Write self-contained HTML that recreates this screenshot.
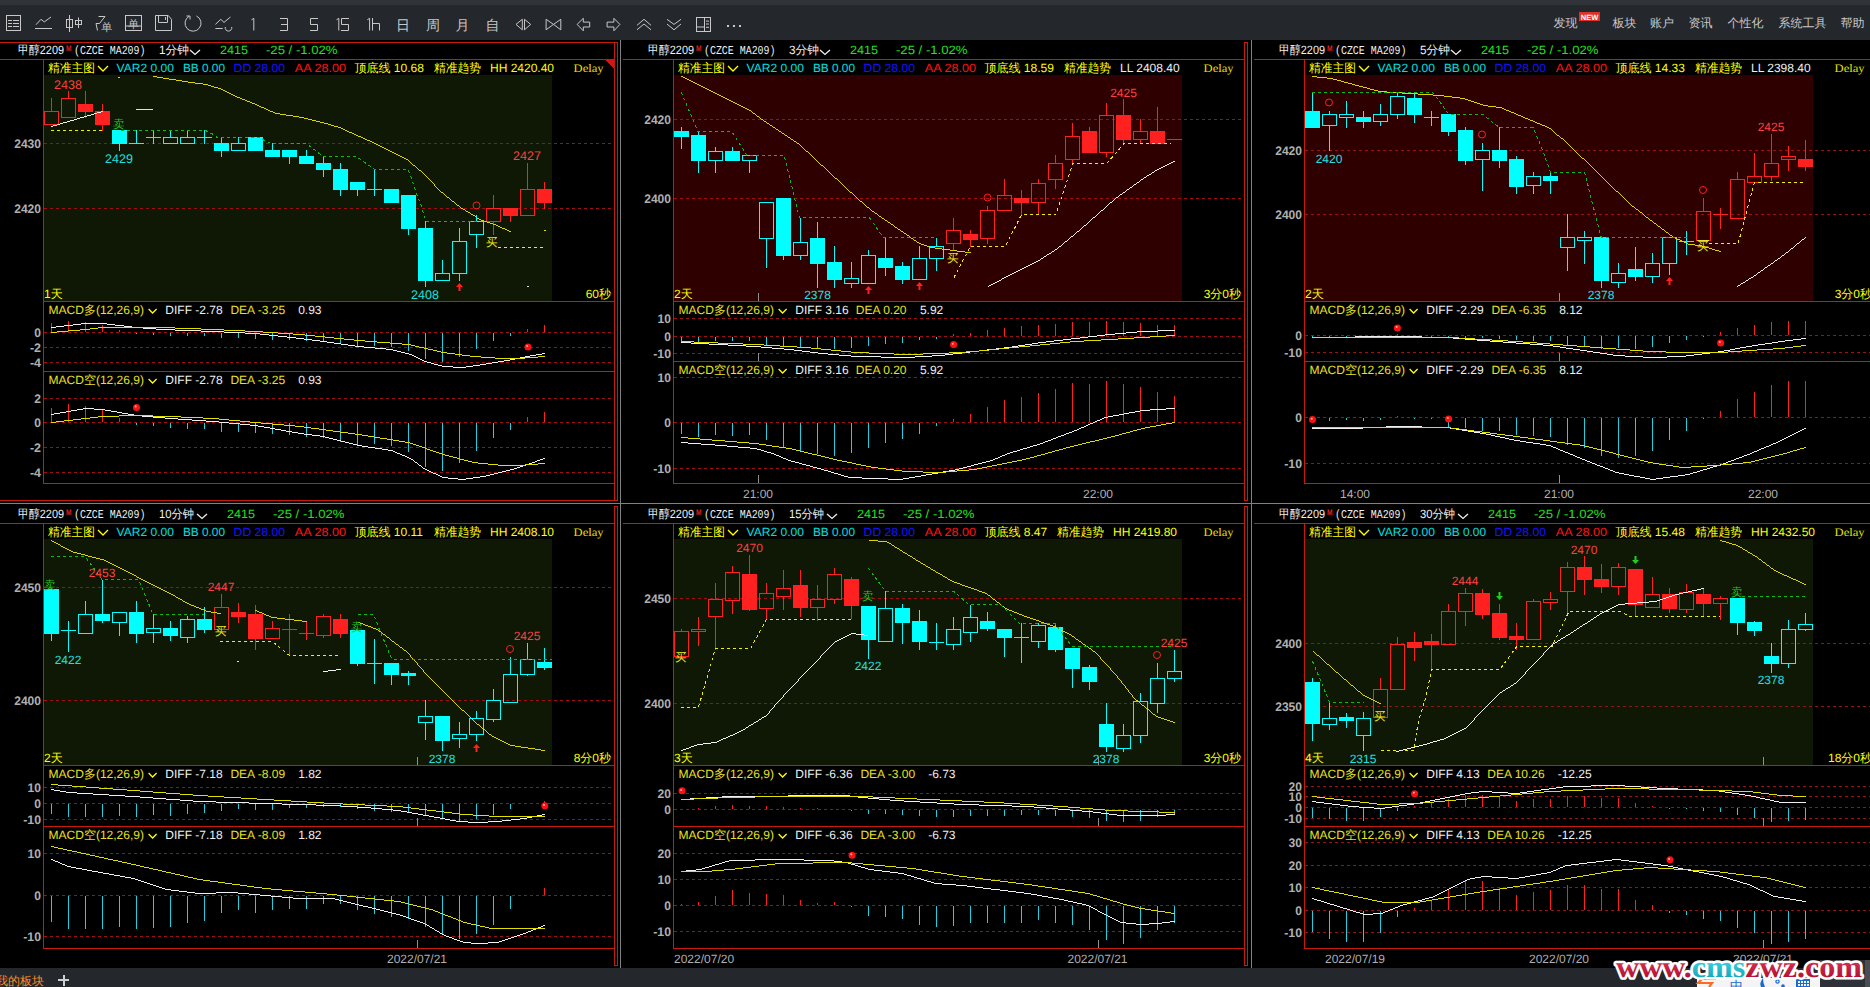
<!DOCTYPE html><html><head><meta charset="utf-8"><style>html,body{margin:0;padding:0;background:#000;overflow:hidden;}svg{display:block;} text{shape-rendering:auto;}</style></head><body><svg width="1870" height="987" viewBox="0 0 1870 987" shape-rendering="crispEdges" text-rendering="geometricPrecision">
<rect x="0" y="0" width="1870" height="987" fill="#000"/>
<rect x="0" y="0" width="1870" height="40" fill="#24272c"/>
<rect x="0" y="0" width="1870" height="5" fill="#303338"/>
<rect x="0" y="40" width="1870" height="2" fill="#000"/>
<g><rect x="6.5" y="15.5" width="14" height="15" fill="none" stroke="#c8c8c8" stroke-width="1" shape-rendering="auto"/><line x1="8" y1="20.5" x2="12" y2="20.5" fill="none" stroke="#c8c8c8" stroke-width="1" shape-rendering="auto"/><line x1="13" y1="20.5" x2="19" y2="20.5" fill="none" stroke="#c8c8c8" stroke-width="1" shape-rendering="auto"/><line x1="8" y1="23.5" x2="12" y2="23.5" fill="none" stroke="#c8c8c8" stroke-width="1" shape-rendering="auto"/><line x1="13" y1="23.5" x2="19" y2="23.5" fill="none" stroke="#c8c8c8" stroke-width="1" shape-rendering="auto"/><line x1="8" y1="26.5" x2="12" y2="26.5" fill="none" stroke="#c8c8c8" stroke-width="1" shape-rendering="auto"/><line x1="13" y1="26.5" x2="19" y2="26.5" fill="none" stroke="#c8c8c8" stroke-width="1" shape-rendering="auto"/><polyline points="36,24.7 41,19.3 44.3,21.9 51,17" fill="none" stroke="#c8c8c8" stroke-width="1" shape-rendering="auto"/><line x1="35" y1="28.5" x2="52" y2="28.5" fill="none" stroke="#c8c8c8" stroke-width="1" shape-rendering="auto"/><rect x="66.5" y="19.5" width="6" height="8" fill="none" stroke="#c8c8c8" stroke-width="1" shape-rendering="auto"/><line x1="69.5" y1="15" x2="69.5" y2="32" fill="none" stroke="#c8c8c8" stroke-width="1" shape-rendering="auto"/><rect x="75.5" y="20.5" width="6" height="4" fill="none" stroke="#c8c8c8" stroke-width="1" shape-rendering="auto"/><line x1="78.5" y1="17.5" x2="78.5" y2="28" fill="none" stroke="#c8c8c8" stroke-width="1" shape-rendering="auto"/><polyline points="98.5,16.5 105,16.5 99.5,23.5 96,23.5 97.5,30.5" fill="none" stroke="#c8c8c8" stroke-width="1" shape-rendering="auto"/><text x="106.8" y="31" fill="#c8c8c8" font-size="11" text-anchor="middle" font-family="Liberation Sans" font-weight="300">单</text><rect x="125.5" y="15.5" width="16" height="15" fill="none" stroke="#c8c8c8" stroke-width="1" shape-rendering="auto"/><line x1="125" y1="26" x2="142" y2="26" fill="none" stroke="#c8c8c8" stroke-width="1" shape-rendering="auto"/><text x="133.5" y="28" fill="#c8c8c8" font-size="11" text-anchor="middle" font-family="Liberation Sans" font-weight="300">单</text><path d="M155.5,15.5 H168.2 L171.5,19.3 V30.5 H155.5 Z" fill="none" stroke="#c8c8c8" stroke-width="1" shape-rendering="auto"/><path d="M158.5,15.5 V22.5 H167.5 V15.5" fill="none" stroke="#c8c8c8" stroke-width="1" shape-rendering="auto"/><line x1="165.5" y1="17" x2="165.5" y2="20" fill="none" stroke="#c8c8c8" stroke-width="1" shape-rendering="auto"/><path d="M189,16.3 A8,8 0 1 0 196.5,16" fill="none" stroke="#c8c8c8" stroke-width="1" shape-rendering="auto"/><path d="M186.5,16 L190,16 L190,19.5" fill="none" stroke="#c8c8c8" stroke-width="1" shape-rendering="auto"/><polyline points="215.4,24.4 220.8,19.3 224,22.4 230.4,17" fill="none" stroke="#c8c8c8" stroke-width="1" shape-rendering="auto"/><line x1="215.4" y1="28.5" x2="222.7" y2="28.5" fill="none" stroke="#c8c8c8" stroke-width="1" shape-rendering="auto"/><path d="M225.3,27 A3.3,3.3 0 1 0 231.7,27" fill="none" stroke="#c8c8c8" stroke-width="1" shape-rendering="auto"/><path d="M251.5,19.8 L253.8,18.3 V30.5" fill="none" stroke="#c8c8c8" stroke-width="1" shape-rendering="auto"/><path d="M280,18.5 H287.5 V30.5 H280 M281,24.5 H287.5" fill="none" stroke="#c8c8c8" stroke-width="1" shape-rendering="auto"/><path d="M318,18.5 H310.5 V24.5 H317.5 V30.5 H310" fill="none" stroke="#c8c8c8" stroke-width="1" shape-rendering="auto"/><path d="M336.5,19.8 L338.8,18.3 V30.5" fill="none" stroke="#c8c8c8" stroke-width="1" shape-rendering="auto"/><path d="M349,18.5 H341.5 V24.5 H348.5 V30.5 H341" fill="none" stroke="#c8c8c8" stroke-width="1" shape-rendering="auto"/><path d="M367.3,19.8 L369.6,18.3 V30.5" fill="none" stroke="#c8c8c8" stroke-width="1" shape-rendering="auto"/><path d="M372.5,18 V30.5 M372.5,23.5 H379.5 V30.5" fill="none" stroke="#c8c8c8" stroke-width="1" shape-rendering="auto"/></g>
<text x="403" y="30" fill="#c8c8c8" font-size="14" font-family='"Liberation Sans", sans-serif' font-weight="300" text-anchor="middle" >日</text>
<text x="433" y="30" fill="#c8c8c8" font-size="14" font-family='"Liberation Sans", sans-serif' font-weight="300" text-anchor="middle" >周</text>
<text x="462.5" y="30" fill="#c8c8c8" font-size="14" font-family='"Liberation Sans", sans-serif' font-weight="300" text-anchor="middle" >月</text>
<text x="492.5" y="30" fill="#c8c8c8" font-size="14" font-family='"Liberation Sans", sans-serif' font-weight="300" text-anchor="middle" >自</text>
<g><polygon points="516,24.4 522.3,19.3 522.3,29.8" fill="none" stroke="#c8c8c8" stroke-width="1" shape-rendering="auto"/><polygon points="524.5,19.3 530.7,24.4 524.5,29.8" fill="none" stroke="#c8c8c8" stroke-width="1" shape-rendering="auto"/><polygon points="546.1,19.3 553.5,24.4 546.1,29.8" fill="none" stroke="#c8c8c8" stroke-width="1" shape-rendering="auto"/><polygon points="560.8,19.3 553.5,24.4 560.8,29.8" fill="none" stroke="#c8c8c8" stroke-width="1" shape-rendering="auto"/><polygon points="577.1,24.4 583.3,18.3 583.3,22.1 589.7,22.1 589.7,27 583.3,27 583.3,30.8" fill="none" stroke="#c8c8c8" stroke-width="1" shape-rendering="auto"/><polygon points="619.9,24.4 613.9,18.3 613.9,22.1 607.1,22.1 607.1,27 613.9,27 613.9,30.8" fill="none" stroke="#c8c8c8" stroke-width="1" shape-rendering="auto"/><polyline points="637,25.3 644,19.3 651,25.3" fill="none" stroke="#c8c8c8" stroke-width="1" shape-rendering="auto"/><polyline points="637,29.8 644,24 651,29.8" fill="none" stroke="#c8c8c8" stroke-width="1" shape-rendering="auto"/><polyline points="667,19.3 674,24.4 681,19.3" fill="none" stroke="#c8c8c8" stroke-width="1" shape-rendering="auto"/><polyline points="667,24 674,29.8 681,24" fill="none" stroke="#c8c8c8" stroke-width="1" shape-rendering="auto"/><rect x="696.5" y="17.5" width="14" height="14" fill="none" stroke="#c8c8c8" stroke-width="1" shape-rendering="auto"/><line x1="704.5" y1="17.5" x2="704.5" y2="31.5" fill="none" stroke="#c8c8c8" stroke-width="1" shape-rendering="auto"/><line x1="696.5" y1="27" x2="704.5" y2="27" fill="none" stroke="#c8c8c8" stroke-width="1" shape-rendering="auto"/><line x1="706" y1="21.1" x2="709" y2="21.1" fill="none" stroke="#c8c8c8" stroke-width="1" shape-rendering="auto"/><line x1="706" y1="24" x2="709" y2="24" fill="none" stroke="#c8c8c8" stroke-width="1" shape-rendering="auto"/><line x1="706" y1="27.3" x2="709" y2="27.3" fill="none" stroke="#c8c8c8" stroke-width="1" shape-rendering="auto"/><rect x="726.7" y="25" width="2" height="2" fill="#c8c8c8"/><rect x="733.1" y="25" width="2" height="2" fill="#c8c8c8"/><rect x="738.9" y="25" width="2" height="2" fill="#c8c8c8"/></g>
<text x="1553.5" y="27" fill="#c8c8c8" font-size="12" font-family='"Liberation Sans", sans-serif' font-weight="normal" text-anchor="start" >发现</text>
<text x="1612.5" y="27" fill="#c8c8c8" font-size="12" font-family='"Liberation Sans", sans-serif' font-weight="normal" text-anchor="start" >板块</text>
<text x="1650" y="27" fill="#c8c8c8" font-size="12" font-family='"Liberation Sans", sans-serif' font-weight="normal" text-anchor="start" >账户</text>
<text x="1688.5" y="27" fill="#c8c8c8" font-size="12" font-family='"Liberation Sans", sans-serif' font-weight="normal" text-anchor="start" >资讯</text>
<text x="1727.5" y="27" fill="#c8c8c8" font-size="12" font-family='"Liberation Sans", sans-serif' font-weight="normal" text-anchor="start" >个性化</text>
<text x="1778.5" y="27" fill="#c8c8c8" font-size="12" font-family='"Liberation Sans", sans-serif' font-weight="normal" text-anchor="start" >系统工具</text>
<text x="1840.5" y="27" fill="#c8c8c8" font-size="12" font-family='"Liberation Sans", sans-serif' font-weight="normal" text-anchor="start" >帮助</text>
<rect x="1579" y="12" width="21" height="9" fill="#e0302a"/>
<text x="1589.5" y="19.5" fill="#fff" font-size="7.5" font-family='"Liberation Sans", sans-serif' font-weight="bold" text-anchor="middle" >NEW</text>
<rect x="620" y="40" width="1" height="928" fill="#808080"/>
<rect x="1251" y="40" width="1" height="928" fill="#808080"/>
<rect x="0" y="503" width="1870" height="1" fill="#808080"/>
<g transform="translate(0,0)">
<text x="18" y="54" fill="#f0f0f0" font-size="12" font-family='"Liberation Sans", sans-serif' font-weight="normal" text-anchor="start" textLength="46" lengthAdjust="spacingAndGlyphs">甲醇2209</text>
<text x="66" y="50.5" fill="#e02020" font-size="8" font-family='"Liberation Sans", sans-serif' font-weight="bold" text-anchor="start" textLength="5.5" lengthAdjust="spacingAndGlyphs">M</text>
<text x="74" y="54" fill="#f0f0f0" font-size="12" font-family='"Liberation Mono", monospace' font-weight="normal" text-anchor="start" textLength="71.5" lengthAdjust="spacingAndGlyphs">(CZCE MA209)</text>
<text x="159" y="54" fill="#f0f0f0" font-size="12" font-family='"Liberation Sans", sans-serif' font-weight="normal" text-anchor="start" textLength="30" lengthAdjust="spacingAndGlyphs">1分钟</text>
<polyline points="190,50 195,54.5 200,50" fill="none" stroke="#f0f0f0" stroke-width="1.3" shape-rendering="auto"/>
<text x="220" y="54" fill="#20e020" font-size="12" font-family='"Liberation Sans", sans-serif' font-weight="normal" text-anchor="start" textLength="28" lengthAdjust="spacingAndGlyphs">2415</text>
<text x="266" y="54" fill="#20e020" font-size="12" font-family='"Liberation Sans", sans-serif' font-weight="normal" text-anchor="start" textLength="71.5" lengthAdjust="spacingAndGlyphs">-25 / -1.02%</text>
<rect x="0" y="59" width="615" height="1" fill="#c81a0c"/>
<rect x="43" y="59" width="1" height="425" fill="#c81a0c"/>
<rect x="614" y="42" width="1" height="459" fill="#c81a0c"/>
<rect x="617" y="42" width="1" height="459" fill="#c81a0c"/>
<rect x="0" y="42" width="618" height="1" fill="#c81a0c"/>
<rect x="0" y="500" width="618" height="1" fill="#c81a0c"/>
<polygon points="605,60 614,60 614,69" fill="#d01810"/>
<rect x="44" y="75" width="508" height="226" fill="#0e1804"/>
<rect x="43" y="301" width="572" height="1" fill="#c81a0c"/>
<rect x="43" y="371" width="572" height="1" fill="#c81a0c"/>
<rect x="43" y="483" width="572" height="1" fill="#c81a0c"/>
<text x="48" y="71.5" fill="#ffff00" font-size="12" font-family='"Liberation Sans", sans-serif' font-weight="normal" text-anchor="start" textLength="47" lengthAdjust="spacingAndGlyphs">精准主图</text>
<polyline points="98,66 103,71 108,66" fill="none" stroke="#ffff00" stroke-width="1.4" shape-rendering="auto"/>
<text x="116.6" y="71.5" fill="#00e0e0" font-size="12" font-family='"Liberation Sans", sans-serif' font-weight="normal" text-anchor="start" textLength="57.4" lengthAdjust="spacingAndGlyphs">VAR2 0.00</text>
<text x="183" y="71.5" fill="#00e0e0" font-size="12" font-family='"Liberation Sans", sans-serif' font-weight="normal" text-anchor="start" textLength="42" lengthAdjust="spacingAndGlyphs">BB 0.00</text>
<text x="233.6" y="71.5" fill="#1414ff" font-size="12" font-family='"Liberation Sans", sans-serif' font-weight="normal" text-anchor="start" textLength="51.4" lengthAdjust="spacingAndGlyphs">DD 28.00</text>
<text x="294.8" y="71.5" fill="#ff1414" font-size="12" font-family='"Liberation Sans", sans-serif' font-weight="normal" text-anchor="start" textLength="51.2" lengthAdjust="spacingAndGlyphs">AA 28.00</text>
<text x="354.5" y="71.5" fill="#ffff00" font-size="12" font-family='"Liberation Sans", sans-serif' font-weight="normal" text-anchor="start" >顶底线 10.68</text>
<text x="434" y="71.5" fill="#ffff00" font-size="12" font-family='"Liberation Sans", sans-serif' font-weight="normal" text-anchor="start" textLength="47" lengthAdjust="spacingAndGlyphs">精准趋势</text>
<text x="490" y="71.5" fill="#ffff00" font-size="12" font-family='"Liberation Sans", sans-serif' font-weight="normal" text-anchor="start" >HH 2420.40</text>
<text x="573.6" y="71.5" fill="#e8e000" font-size="11.5" font-family='"Liberation Serif", serif' font-weight="normal" text-anchor="start" textLength="30" lengthAdjust="spacingAndGlyphs">Delay</text>
<line x1="44" y1="143.5" x2="614" y2="143.5" stroke="#a01010" stroke-width="1" stroke-dasharray="3 3"/>
<text x="41" y="148" fill="#b0b0b0" font-size="12.5" font-family='"Liberation Sans", sans-serif' font-weight="bold" text-anchor="end" textLength="26.8" lengthAdjust="spacingAndGlyphs">2430</text>
<line x1="44" y1="208.5" x2="614" y2="208.5" stroke="#a01010" stroke-width="1" stroke-dasharray="3 3"/>
<text x="41" y="213" fill="#b0b0b0" font-size="12.5" font-family='"Liberation Sans", sans-serif' font-weight="bold" text-anchor="end" textLength="26.8" lengthAdjust="spacingAndGlyphs">2420</text>
<line x1="44" y1="332.5" x2="614" y2="332.5" stroke="#a01010" stroke-width="1" stroke-dasharray="3 3"/>
<text x="41" y="337" fill="#b0b0b0" font-size="12.5" font-family='"Liberation Sans", sans-serif' font-weight="bold" text-anchor="end" textLength="6.7" lengthAdjust="spacingAndGlyphs">0</text>
<line x1="44" y1="347.5" x2="614" y2="347.5" stroke="#a01010" stroke-width="1" stroke-dasharray="3 3"/>
<text x="41" y="352" fill="#b0b0b0" font-size="12.5" font-family='"Liberation Sans", sans-serif' font-weight="bold" text-anchor="end" textLength="11.1" lengthAdjust="spacingAndGlyphs">-2</text>
<line x1="44" y1="362.5" x2="614" y2="362.5" stroke="#a01010" stroke-width="1" stroke-dasharray="3 3"/>
<text x="41" y="367" fill="#b0b0b0" font-size="12.5" font-family='"Liberation Sans", sans-serif' font-weight="bold" text-anchor="end" textLength="11.1" lengthAdjust="spacingAndGlyphs">-4</text>
<line x1="44" y1="398.5" x2="614" y2="398.5" stroke="#a01010" stroke-width="1" stroke-dasharray="3 3"/>
<text x="41" y="403" fill="#b0b0b0" font-size="12.5" font-family='"Liberation Sans", sans-serif' font-weight="bold" text-anchor="end" textLength="6.7" lengthAdjust="spacingAndGlyphs">2</text>
<line x1="44" y1="422.5" x2="614" y2="422.5" stroke="#a01010" stroke-width="1" stroke-dasharray="3 3"/>
<text x="41" y="427" fill="#b0b0b0" font-size="12.5" font-family='"Liberation Sans", sans-serif' font-weight="bold" text-anchor="end" textLength="6.7" lengthAdjust="spacingAndGlyphs">0</text>
<line x1="44" y1="447.5" x2="614" y2="447.5" stroke="#a01010" stroke-width="1" stroke-dasharray="3 3"/>
<text x="41" y="452" fill="#b0b0b0" font-size="12.5" font-family='"Liberation Sans", sans-serif' font-weight="bold" text-anchor="end" textLength="11.1" lengthAdjust="spacingAndGlyphs">-2</text>
<line x1="44" y1="472.5" x2="614" y2="472.5" stroke="#a01010" stroke-width="1" stroke-dasharray="3 3"/>
<text x="41" y="477" fill="#b0b0b0" font-size="12.5" font-family='"Liberation Sans", sans-serif' font-weight="bold" text-anchor="end" textLength="11.1" lengthAdjust="spacingAndGlyphs">-4</text>
<text x="48.5" y="314" fill="#e8e020" font-size="12" font-family='"Liberation Sans", sans-serif' font-weight="normal" text-anchor="start" textLength="95.5" lengthAdjust="spacingAndGlyphs">MACD多(12,26,9)</text>
<polyline points="148.6,309 152.6,313 156.6,309" fill="none" stroke="#ffff00" stroke-width="1.3" shape-rendering="auto"/>
<text x="165.3" y="314" fill="#f0f0f0" font-size="12" font-family='"Liberation Sans", sans-serif' font-weight="normal" text-anchor="start" >DIFF -2.78</text>
<text x="230.4" y="314" fill="#e8e020" font-size="12" font-family='"Liberation Sans", sans-serif' font-weight="normal" text-anchor="start" >DEA -3.25</text>
<text x="298.2" y="314" fill="#f0f0f0" font-size="12" font-family='"Liberation Sans", sans-serif' font-weight="normal" text-anchor="start" >0.93</text>
<text x="48.5" y="384" fill="#e8e020" font-size="12" font-family='"Liberation Sans", sans-serif' font-weight="normal" text-anchor="start" textLength="95.5" lengthAdjust="spacingAndGlyphs">MACD空(12,26,9)</text>
<polyline points="148.6,379 152.6,383 156.6,379" fill="none" stroke="#ffff00" stroke-width="1.3" shape-rendering="auto"/>
<text x="165.3" y="384" fill="#f0f0f0" font-size="12" font-family='"Liberation Sans", sans-serif' font-weight="normal" text-anchor="start" >DIFF -2.78</text>
<text x="230.4" y="384" fill="#e8e020" font-size="12" font-family='"Liberation Sans", sans-serif' font-weight="normal" text-anchor="start" >DEA -3.25</text>
<text x="298.2" y="384" fill="#f0f0f0" font-size="12" font-family='"Liberation Sans", sans-serif' font-weight="normal" text-anchor="start" >0.93</text>
<text x="44" y="297.5" fill="#ffff00" font-size="12" font-family='"Liberation Sans", sans-serif' font-weight="normal" text-anchor="start" >1天</text>
<text x="611" y="297.5" fill="#ffff00" font-size="12" font-family='"Liberation Sans", sans-serif' font-weight="normal" text-anchor="end" >60秒</text>
<rect x="51" y="98" width="1" height="13" fill="#ff2020"/>
<rect x="44.5" y="111.5" width="14" height="13" fill="none" stroke="#ff2020" stroke-width="1"/>
<rect x="68" y="91" width="1" height="7" fill="#ff2020"/>
<rect x="61.5" y="98.5" width="14" height="19" fill="none" stroke="#ff2020" stroke-width="1"/>
<rect x="85" y="91" width="1" height="13" fill="#ff2020"/>
<rect x="85" y="112" width="1" height="6" fill="#ff2020"/>
<rect x="78" y="104" width="15" height="8" fill="#ff2020"/>
<rect x="102" y="104" width="1" height="7" fill="#ff2020"/>
<rect x="102" y="125" width="1" height="6" fill="#ff2020"/>
<rect x="95" y="111" width="15" height="14" fill="#ff2020"/>
<rect x="119" y="144" width="1" height="7" fill="#00ffff"/>
<rect x="112" y="130" width="15" height="14" fill="#00ffff"/>
<rect x="136" y="130" width="1" height="13" fill="#00ffff"/>
<rect x="129" y="143" width="15" height="1" fill="#00ffff"/>
<rect x="153" y="130" width="1" height="7" fill="#00ffff"/>
<rect x="153" y="138" width="1" height="6" fill="#00ffff"/>
<rect x="146" y="137" width="15" height="1" fill="#00ffff"/>
<rect x="170" y="130" width="1" height="7" fill="#00ffff"/>
<rect x="163.5" y="137.5" width="14" height="6" fill="none" stroke="#00ffff" stroke-width="1"/>
<rect x="187" y="130" width="1" height="7" fill="#00ffff"/>
<rect x="180.5" y="137.5" width="14" height="6" fill="none" stroke="#00ffff" stroke-width="1"/>
<rect x="204" y="130" width="1" height="7" fill="#00ffff"/>
<rect x="204" y="138" width="1" height="6" fill="#00ffff"/>
<rect x="197" y="137" width="15" height="1" fill="#00ffff"/>
<rect x="221" y="137" width="1" height="6" fill="#00ffff"/>
<rect x="221" y="151" width="1" height="6" fill="#00ffff"/>
<rect x="214" y="143" width="15" height="8" fill="#00ffff"/>
<rect x="238" y="137" width="1" height="6" fill="#00ffff"/>
<rect x="231.5" y="143.5" width="14" height="7" fill="none" stroke="#00ffff" stroke-width="1"/>
<rect x="248" y="137" width="15" height="14" fill="#00ffff"/>
<rect x="272" y="143" width="1" height="7" fill="#00ffff"/>
<rect x="265" y="150" width="15" height="7" fill="#00ffff"/>
<rect x="289" y="157" width="1" height="7" fill="#00ffff"/>
<rect x="282" y="150" width="15" height="7" fill="#00ffff"/>
<rect x="306" y="150" width="1" height="6" fill="#00ffff"/>
<rect x="299" y="156" width="15" height="8" fill="#00ffff"/>
<rect x="323" y="156" width="1" height="7" fill="#00ffff"/>
<rect x="323" y="170" width="1" height="7" fill="#00ffff"/>
<rect x="316" y="163" width="15" height="7" fill="#00ffff"/>
<rect x="340" y="163" width="1" height="6" fill="#00ffff"/>
<rect x="340" y="190" width="1" height="6" fill="#00ffff"/>
<rect x="333" y="169" width="15" height="21" fill="#00ffff"/>
<rect x="357" y="190" width="1" height="6" fill="#00ffff"/>
<rect x="350" y="182" width="15" height="8" fill="#00ffff"/>
<rect x="374" y="169" width="1" height="20" fill="#00ffff"/>
<rect x="374" y="190" width="1" height="6" fill="#00ffff"/>
<rect x="367" y="189" width="15" height="1" fill="#00ffff"/>
<rect x="384" y="189" width="15" height="14" fill="#00ffff"/>
<rect x="408" y="229" width="1" height="6" fill="#00ffff"/>
<rect x="401" y="195" width="15" height="34" fill="#00ffff"/>
<rect x="425" y="221" width="1" height="7" fill="#00ffff"/>
<rect x="425" y="281" width="1" height="6" fill="#00ffff"/>
<rect x="418" y="228" width="15" height="53" fill="#00ffff"/>
<rect x="442" y="260" width="1" height="13" fill="#00ffff"/>
<rect x="435.5" y="273.5" width="14" height="7" fill="none" stroke="#00ffff" stroke-width="1"/>
<rect x="459" y="228" width="1" height="13" fill="#00ffff"/>
<rect x="459" y="274" width="1" height="7" fill="#00ffff"/>
<rect x="452.5" y="241.5" width="14" height="32" fill="none" stroke="#00ffff" stroke-width="1"/>
<rect x="476" y="215" width="1" height="6" fill="#00ffff"/>
<rect x="476" y="235" width="1" height="13" fill="#00ffff"/>
<rect x="469.5" y="221.5" width="14" height="13" fill="none" stroke="#00ffff" stroke-width="1"/>
<rect x="493" y="195" width="1" height="13" fill="#ff2020"/>
<rect x="493" y="222" width="1" height="13" fill="#ff2020"/>
<rect x="486.5" y="208.5" width="14" height="13" fill="none" stroke="#ff2020" stroke-width="1"/>
<rect x="510" y="216" width="1" height="6" fill="#ff2020"/>
<rect x="503" y="208" width="15" height="8" fill="#ff2020"/>
<rect x="527" y="163" width="1" height="26" fill="#ff2020"/>
<rect x="520.5" y="189.5" width="14" height="26" fill="none" stroke="#ff2020" stroke-width="1"/>
<rect x="544" y="182" width="1" height="7" fill="#ff2020"/>
<rect x="544" y="203" width="1" height="6" fill="#ff2020"/>
<rect x="537" y="189" width="15" height="14" fill="#ff2020"/>
<path d="M153 76h4v1h-4zM157 77h6v1h-6zM163 78h6v1h-6zM169 79h7v1h-7zM176 80h6v1h-6zM182 81h6v1h-6zM188 82h7v1h-7zM195 83h8v1h-8zM203 84h5v1h-5zM208 85h3v1h-3zM211 86h3v1h-3zM214 87h4v1h-4zM218 88h3v1h-3zM221 89h2v1h-2zM223 90h2v1h-2zM225 91h2v1h-2zM227 92h2v1h-2zM229 93h2v1h-2zM231 94h2v1h-2zM233 95h2v1h-2zM235 96h2v1h-2zM237 97h3v1h-3zM240 98h2v1h-2zM242 99h3v1h-3zM245 100h2v1h-2zM247 101h3v1h-3zM250 102h2v1h-2zM252 103h3v1h-3zM255 104h2v1h-2zM257 105h2v1h-2zM259 106h2v1h-2zM261 107h3v1h-3zM264 108h2v1h-2zM266 109h2v1h-2zM268 110h2v1h-2zM270 111h3v1h-3zM273 112h2v1h-2zM275 113h5v1h-5zM280 114h6v1h-6zM286 115h7v1h-7zM293 116h6v1h-6zM299 117h5v1h-5zM304 118h4v1h-4zM308 119h4v1h-4zM312 120h4v1h-4zM316 121h4v1h-4zM320 122h4v1h-4zM324 123h4v1h-4zM328 124h3v1h-3zM331 125h3v1h-3zM334 126h4v1h-4zM338 127h3v1h-3zM341 128h2v1h-2zM343 129h2v1h-2zM345 130h2v1h-2zM347 131h2v1h-2zM349 132h3v1h-3zM352 133h2v1h-2zM354 134h2v1h-2zM356 135h2v1h-2zM358 136h3v1h-3zM361 137h2v1h-2zM363 138h2v1h-2zM365 139h2v1h-2zM367 140h3v1h-3zM370 141h2v1h-2zM372 142h2v1h-2zM374 143h2v1h-2zM376 144h2v1h-2zM378 145h2v1h-2zM380 146h2v1h-2zM382 147h2v1h-2zM384 148h2v1h-2zM386 149h2v1h-2zM388 150h2v1h-2zM390 151h2v1h-2zM392 152h2v1h-2zM394 153h2v1h-2zM396 154h2v1h-2zM398 155h2v1h-2zM400 156h2v1h-2zM402 157h2v1h-2zM404 158h2v1h-2zM406 159h2v1h-2zM408 160h1v1h-1zM409 161h1v1h-1zM410 162h1v1h-1zM411 163h1v1h-1zM412 164h1v1h-1zM413 165h2v1h-2zM415 166h1v1h-1zM416 167h1v1h-1zM417 168h1v1h-1zM418 169h1v1h-1zM419 170h2v1h-2zM421 171h1v1h-1zM422 172h1v1h-1zM423 173h1v1h-1zM424 174h1v1h-1zM425 175h1v1h-1zM426 176h1v1h-1zM427 177h1v1h-1zM428 178h1v1h-1zM429 179h1v1h-1zM430 180h1v1h-1zM431 181h1v1h-1zM432 182h1v1h-1zM433 183h1v1h-1zM434 184h1v1h-1zM434 185h1v1h-1zM435 186h1v1h-1zM436 187h1v1h-1zM437 188h1v1h-1zM438 189h1v1h-1zM439 190h1v1h-1zM440 191h1v1h-1zM441 192h2v1h-2zM443 193h1v1h-1zM444 194h1v1h-1zM445 195h1v1h-1zM446 196h1v1h-1zM447 197h2v1h-2zM449 198h1v1h-1zM450 199h1v1h-1zM451 200h1v1h-1zM452 201h2v1h-2zM454 202h1v1h-1zM455 203h1v1h-1zM456 204h1v1h-1zM457 205h2v1h-2zM459 206h1v1h-1zM460 207h1v1h-1zM461 208h2v1h-2zM463 209h2v1h-2zM465 210h1v1h-1zM466 211h2v1h-2zM468 212h2v1h-2zM470 213h1v1h-1zM471 214h2v1h-2zM473 215h2v1h-2zM475 216h1v1h-1zM476 217h1v1h-1zM477 218h2v1h-2zM479 219h2v1h-2zM481 220h3v1h-3zM484 221h3v1h-3zM487 222h3v1h-3zM490 223h3v1h-3zM493 224h3v1h-3zM496 225h2v1h-2zM498 226h2v1h-2zM500 227h2v1h-2zM502 228h3v1h-3zM505 229h2v1h-2zM507 230h2v1h-2zM509 231h2v1h-2z" fill="#dcd400"/>
<path d="M101 111h2v1h-2zM97 112h4v1h-4zM94 113h3v1h-3zM91 114h3v1h-3zM87 115h4v1h-4zM84 116h3v1h-3zM80 117h4v1h-4zM77 118h3v1h-3zM74 119h3v1h-3zM70 120h4v1h-4zM67 121h3v1h-3zM63 122h4v1h-4zM60 123h3v1h-3zM57 124h3v1h-3zM53 125h4v1h-4zM51 126h2v1h-2z" fill="#f0f0f0"/>
<polyline points="51.0,130.5 103.0,130.5" fill="none" stroke="#f0f000" stroke-width="1" stroke-dasharray="3 3"/>
<polyline points="121.0,130.5 205.5,130.5 210.0,132.9 215.7,135.5 217.0,137.5 259.4,137.5 263.9,140.3 270.9,143.5 305.6,143.5 312.0,147.7 319.0,153.4 323.6,156.5 356.2,156.5 367.8,164.5 372.3,167.9 374.5,169.5 407.9,169.5 410.1,174.6 414.6,187.9 416.8,194.6 420.2,202.4 424.1,215.8 425.7,219.1 427.0,221.5 477.0,221.5" fill="none" stroke="#10b810" stroke-width="1" stroke-dasharray="3 3"/>
<polyline points="498.0,247.5 545.0,247.5" fill="none" stroke="#f0f000" stroke-width="1" stroke-dasharray="3 3"/>
<rect x="136" y="109" width="17" height="1" fill="#e0e0e0"/>
<text x="68" y="89" fill="#ff4040" font-size="12.5" font-family="Liberation Sans" text-anchor="middle">2438</text>
<text x="119" y="163" fill="#20e0e0" font-size="12.5" font-family="Liberation Sans" text-anchor="middle">2429</text>
<text x="425" y="299" fill="#20e0e0" font-size="12.5" font-family="Liberation Sans" text-anchor="middle">2408</text>
<text x="527" y="160" fill="#ff4040" font-size="12.5" font-family="Liberation Sans" text-anchor="middle">2427</text>
<text x="113" y="128" fill="#24c424" font-size="11.5" font-family="Liberation Sans">卖</text>
<text x="486" y="246" fill="#f0e818" font-size="11.5" font-family="Liberation Sans">买</text>
<circle cx="476.5" cy="205.5" r="3.5" fill="none" stroke="#ff2020" stroke-width="1" shape-rendering="auto"/>
<path d="M459.5,283 L463,287 L460.5,287 L460.5,291 L458.5,291 L458.5,287 L456,287 Z" fill="#ff2020" shape-rendering="auto"/>
<rect x="544" y="230" width="2" height="1" fill="#e0e000"/>
<rect x="118" y="77" width="2" height="1" fill="#e0e000"/>
<rect x="527" y="286" width="2" height="1" fill="#e0e0e0"/>
<rect x="51" y="323" width="1" height="9" fill="#ff2020"/>
<rect x="68" y="321" width="1" height="11" fill="#ff2020"/>
<rect x="85" y="322" width="1" height="10" fill="#ff2020"/>
<rect x="102" y="325" width="1" height="7" fill="#ff2020"/>
<rect x="119" y="330" width="1" height="2" fill="#ff2020"/>
<rect x="136" y="333" width="1" height="1" fill="#20d0e0"/>
<rect x="153" y="333" width="1" height="2" fill="#20d0e0"/>
<rect x="170" y="333" width="1" height="3" fill="#20d0e0"/>
<rect x="187" y="333" width="1" height="3" fill="#20d0e0"/>
<rect x="204" y="333" width="1" height="3" fill="#20d0e0"/>
<rect x="221" y="333" width="1" height="5" fill="#20d0e0"/>
<rect x="238" y="333" width="1" height="5" fill="#20d0e0"/>
<rect x="255" y="333" width="1" height="6" fill="#20d0e0"/>
<rect x="272" y="333" width="1" height="7" fill="#20d0e0"/>
<rect x="289" y="333" width="1" height="7" fill="#20d0e0"/>
<rect x="306" y="333" width="1" height="8" fill="#20d0e0"/>
<rect x="323" y="333" width="1" height="8" fill="#20d0e0"/>
<rect x="340" y="333" width="1" height="11" fill="#20d0e0"/>
<rect x="357" y="333" width="1" height="14" fill="#20d0e0"/>
<rect x="374" y="333" width="1" height="13" fill="#20d0e0"/>
<rect x="391" y="333" width="1" height="14" fill="#20d0e0"/>
<rect x="408" y="333" width="1" height="18" fill="#20d0e0"/>
<rect x="425" y="333" width="1" height="26" fill="#20d0e0"/>
<rect x="442" y="333" width="1" height="29" fill="#20d0e0"/>
<rect x="459" y="333" width="1" height="24" fill="#20d0e0"/>
<rect x="476" y="333" width="1" height="16" fill="#20d0e0"/>
<rect x="493" y="333" width="1" height="8" fill="#20d0e0"/>
<rect x="510" y="333" width="1" height="3" fill="#20d0e0"/>
<rect x="527" y="329" width="1" height="3" fill="#ff2020"/>
<rect x="544" y="325" width="1" height="7" fill="#ff2020"/>
<path d="M81 323h26v1h-26zM73 324h8v1h-8zM107 324h8v1h-8zM64 325h9v1h-9zM115 325h9v1h-9zM56 326h8v1h-8zM124 326h8v1h-8zM51 327h5v1h-5zM132 327h11v1h-11zM143 328h13v1h-13zM156 329h19v1h-19zM175 330h26v1h-26zM201 331h23v1h-23zM224 332h21v1h-21zM245 333h15v1h-15zM260 334h9v1h-9zM269 335h9v1h-9zM278 336h9v1h-9zM287 337h9v1h-9zM296 338h8v1h-8zM304 339h8v1h-8zM312 340h8v1h-8zM320 341h7v1h-7zM327 342h7v1h-7zM334 343h7v1h-7zM341 344h7v1h-7zM348 345h7v1h-7zM355 346h9v1h-9zM364 347h11v1h-11zM375 348h11v1h-11zM386 349h7v1h-7zM393 350h4v1h-4zM397 351h4v1h-4zM401 352h4v1h-4zM405 353h4v1h-4zM542 353h3v1h-3zM409 354h3v1h-3zM536 354h6v1h-6zM412 355h2v1h-2zM530 355h6v1h-6zM414 356h2v1h-2zM525 356h5v1h-5zM416 357h2v1h-2zM520 357h5v1h-5zM418 358h2v1h-2zM515 358h5v1h-5zM420 359h2v1h-2zM510 359h5v1h-5zM422 360h2v1h-2zM504 360h6v1h-6zM424 361h3v1h-3zM498 361h6v1h-6zM427 362h4v1h-4zM492 362h6v1h-6zM431 363h3v1h-3zM486 363h6v1h-6zM434 364h4v1h-4zM480 364h6v1h-6zM438 365h4v1h-4zM473 365h7v1h-7zM442 366h11v1h-11zM466 366h7v1h-7zM453 367h13v1h-13z" fill="#f0f0f0"/>
<path d="M98 327h77v1h-77zM90 328h8v1h-8zM175 328h26v1h-26zM80 329h10v1h-10zM201 329h23v1h-23zM68 330h12v1h-12zM224 330h21v1h-21zM57 331h11v1h-11zM245 331h18v1h-18zM51 332h6v1h-6zM263 332h15v1h-15zM278 333h15v1h-15zM293 334h12v1h-12zM305 335h10v1h-10zM315 336h10v1h-10zM325 337h9v1h-9zM334 338h10v1h-10zM344 339h10v1h-10zM354 340h11v1h-11zM365 341h12v1h-12zM377 342h13v1h-13zM390 343h12v1h-12zM402 344h9v1h-9zM411 345h4v1h-4zM415 346h4v1h-4zM419 347h5v1h-5zM424 348h4v1h-4zM428 349h5v1h-5zM433 350h4v1h-4zM437 351h4v1h-4zM441 352h6v1h-6zM447 353h8v1h-8zM455 354h7v1h-7zM462 355h8v1h-8zM470 356h11v1h-11zM538 356h7v1h-7zM481 357h14v1h-14zM525 357h13v1h-13zM495 358h30v1h-30z" fill="#e0e000"/>
<circle cx="528" cy="347" r="3.5" fill="#ff1010" shape-rendering="auto"/><circle cx="527.2" cy="346.1" r="1" fill="#ffb0b0" shape-rendering="auto"/>
<rect x="51" y="408" width="1" height="14" fill="#ff2020"/>
<rect x="68" y="404" width="1" height="18" fill="#ff2020"/>
<rect x="85" y="406" width="1" height="16" fill="#ff2020"/>
<rect x="102" y="410" width="1" height="12" fill="#ff2020"/>
<rect x="119" y="418" width="1" height="4" fill="#ff2020"/>
<rect x="136" y="423" width="1" height="2" fill="#20d0e0"/>
<rect x="153" y="423" width="1" height="3" fill="#20d0e0"/>
<rect x="170" y="423" width="1" height="5" fill="#20d0e0"/>
<rect x="187" y="423" width="1" height="6" fill="#20d0e0"/>
<rect x="204" y="423" width="1" height="6" fill="#20d0e0"/>
<rect x="221" y="423" width="1" height="9" fill="#20d0e0"/>
<rect x="238" y="423" width="1" height="9" fill="#20d0e0"/>
<rect x="255" y="423" width="1" height="10" fill="#20d0e0"/>
<rect x="272" y="423" width="1" height="11" fill="#20d0e0"/>
<rect x="289" y="423" width="1" height="12" fill="#20d0e0"/>
<rect x="306" y="423" width="1" height="14" fill="#20d0e0"/>
<rect x="323" y="423" width="1" height="15" fill="#20d0e0"/>
<rect x="340" y="423" width="1" height="19" fill="#20d0e0"/>
<rect x="357" y="423" width="1" height="22" fill="#20d0e0"/>
<rect x="374" y="423" width="1" height="21" fill="#20d0e0"/>
<rect x="391" y="423" width="1" height="23" fill="#20d0e0"/>
<rect x="408" y="423" width="1" height="29" fill="#20d0e0"/>
<rect x="425" y="423" width="1" height="44" fill="#20d0e0"/>
<rect x="442" y="423" width="1" height="48" fill="#20d0e0"/>
<rect x="459" y="423" width="1" height="40" fill="#20d0e0"/>
<rect x="476" y="423" width="1" height="28" fill="#20d0e0"/>
<rect x="493" y="423" width="1" height="15" fill="#20d0e0"/>
<rect x="510" y="423" width="1" height="7" fill="#20d0e0"/>
<rect x="527" y="417" width="1" height="5" fill="#ff2020"/>
<rect x="544" y="412" width="1" height="10" fill="#ff2020"/>
<path d="M83 408h11v1h-11zM77 409h6v1h-6zM94 409h11v1h-11zM71 410h6v1h-6zM105 410h6v1h-6zM66 411h5v1h-5zM111 411h6v1h-6zM60 412h6v1h-6zM117 412h5v1h-5zM54 413h6v1h-6zM122 413h6v1h-6zM51 414h3v1h-3zM128 414h6v1h-6zM134 415h8v1h-8zM142 416h11v1h-11zM153 417h12v1h-12zM165 418h13v1h-13zM178 419h14v1h-14zM192 420h14v1h-14zM206 421h13v1h-13zM219 422h10v1h-10zM229 423h11v1h-11zM240 424h10v1h-10zM250 425h8v1h-8zM258 426h6v1h-6zM264 427h6v1h-6zM270 428h5v1h-5zM275 429h6v1h-6zM281 430h5v1h-5zM286 431h6v1h-6zM292 432h6v1h-6zM298 433h6v1h-6zM304 434h8v1h-8zM312 435h8v1h-8zM320 436h5v1h-5zM325 437h4v1h-4zM329 438h4v1h-4zM333 439h4v1h-4zM337 440h4v1h-4zM341 441h4v1h-4zM345 442h4v1h-4zM349 443h4v1h-4zM353 444h4v1h-4zM357 445h5v1h-5zM362 446h6v1h-6zM368 447h7v1h-7zM375 448h7v1h-7zM382 449h6v1h-6zM388 450h5v1h-5zM393 451h2v1h-2zM395 452h2v1h-2zM397 453h3v1h-3zM400 454h2v1h-2zM402 455h3v1h-3zM405 456h2v1h-2zM407 457h2v1h-2zM409 458h2v1h-2zM543 458h2v1h-2zM411 459h2v1h-2zM540 459h3v1h-3zM413 460h1v1h-1zM537 460h3v1h-3zM414 461h1v1h-1zM535 461h2v1h-2zM415 462h2v1h-2zM532 462h3v1h-3zM417 463h1v1h-1zM529 463h3v1h-3zM418 464h1v1h-1zM526 464h3v1h-3zM419 465h2v1h-2zM523 465h3v1h-3zM421 466h1v1h-1zM520 466h3v1h-3zM422 467h1v1h-1zM517 467h3v1h-3zM423 468h2v1h-2zM514 468h3v1h-3zM425 469h2v1h-2zM510 469h4v1h-4zM427 470h2v1h-2zM506 470h4v1h-4zM429 471h2v1h-2zM502 471h4v1h-4zM431 472h2v1h-2zM498 472h4v1h-4zM433 473h3v1h-3zM494 473h4v1h-4zM436 474h2v1h-2zM490 474h4v1h-4zM438 475h2v1h-2zM486 475h4v1h-4zM440 476h2v1h-2zM480 476h6v1h-6zM442 477h6v1h-6zM473 477h7v1h-7zM448 478h10v1h-10zM466 478h7v1h-7zM458 479h8v1h-8z" fill="#f0f0f0"/>
<path d="M119 415h34v1h-34zM98 416h21v1h-21zM153 416h28v1h-28zM90 417h8v1h-8zM181 417h22v1h-22zM81 418h9v1h-9zM203 418h16v1h-16zM73 419h8v1h-8zM219 419h10v1h-10zM64 420h9v1h-9zM229 420h11v1h-11zM56 421h8v1h-8zM240 421h10v1h-10zM51 422h5v1h-5zM250 422h11v1h-11zM261 423h11v1h-11zM272 424h12v1h-12zM284 425h11v1h-11zM295 426h9v1h-9zM304 427h7v1h-7zM311 428h8v1h-8zM319 429h7v1h-7zM326 430h7v1h-7zM333 431h7v1h-7zM340 432h8v1h-8zM348 433h7v1h-7zM355 434h7v1h-7zM362 435h6v1h-6zM368 436h6v1h-6zM374 437h6v1h-6zM380 438h7v1h-7zM387 439h6v1h-6zM393 440h6v1h-6zM399 441h6v1h-6zM405 442h5v1h-5zM410 443h3v1h-3zM413 444h3v1h-3zM416 445h3v1h-3zM419 446h3v1h-3zM422 447h3v1h-3zM425 448h2v1h-2zM427 449h3v1h-3zM430 450h3v1h-3zM433 451h3v1h-3zM436 452h3v1h-3zM439 453h3v1h-3zM442 454h3v1h-3zM445 455h4v1h-4zM449 456h4v1h-4zM453 457h4v1h-4zM457 458h3v1h-3zM460 459h4v1h-4zM464 460h4v1h-4zM468 461h4v1h-4zM472 462h6v1h-6zM478 463h10v1h-10zM538 463h7v1h-7zM488 464h10v1h-10zM525 464h13v1h-13zM498 465h27v1h-27z" fill="#e0e000"/>
<circle cx="136.5" cy="407.5" r="3.5" fill="#ff1010" shape-rendering="auto"/><circle cx="135.7" cy="406.6" r="1" fill="#ffb0b0" shape-rendering="auto"/>
</g>
<g transform="translate(630,0)">
<text x="18" y="54" fill="#f0f0f0" font-size="12" font-family='"Liberation Sans", sans-serif' font-weight="normal" text-anchor="start" textLength="46" lengthAdjust="spacingAndGlyphs">甲醇2209</text>
<text x="66" y="50.5" fill="#e02020" font-size="8" font-family='"Liberation Sans", sans-serif' font-weight="bold" text-anchor="start" textLength="5.5" lengthAdjust="spacingAndGlyphs">M</text>
<text x="74" y="54" fill="#f0f0f0" font-size="12" font-family='"Liberation Mono", monospace' font-weight="normal" text-anchor="start" textLength="71.5" lengthAdjust="spacingAndGlyphs">(CZCE MA209)</text>
<text x="159" y="54" fill="#f0f0f0" font-size="12" font-family='"Liberation Sans", sans-serif' font-weight="normal" text-anchor="start" textLength="30" lengthAdjust="spacingAndGlyphs">3分钟</text>
<polyline points="190,50 195,54.5 200,50" fill="none" stroke="#f0f0f0" stroke-width="1.3" shape-rendering="auto"/>
<text x="220" y="54" fill="#20e020" font-size="12" font-family='"Liberation Sans", sans-serif' font-weight="normal" text-anchor="start" textLength="28" lengthAdjust="spacingAndGlyphs">2415</text>
<text x="266" y="54" fill="#20e020" font-size="12" font-family='"Liberation Sans", sans-serif' font-weight="normal" text-anchor="start" textLength="71.5" lengthAdjust="spacingAndGlyphs">-25 / -1.02%</text>
<rect x="-7" y="59" width="622" height="1" fill="#c81a0c"/>
<rect x="43" y="59" width="1" height="425" fill="#c81a0c"/>
<rect x="614" y="42" width="1" height="459" fill="#c81a0c"/>
<rect x="617" y="42" width="1" height="459" fill="#c81a0c"/>
<rect x="614" y="42" width="4" height="1" fill="#c81a0c"/>
<rect x="614" y="500" width="4" height="1" fill="#c81a0c"/>
<rect x="44" y="75" width="508" height="226" fill="#2e0000"/>
<rect x="43" y="301" width="572" height="1" fill="#c81a0c"/>
<rect x="43" y="361" width="572" height="1" fill="#c81a0c"/>
<rect x="43" y="483" width="572" height="1" fill="#c81a0c"/>
<text x="48" y="71.5" fill="#ffff00" font-size="12" font-family='"Liberation Sans", sans-serif' font-weight="normal" text-anchor="start" textLength="47" lengthAdjust="spacingAndGlyphs">精准主图</text>
<polyline points="98,66 103,71 108,66" fill="none" stroke="#ffff00" stroke-width="1.4" shape-rendering="auto"/>
<text x="116.6" y="71.5" fill="#00e0e0" font-size="12" font-family='"Liberation Sans", sans-serif' font-weight="normal" text-anchor="start" textLength="57.4" lengthAdjust="spacingAndGlyphs">VAR2 0.00</text>
<text x="183" y="71.5" fill="#00e0e0" font-size="12" font-family='"Liberation Sans", sans-serif' font-weight="normal" text-anchor="start" textLength="42" lengthAdjust="spacingAndGlyphs">BB 0.00</text>
<text x="233.6" y="71.5" fill="#1414ff" font-size="12" font-family='"Liberation Sans", sans-serif' font-weight="normal" text-anchor="start" textLength="51.4" lengthAdjust="spacingAndGlyphs">DD 28.00</text>
<text x="294.8" y="71.5" fill="#ff1414" font-size="12" font-family='"Liberation Sans", sans-serif' font-weight="normal" text-anchor="start" textLength="51.2" lengthAdjust="spacingAndGlyphs">AA 28.00</text>
<text x="354.5" y="71.5" fill="#ffff00" font-size="12" font-family='"Liberation Sans", sans-serif' font-weight="normal" text-anchor="start" >顶底线 18.59</text>
<text x="434" y="71.5" fill="#ffff00" font-size="12" font-family='"Liberation Sans", sans-serif' font-weight="normal" text-anchor="start" textLength="47" lengthAdjust="spacingAndGlyphs">精准趋势</text>
<text x="490" y="71.5" fill="#f0f0f0" font-size="12" font-family='"Liberation Sans", sans-serif' font-weight="normal" text-anchor="start" >LL 2408.40</text>
<text x="573.6" y="71.5" fill="#e8e000" font-size="11.5" font-family='"Liberation Serif", serif' font-weight="normal" text-anchor="start" textLength="30" lengthAdjust="spacingAndGlyphs">Delay</text>
<line x1="44" y1="119.5" x2="614" y2="119.5" stroke="#a01010" stroke-width="1" stroke-dasharray="3 3"/>
<text x="41" y="124" fill="#b0b0b0" font-size="12.5" font-family='"Liberation Sans", sans-serif' font-weight="bold" text-anchor="end" textLength="26.8" lengthAdjust="spacingAndGlyphs">2420</text>
<line x1="44" y1="198.5" x2="614" y2="198.5" stroke="#a01010" stroke-width="1" stroke-dasharray="3 3"/>
<text x="41" y="203" fill="#b0b0b0" font-size="12.5" font-family='"Liberation Sans", sans-serif' font-weight="bold" text-anchor="end" textLength="26.8" lengthAdjust="spacingAndGlyphs">2400</text>
<line x1="44" y1="318.5" x2="614" y2="318.5" stroke="#a01010" stroke-width="1" stroke-dasharray="3 3"/>
<text x="41" y="323" fill="#b0b0b0" font-size="12.5" font-family='"Liberation Sans", sans-serif' font-weight="bold" text-anchor="end" textLength="13.4" lengthAdjust="spacingAndGlyphs">10</text>
<line x1="44" y1="336.5" x2="614" y2="336.5" stroke="#a01010" stroke-width="1" stroke-dasharray="3 3"/>
<text x="41" y="341" fill="#b0b0b0" font-size="12.5" font-family='"Liberation Sans", sans-serif' font-weight="bold" text-anchor="end" textLength="6.7" lengthAdjust="spacingAndGlyphs">0</text>
<line x1="44" y1="353.5" x2="614" y2="353.5" stroke="#a01010" stroke-width="1" stroke-dasharray="3 3"/>
<text x="41" y="358" fill="#b0b0b0" font-size="12.5" font-family='"Liberation Sans", sans-serif' font-weight="bold" text-anchor="end" textLength="17.8" lengthAdjust="spacingAndGlyphs">-10</text>
<line x1="44" y1="377.5" x2="614" y2="377.5" stroke="#a01010" stroke-width="1" stroke-dasharray="3 3"/>
<text x="41" y="382" fill="#b0b0b0" font-size="12.5" font-family='"Liberation Sans", sans-serif' font-weight="bold" text-anchor="end" textLength="13.4" lengthAdjust="spacingAndGlyphs">10</text>
<line x1="44" y1="422.5" x2="614" y2="422.5" stroke="#a01010" stroke-width="1" stroke-dasharray="3 3"/>
<text x="41" y="427" fill="#b0b0b0" font-size="12.5" font-family='"Liberation Sans", sans-serif' font-weight="bold" text-anchor="end" textLength="6.7" lengthAdjust="spacingAndGlyphs">0</text>
<line x1="44" y1="468.5" x2="614" y2="468.5" stroke="#a01010" stroke-width="1" stroke-dasharray="3 3"/>
<text x="41" y="473" fill="#b0b0b0" font-size="12.5" font-family='"Liberation Sans", sans-serif' font-weight="bold" text-anchor="end" textLength="17.8" lengthAdjust="spacingAndGlyphs">-10</text>
<text x="48.5" y="314" fill="#e8e020" font-size="12" font-family='"Liberation Sans", sans-serif' font-weight="normal" text-anchor="start" textLength="95.5" lengthAdjust="spacingAndGlyphs">MACD多(12,26,9)</text>
<polyline points="148.6,309 152.6,313 156.6,309" fill="none" stroke="#ffff00" stroke-width="1.3" shape-rendering="auto"/>
<text x="165.3" y="314" fill="#f0f0f0" font-size="12" font-family='"Liberation Sans", sans-serif' font-weight="normal" text-anchor="start" >DIFF 3.16</text>
<text x="225.8" y="314" fill="#e8e020" font-size="12" font-family='"Liberation Sans", sans-serif' font-weight="normal" text-anchor="start" >DEA 0.20</text>
<text x="289.9" y="314" fill="#f0f0f0" font-size="12" font-family='"Liberation Sans", sans-serif' font-weight="normal" text-anchor="start" >5.92</text>
<text x="48.5" y="374" fill="#e8e020" font-size="12" font-family='"Liberation Sans", sans-serif' font-weight="normal" text-anchor="start" textLength="95.5" lengthAdjust="spacingAndGlyphs">MACD空(12,26,9)</text>
<polyline points="148.6,369 152.6,373 156.6,369" fill="none" stroke="#ffff00" stroke-width="1.3" shape-rendering="auto"/>
<text x="165.3" y="374" fill="#f0f0f0" font-size="12" font-family='"Liberation Sans", sans-serif' font-weight="normal" text-anchor="start" >DIFF 3.16</text>
<text x="225.8" y="374" fill="#e8e020" font-size="12" font-family='"Liberation Sans", sans-serif' font-weight="normal" text-anchor="start" >DEA 0.20</text>
<text x="289.9" y="374" fill="#f0f0f0" font-size="12" font-family='"Liberation Sans", sans-serif' font-weight="normal" text-anchor="start" >5.92</text>
<text x="44" y="297.5" fill="#ffff00" font-size="12" font-family='"Liberation Sans", sans-serif' font-weight="normal" text-anchor="start" >2天</text>
<text x="611" y="297.5" fill="#ffff00" font-size="12" font-family='"Liberation Sans", sans-serif' font-weight="normal" text-anchor="end" >3分0秒</text>
<rect x="51" y="127" width="1" height="4" fill="#00ffff"/>
<rect x="51" y="137" width="1" height="12" fill="#00ffff"/>
<rect x="44" y="131" width="15" height="6" fill="#00ffff"/>
<rect x="68" y="131" width="1" height="4" fill="#00ffff"/>
<rect x="68" y="161" width="1" height="12" fill="#00ffff"/>
<rect x="61" y="135" width="15" height="26" fill="#00ffff"/>
<rect x="85" y="147" width="1" height="4" fill="#00ffff"/>
<rect x="85" y="161" width="1" height="12" fill="#00ffff"/>
<rect x="78.5" y="151.5" width="14" height="9" fill="none" stroke="#00ffff" stroke-width="1"/>
<rect x="102" y="147" width="1" height="4" fill="#00ffff"/>
<rect x="95" y="151" width="15" height="10" fill="#00ffff"/>
<rect x="119" y="161" width="1" height="12" fill="#00ffff"/>
<rect x="112.5" y="155.5" width="14" height="5" fill="none" stroke="#00ffff" stroke-width="1"/>
<rect x="136" y="239" width="1" height="29" fill="#00ffff"/>
<rect x="129.5" y="202.5" width="14" height="36" fill="none" stroke="#00ffff" stroke-width="1"/>
<rect x="153" y="256" width="1" height="4" fill="#00ffff"/>
<rect x="146" y="198" width="15" height="58" fill="#00ffff"/>
<rect x="170" y="218" width="1" height="24" fill="#00ffff"/>
<rect x="170" y="256" width="1" height="4" fill="#00ffff"/>
<rect x="163.5" y="242.5" width="14" height="13" fill="none" stroke="#00ffff" stroke-width="1"/>
<rect x="187" y="222" width="1" height="16" fill="#00ffff"/>
<rect x="187" y="264" width="1" height="24" fill="#00ffff"/>
<rect x="180" y="238" width="15" height="26" fill="#00ffff"/>
<rect x="204" y="246" width="1" height="16" fill="#00ffff"/>
<rect x="204" y="280" width="1" height="8" fill="#00ffff"/>
<rect x="197" y="262" width="15" height="18" fill="#00ffff"/>
<rect x="221" y="262" width="1" height="16" fill="#00ffff"/>
<rect x="221" y="284" width="1" height="4" fill="#00ffff"/>
<rect x="214.5" y="278.5" width="14" height="5" fill="none" stroke="#00ffff" stroke-width="1"/>
<rect x="238" y="250" width="1" height="5" fill="#00ffff"/>
<rect x="231.5" y="255.5" width="14" height="28" fill="none" stroke="#00ffff" stroke-width="1"/>
<rect x="255" y="238" width="1" height="20" fill="#00ffff"/>
<rect x="255" y="268" width="1" height="8" fill="#00ffff"/>
<rect x="248" y="258" width="15" height="10" fill="#00ffff"/>
<rect x="272" y="262" width="1" height="4" fill="#00ffff"/>
<rect x="272" y="280" width="1" height="4" fill="#00ffff"/>
<rect x="265" y="266" width="15" height="14" fill="#00ffff"/>
<rect x="289" y="246" width="1" height="12" fill="#00ffff"/>
<rect x="282.5" y="258.5" width="14" height="21" fill="none" stroke="#00ffff" stroke-width="1"/>
<rect x="306" y="238" width="1" height="8" fill="#00ffff"/>
<rect x="306" y="259" width="1" height="12" fill="#00ffff"/>
<rect x="299.5" y="246.5" width="14" height="12" fill="none" stroke="#00ffff" stroke-width="1"/>
<rect x="323" y="218" width="1" height="12" fill="#ff2020"/>
<rect x="323" y="244" width="1" height="7" fill="#ff2020"/>
<rect x="316.5" y="230.5" width="14" height="13" fill="none" stroke="#ff2020" stroke-width="1"/>
<rect x="340" y="230" width="1" height="4" fill="#ff2020"/>
<rect x="340" y="240" width="1" height="7" fill="#ff2020"/>
<rect x="333" y="234" width="15" height="6" fill="#ff2020"/>
<rect x="357" y="206" width="1" height="4" fill="#ff2020"/>
<rect x="357" y="239" width="1" height="5" fill="#ff2020"/>
<rect x="350.5" y="210.5" width="14" height="28" fill="none" stroke="#ff2020" stroke-width="1"/>
<rect x="374" y="179" width="1" height="16" fill="#ff2020"/>
<rect x="367.5" y="195.5" width="14" height="15" fill="none" stroke="#ff2020" stroke-width="1"/>
<rect x="391" y="190" width="1" height="8" fill="#ff2020"/>
<rect x="391" y="203" width="1" height="12" fill="#ff2020"/>
<rect x="384" y="198" width="15" height="5" fill="#ff2020"/>
<rect x="408" y="179" width="1" height="4" fill="#ff2020"/>
<rect x="408" y="203" width="1" height="12" fill="#ff2020"/>
<rect x="401.5" y="183.5" width="14" height="19" fill="none" stroke="#ff2020" stroke-width="1"/>
<rect x="425" y="155" width="1" height="8" fill="#ff2020"/>
<rect x="425" y="180" width="1" height="9" fill="#ff2020"/>
<rect x="418.5" y="163.5" width="14" height="16" fill="none" stroke="#ff2020" stroke-width="1"/>
<rect x="442" y="123" width="1" height="13" fill="#ff2020"/>
<rect x="442" y="160" width="1" height="5" fill="#ff2020"/>
<rect x="435.5" y="136.5" width="14" height="23" fill="none" stroke="#ff2020" stroke-width="1"/>
<rect x="459" y="127" width="1" height="4" fill="#ff2020"/>
<rect x="452" y="131" width="15" height="22" fill="#ff2020"/>
<rect x="476" y="103" width="1" height="12" fill="#ff2020"/>
<rect x="476" y="153" width="1" height="4" fill="#ff2020"/>
<rect x="469.5" y="115.5" width="14" height="37" fill="none" stroke="#ff2020" stroke-width="1"/>
<rect x="493" y="99" width="1" height="16" fill="#ff2020"/>
<rect x="493" y="140" width="1" height="4" fill="#ff2020"/>
<rect x="486" y="115" width="15" height="25" fill="#ff2020"/>
<rect x="510" y="119" width="1" height="12" fill="#ff2020"/>
<rect x="510" y="140" width="1" height="4" fill="#ff2020"/>
<rect x="503.5" y="131.5" width="14" height="8" fill="none" stroke="#ff2020" stroke-width="1"/>
<rect x="527" y="107" width="1" height="24" fill="#ff2020"/>
<rect x="520" y="131" width="15" height="13" fill="#ff2020"/>
<rect x="537" y="139" width="15" height="1" fill="#ff2020"/>
<path d="M51 76h2v1h-2zM53 77h2v1h-2zM55 78h2v1h-2zM57 79h2v1h-2zM59 80h2v1h-2zM61 81h2v1h-2zM63 82h2v1h-2zM65 83h2v1h-2zM67 84h2v1h-2zM69 85h2v1h-2zM71 86h2v1h-2zM73 87h2v1h-2zM75 88h2v1h-2zM77 89h2v1h-2zM79 90h2v1h-2zM81 91h2v1h-2zM83 92h2v1h-2zM85 93h2v1h-2zM87 94h2v1h-2zM89 95h2v1h-2zM91 96h2v1h-2zM93 97h2v1h-2zM95 98h2v1h-2zM97 99h2v1h-2zM99 100h2v1h-2zM101 101h2v1h-2zM103 102h2v1h-2zM105 103h2v1h-2zM107 104h2v1h-2zM109 105h2v1h-2zM111 106h2v1h-2zM113 107h2v1h-2zM115 108h2v1h-2zM117 109h2v1h-2zM119 110h2v1h-2zM121 111h1v1h-1zM122 112h1v1h-1zM123 113h2v1h-2zM125 114h1v1h-1zM126 115h1v1h-1zM127 116h2v1h-2zM129 117h1v1h-1zM130 118h1v1h-1zM131 119h2v1h-2zM133 120h1v1h-1zM134 121h2v1h-2zM136 122h1v1h-1zM137 123h2v1h-2zM139 124h1v1h-1zM140 125h2v1h-2zM142 126h1v1h-1zM143 127h2v1h-2zM145 128h1v1h-1zM146 129h2v1h-2zM148 130h1v1h-1zM149 131h2v1h-2zM151 132h1v1h-1zM152 133h2v1h-2zM154 134h1v1h-1zM155 135h2v1h-2zM157 136h1v1h-1zM158 137h2v1h-2zM160 138h1v1h-1zM161 139h2v1h-2zM163 140h1v1h-1zM164 141h2v1h-2zM166 142h1v1h-1zM167 143h2v1h-2zM169 144h1v1h-1zM170 145h1v1h-1zM171 146h1v1h-1zM172 147h1v1h-1zM173 148h1v1h-1zM174 149h1v1h-1zM175 150h1v1h-1zM176 151h2v1h-2zM178 152h1v1h-1zM179 153h1v1h-1zM180 154h1v1h-1zM181 155h1v1h-1zM182 156h1v1h-1zM183 157h1v1h-1zM184 158h1v1h-1zM185 159h1v1h-1zM186 160h1v1h-1zM187 161h1v1h-1zM188 162h1v1h-1zM189 163h1v1h-1zM190 164h1v1h-1zM191 165h2v1h-2zM193 166h1v1h-1zM194 167h1v1h-1zM195 168h1v1h-1zM196 169h1v1h-1zM197 170h1v1h-1zM198 171h1v1h-1zM199 172h1v1h-1zM200 173h1v1h-1zM201 174h1v1h-1zM202 175h1v1h-1zM203 176h1v1h-1zM204 177h1v1h-1zM205 178h2v1h-2zM207 179h1v1h-1zM208 180h1v1h-1zM209 181h1v1h-1zM210 182h1v1h-1zM211 183h1v1h-1zM212 184h1v1h-1zM213 185h1v1h-1zM214 186h1v1h-1zM215 187h1v1h-1zM216 188h1v1h-1zM217 189h1v1h-1zM218 190h1v1h-1zM219 191h1v1h-1zM220 192h2v1h-2zM222 193h1v1h-1zM223 194h1v1h-1zM224 195h1v1h-1zM225 196h1v1h-1zM226 197h1v1h-1zM227 198h1v1h-1zM228 199h1v1h-1zM229 200h1v1h-1zM230 201h2v1h-2zM232 202h1v1h-1zM233 203h1v1h-1zM234 204h1v1h-1zM235 205h1v1h-1zM236 206h1v1h-1zM237 207h2v1h-2zM239 208h1v1h-1zM240 209h1v1h-1zM241 210h1v1h-1zM242 211h2v1h-2zM244 212h1v1h-1zM245 213h2v1h-2zM247 214h1v1h-1zM248 215h1v1h-1zM249 216h2v1h-2zM251 217h1v1h-1zM252 218h2v1h-2zM254 219h1v1h-1zM255 220h2v1h-2zM257 221h1v1h-1zM258 222h2v1h-2zM260 223h1v1h-1zM261 224h2v1h-2zM263 225h1v1h-1zM264 226h1v1h-1zM265 227h2v1h-2zM267 228h1v1h-1zM268 229h2v1h-2zM270 230h1v1h-1zM271 231h2v1h-2zM273 232h1v1h-1zM274 233h2v1h-2zM276 234h1v1h-1zM277 235h2v1h-2zM279 236h1v1h-1zM280 237h1v1h-1zM281 238h2v1h-2zM283 239h1v1h-1zM284 240h2v1h-2zM286 241h1v1h-1zM287 242h2v1h-2zM289 243h2v1h-2zM291 244h3v1h-3zM294 245h3v1h-3zM297 246h3v1h-3zM300 247h5v1h-5zM305 248h7v1h-7zM312 249h8v1h-8zM320 250h7v1h-7zM327 251h8v1h-8zM335 252h6v1h-6z" fill="#dcd400"/>
<polyline points="51.2,92.1 68.0,131.5 101.8,131.5 116.9,155.5 154.2,155.5 169.4,217.5 239.3,217.5 253.3,237.5 306.9,237.5" fill="none" stroke="#10b810" stroke-width="1" stroke-dasharray="3 3"/>
<polyline points="324.0,277.5 340.3,246.5 375.3,246.5 391.6,214.5 425.9,214.5 442.9,163.5 476.7,163.5 494.1,143.5 540.8,143.5" fill="none" stroke="#f0f000" stroke-width="1" stroke-dasharray="3 3"/>
<path d="M543 161h2v1h-2zM541 162h2v1h-2zM539 163h2v1h-2zM537 164h2v1h-2zM535 165h2v1h-2zM533 166h2v1h-2zM531 167h2v1h-2zM529 168h2v1h-2zM527 169h2v1h-2zM525 170h2v1h-2zM524 171h1v1h-1zM522 172h2v1h-2zM521 173h1v1h-1zM519 174h2v1h-2zM517 175h2v1h-2zM516 176h1v1h-1zM514 177h2v1h-2zM513 178h1v1h-1zM511 179h2v1h-2zM510 180h1v1h-1zM509 181h1v1h-1zM507 182h2v1h-2zM506 183h1v1h-1zM504 184h2v1h-2zM503 185h1v1h-1zM502 186h1v1h-1zM500 187h2v1h-2zM499 188h1v1h-1zM497 189h2v1h-2zM496 190h1v1h-1zM495 191h1v1h-1zM493 192h2v1h-2zM492 193h1v1h-1zM490 194h2v1h-2zM489 195h1v1h-1zM488 196h1v1h-1zM486 197h2v1h-2zM485 198h1v1h-1zM484 199h1v1h-1zM483 200h1v1h-1zM482 201h1v1h-1zM480 202h2v1h-2zM479 203h1v1h-1zM478 204h1v1h-1zM477 205h1v1h-1zM476 206h1v1h-1zM475 207h1v1h-1zM474 208h1v1h-1zM473 209h1v1h-1zM471 210h2v1h-2zM470 211h1v1h-1zM469 212h1v1h-1zM468 213h1v1h-1zM467 214h1v1h-1zM466 215h1v1h-1zM465 216h1v1h-1zM463 217h2v1h-2zM462 218h1v1h-1zM461 219h1v1h-1zM460 220h1v1h-1zM459 221h1v1h-1zM458 222h1v1h-1zM457 223h1v1h-1zM456 224h1v1h-1zM454 225h2v1h-2zM453 226h1v1h-1zM452 227h1v1h-1zM451 228h1v1h-1zM450 229h1v1h-1zM449 230h1v1h-1zM447 231h2v1h-2zM446 232h1v1h-1zM445 233h1v1h-1zM444 234h1v1h-1zM443 235h1v1h-1zM441 236h2v1h-2zM440 237h1v1h-1zM439 238h1v1h-1zM438 239h1v1h-1zM437 240h1v1h-1zM435 241h2v1h-2zM434 242h1v1h-1zM433 243h1v1h-1zM432 244h1v1h-1zM431 245h1v1h-1zM429 246h2v1h-2zM428 247h1v1h-1zM427 248h1v1h-1zM425 249h2v1h-2zM424 250h1v1h-1zM422 251h2v1h-2zM421 252h1v1h-1zM419 253h2v1h-2zM417 254h2v1h-2zM416 255h1v1h-1zM414 256h2v1h-2zM413 257h1v1h-1zM411 258h2v1h-2zM410 259h1v1h-1zM408 260h2v1h-2zM406 261h2v1h-2zM404 262h2v1h-2zM402 263h2v1h-2zM400 264h2v1h-2zM398 265h2v1h-2zM396 266h2v1h-2zM394 267h2v1h-2zM392 268h2v1h-2zM390 269h2v1h-2zM388 270h2v1h-2zM386 271h2v1h-2zM384 272h2v1h-2zM382 273h2v1h-2zM380 274h2v1h-2zM378 275h2v1h-2zM376 276h2v1h-2zM374 277h2v1h-2zM372 278h2v1h-2zM371 279h1v1h-1zM369 280h2v1h-2zM367 281h2v1h-2zM365 282h2v1h-2zM363 283h2v1h-2zM361 284h2v1h-2zM359 285h2v1h-2zM358 286h1v1h-1z" fill="#f0f0f0"/>
<g transform="translate(-630,0)"><text x="817.5" y="298.5" fill="#20e0e0" font-size="12" font-family="Liberation Sans" text-anchor="middle">2378</text><text x="1123.5" y="96.5" fill="#ff4040" font-size="12" font-family="Liberation Sans" text-anchor="middle">2425</text><circle cx="987.5" cy="197.5" r="3.5" fill="none" stroke="#ff2020" stroke-width="1" shape-rendering="auto"/><path d="M868.5,286 L872,290 L869.5,290 L869.5,294 L867.5,294 L867.5,290 L865,290 Z" fill="#ff2020" shape-rendering="auto"/><path d="M919.5,282 L923,286 L920.5,286 L920.5,290 L918.5,290 L918.5,286 L916,286 Z" fill="#ff2020" shape-rendering="auto"/><text x="947" y="262" fill="#f0e818" font-size="11.5" font-family="Liberation Sans">买</text></g>
<rect x="51" y="337" width="1" height="4" fill="#20d0e0"/>
<rect x="68" y="337" width="1" height="5" fill="#20d0e0"/>
<rect x="85" y="337" width="1" height="4" fill="#20d0e0"/>
<rect x="102" y="337" width="1" height="4" fill="#20d0e0"/>
<rect x="119" y="337" width="1" height="4" fill="#20d0e0"/>
<rect x="136" y="337" width="1" height="8" fill="#20d0e0"/>
<rect x="153" y="337" width="1" height="9" fill="#20d0e0"/>
<rect x="170" y="337" width="1" height="10" fill="#20d0e0"/>
<rect x="187" y="337" width="1" height="11" fill="#20d0e0"/>
<rect x="204" y="337" width="1" height="12" fill="#20d0e0"/>
<rect x="221" y="337" width="1" height="11" fill="#20d0e0"/>
<rect x="238" y="337" width="1" height="9" fill="#20d0e0"/>
<rect x="255" y="337" width="1" height="7" fill="#20d0e0"/>
<rect x="272" y="337" width="1" height="6" fill="#20d0e0"/>
<rect x="289" y="337" width="1" height="3" fill="#20d0e0"/>
<rect x="306" y="337" width="1" height="2" fill="#20d0e0"/>
<rect x="323" y="334" width="1" height="2" fill="#ff2020"/>
<rect x="340" y="333" width="1" height="3" fill="#ff2020"/>
<rect x="357" y="330" width="1" height="6" fill="#ff2020"/>
<rect x="374" y="328" width="1" height="8" fill="#ff2020"/>
<rect x="391" y="326" width="1" height="10" fill="#ff2020"/>
<rect x="408" y="325" width="1" height="11" fill="#ff2020"/>
<rect x="425" y="324" width="1" height="12" fill="#ff2020"/>
<rect x="442" y="322" width="1" height="14" fill="#ff2020"/>
<rect x="459" y="322" width="1" height="14" fill="#ff2020"/>
<rect x="476" y="321" width="1" height="15" fill="#ff2020"/>
<rect x="493" y="322" width="1" height="14" fill="#ff2020"/>
<rect x="510" y="323" width="1" height="13" fill="#ff2020"/>
<rect x="527" y="325" width="1" height="11" fill="#ff2020"/>
<rect x="544" y="325" width="1" height="11" fill="#ff2020"/>
<path d="M528 330h17v1h-17zM507 331h21v1h-21zM496 332h11v1h-11zM485 333h11v1h-11zM475 334h10v1h-10zM467 335h8v1h-8zM458 336h9v1h-9zM450 337h8v1h-8zM441 338h9v1h-9zM433 339h8v1h-8zM424 340h9v1h-9zM416 341h8v1h-8zM51 342h10v1h-10zM408 342h8v1h-8zM61 343h18v1h-18zM402 343h6v1h-6zM79 344h19v1h-19zM395 344h7v1h-7zM98 345h18v1h-18zM388 345h7v1h-7zM116 346h15v1h-15zM382 346h6v1h-6zM131 347h11v1h-11zM374 347h8v1h-8zM142 348h12v1h-12zM366 348h8v1h-8zM154 349h10v1h-10zM357 349h9v1h-9zM164 350h8v1h-8zM349 350h8v1h-8zM172 351h8v1h-8zM340 351h9v1h-9zM180 352h8v1h-8zM332 352h8v1h-8zM188 353h10v1h-10zM323 353h9v1h-9zM198 354h11v1h-11zM315 354h8v1h-8zM209 355h12v1h-12zM302 355h13v1h-13zM221 356h30v1h-30zM285 356h17v1h-17zM251 357h34v1h-34z" fill="#f0f0f0"/>
<path d="M536 335h9v1h-9zM520 336h16v1h-16zM504 337h16v1h-16zM488 338h16v1h-16zM471 339h17v1h-17zM454 340h17v1h-17zM51 341h13v1h-13zM440 341h14v1h-14zM64 342h24v1h-24zM430 342h10v1h-10zM88 343h25v1h-25zM420 343h10v1h-10zM113 344h21v1h-21zM410 344h10v1h-10zM134 345h16v1h-16zM400 345h10v1h-10zM150 346h17v1h-17zM389 346h11v1h-11zM167 347h14v1h-14zM379 347h10v1h-10zM181 348h10v1h-10zM369 348h10v1h-10zM191 349h10v1h-10zM359 349h10v1h-10zM201 350h10v1h-10zM349 350h10v1h-10zM211 351h10v1h-10zM336 351h13v1h-13zM221 352h18v1h-18zM319 352h17v1h-17zM239 353h25v1h-25zM293 353h26v1h-26zM264 354h29v1h-29z" fill="#e0e000"/>
<circle cx="323.6" cy="344.6" r="3.5" fill="#ff1010" shape-rendering="auto"/><circle cx="322.8" cy="343.70000000000005" r="1" fill="#ffb0b0" shape-rendering="auto"/>
<rect x="51" y="423" width="1" height="11" fill="#20d0e0"/>
<rect x="68" y="423" width="1" height="14" fill="#20d0e0"/>
<rect x="85" y="423" width="1" height="12" fill="#20d0e0"/>
<rect x="102" y="423" width="1" height="13" fill="#20d0e0"/>
<rect x="119" y="423" width="1" height="12" fill="#20d0e0"/>
<rect x="136" y="423" width="1" height="17" fill="#20d0e0"/>
<rect x="153" y="423" width="1" height="25" fill="#20d0e0"/>
<rect x="170" y="423" width="1" height="28" fill="#20d0e0"/>
<rect x="187" y="423" width="1" height="31" fill="#20d0e0"/>
<rect x="204" y="423" width="1" height="33" fill="#20d0e0"/>
<rect x="221" y="423" width="1" height="30" fill="#20d0e0"/>
<rect x="238" y="423" width="1" height="25" fill="#20d0e0"/>
<rect x="255" y="423" width="1" height="20" fill="#20d0e0"/>
<rect x="272" y="423" width="1" height="16" fill="#20d0e0"/>
<rect x="289" y="423" width="1" height="11" fill="#20d0e0"/>
<rect x="306" y="423" width="1" height="3" fill="#20d0e0"/>
<rect x="323" y="419" width="1" height="3" fill="#ff2020"/>
<rect x="340" y="414" width="1" height="8" fill="#ff2020"/>
<rect x="357" y="407" width="1" height="15" fill="#ff2020"/>
<rect x="374" y="400" width="1" height="22" fill="#ff2020"/>
<rect x="391" y="397" width="1" height="25" fill="#ff2020"/>
<rect x="408" y="393" width="1" height="29" fill="#ff2020"/>
<rect x="425" y="389" width="1" height="33" fill="#ff2020"/>
<rect x="442" y="383" width="1" height="39" fill="#ff2020"/>
<rect x="459" y="384" width="1" height="38" fill="#ff2020"/>
<rect x="476" y="381" width="1" height="41" fill="#ff2020"/>
<rect x="493" y="384" width="1" height="38" fill="#ff2020"/>
<rect x="510" y="387" width="1" height="35" fill="#ff2020"/>
<rect x="527" y="392" width="1" height="30" fill="#ff2020"/>
<rect x="544" y="396" width="1" height="26" fill="#ff2020"/>
<path d="M536 408h9v1h-9zM520 409h16v1h-16zM510 410h10v1h-10zM505 411h5v1h-5zM499 412h6v1h-6zM494 413h5v1h-5zM489 414h5v1h-5zM483 415h6v1h-6zM478 416h5v1h-5zM474 417h4v1h-4zM472 418h2v1h-2zM470 419h2v1h-2zM467 420h3v1h-3zM465 421h2v1h-2zM463 422h2v1h-2zM460 423h3v1h-3zM458 424h2v1h-2zM456 425h2v1h-2zM454 426h2v1h-2zM451 427h3v1h-3zM449 428h2v1h-2zM447 429h2v1h-2zM444 430h3v1h-3zM442 431h2v1h-2zM439 432h3v1h-3zM436 433h3v1h-3zM434 434h2v1h-2zM431 435h3v1h-3zM428 436h3v1h-3zM426 437h2v1h-2zM423 438h3v1h-3zM421 439h2v1h-2zM418 440h3v1h-3zM415 441h3v1h-3zM51 442h7v1h-7zM413 442h2v1h-2zM58 443h13v1h-13zM410 443h3v1h-3zM71 444h14v1h-14zM407 444h3v1h-3zM85 445h12v1h-12zM403 445h4v1h-4zM97 446h11v1h-11zM400 446h3v1h-3zM108 447h12v1h-12zM397 447h3v1h-3zM120 448h7v1h-7zM393 448h4v1h-4zM127 449h4v1h-4zM390 449h3v1h-3zM131 450h3v1h-3zM387 450h3v1h-3zM134 451h3v1h-3zM383 451h4v1h-4zM137 452h4v1h-4zM380 452h3v1h-3zM141 453h3v1h-3zM377 453h3v1h-3zM144 454h2v1h-2zM375 454h2v1h-2zM146 455h3v1h-3zM372 455h3v1h-3zM149 456h2v1h-2zM370 456h2v1h-2zM151 457h2v1h-2zM368 457h2v1h-2zM153 458h3v1h-3zM365 458h3v1h-3zM156 459h2v1h-2zM363 459h2v1h-2zM158 460h3v1h-3zM360 460h3v1h-3zM161 461h4v1h-4zM356 461h4v1h-4zM165 462h4v1h-4zM352 462h4v1h-4zM169 463h3v1h-3zM348 463h4v1h-4zM172 464h4v1h-4zM344 464h4v1h-4zM176 465h4v1h-4zM341 465h3v1h-3zM180 466h3v1h-3zM337 466h4v1h-4zM183 467h4v1h-4zM333 467h4v1h-4zM187 468h4v1h-4zM329 468h4v1h-4zM191 469h3v1h-3zM325 469h4v1h-4zM194 470h4v1h-4zM319 470h6v1h-6zM198 471h3v1h-3zM313 471h6v1h-6zM201 472h3v1h-3zM308 472h5v1h-5zM204 473h4v1h-4zM302 473h6v1h-6zM208 474h3v1h-3zM296 474h6v1h-6zM211 475h3v1h-3zM291 475h5v1h-5zM214 476h4v1h-4zM285 476h6v1h-6zM218 477h14v1h-14zM279 477h6v1h-6zM232 478h26v1h-26zM273 478h6v1h-6zM258 479h15v1h-15z" fill="#f0f0f0"/>
<path d="M542 422h3v1h-3zM536 423h6v1h-6zM531 424h5v1h-5zM526 425h5v1h-5zM520 426h6v1h-6zM515 427h5v1h-5zM511 428h4v1h-4zM507 429h4v1h-4zM503 430h4v1h-4zM500 431h3v1h-3zM496 432h4v1h-4zM492 433h4v1h-4zM489 434h3v1h-3zM485 435h4v1h-4zM481 436h4v1h-4zM51 437h7v1h-7zM477 437h4v1h-4zM58 438h12v1h-12zM473 438h4v1h-4zM70 439h12v1h-12zM469 439h4v1h-4zM82 440h13v1h-13zM465 440h4v1h-4zM95 441h12v1h-12zM460 441h5v1h-5zM107 442h12v1h-12zM456 442h4v1h-4zM119 443h10v1h-10zM452 443h4v1h-4zM129 444h7v1h-7zM448 444h4v1h-4zM136 445h6v1h-6zM444 445h4v1h-4zM142 446h7v1h-7zM440 446h4v1h-4zM149 447h7v1h-7zM436 447h4v1h-4zM156 448h6v1h-6zM433 448h3v1h-3zM162 449h4v1h-4zM429 449h4v1h-4zM166 450h4v1h-4zM425 450h4v1h-4zM170 451h4v1h-4zM422 451h3v1h-3zM174 452h4v1h-4zM418 452h4v1h-4zM178 453h4v1h-4zM415 453h3v1h-3zM182 454h5v1h-5zM411 454h4v1h-4zM187 455h4v1h-4zM407 455h4v1h-4zM191 456h4v1h-4zM404 456h3v1h-3zM195 457h4v1h-4zM400 457h4v1h-4zM199 458h4v1h-4zM396 458h4v1h-4zM203 459h4v1h-4zM392 459h4v1h-4zM207 460h5v1h-5zM387 460h5v1h-5zM212 461h5v1h-5zM382 461h5v1h-5zM217 462h5v1h-5zM377 462h5v1h-5zM222 463h4v1h-4zM372 463h5v1h-5zM226 464h5v1h-5zM367 464h5v1h-5zM231 465h5v1h-5zM362 465h5v1h-5zM236 466h5v1h-5zM357 466h5v1h-5zM241 467h7v1h-7zM352 467h5v1h-5zM248 468h8v1h-8zM347 468h5v1h-5zM256 469h8v1h-8zM339 469h8v1h-8zM264 470h8v1h-8zM327 470h12v1h-12zM272 471h21v1h-21zM316 471h11v1h-11zM293 472h23v1h-23z" fill="#e0e000"/>
<text x="128" y="498" fill="#b0b0b0" font-size="12" font-family='"Liberation Sans", sans-serif' font-weight="normal" text-anchor="middle" >21:00</text>
<text x="468" y="498" fill="#b0b0b0" font-size="12" font-family='"Liberation Sans", sans-serif' font-weight="normal" text-anchor="middle" >22:00</text>
<rect x="128" y="293" width="1" height="8" fill="#909090"/>
<rect x="128" y="353" width="1" height="8" fill="#909090"/>
<rect x="128" y="475" width="1" height="8" fill="#909090"/>
</g>
<g transform="translate(1261,0)">
<text x="18" y="54" fill="#f0f0f0" font-size="12" font-family='"Liberation Sans", sans-serif' font-weight="normal" text-anchor="start" textLength="46" lengthAdjust="spacingAndGlyphs">甲醇2209</text>
<text x="66" y="50.5" fill="#e02020" font-size="8" font-family='"Liberation Sans", sans-serif' font-weight="bold" text-anchor="start" textLength="5.5" lengthAdjust="spacingAndGlyphs">M</text>
<text x="74" y="54" fill="#f0f0f0" font-size="12" font-family='"Liberation Mono", monospace' font-weight="normal" text-anchor="start" textLength="71.5" lengthAdjust="spacingAndGlyphs">(CZCE MA209)</text>
<text x="159" y="54" fill="#f0f0f0" font-size="12" font-family='"Liberation Sans", sans-serif' font-weight="normal" text-anchor="start" textLength="30" lengthAdjust="spacingAndGlyphs">5分钟</text>
<polyline points="190,50 195,54.5 200,50" fill="none" stroke="#f0f0f0" stroke-width="1.3" shape-rendering="auto"/>
<text x="220" y="54" fill="#20e020" font-size="12" font-family='"Liberation Sans", sans-serif' font-weight="normal" text-anchor="start" textLength="28" lengthAdjust="spacingAndGlyphs">2415</text>
<text x="266" y="54" fill="#20e020" font-size="12" font-family='"Liberation Sans", sans-serif' font-weight="normal" text-anchor="start" textLength="71.5" lengthAdjust="spacingAndGlyphs">-25 / -1.02%</text>
<rect x="-7" y="59" width="622" height="1" fill="#c81a0c"/>
<rect x="43" y="59" width="1" height="425" fill="#c81a0c"/>
<rect x="614" y="42" width="1" height="459" fill="#c81a0c"/>
<rect x="617" y="42" width="1" height="459" fill="#c81a0c"/>
<rect x="614" y="42" width="4" height="1" fill="#c81a0c"/>
<rect x="614" y="500" width="4" height="1" fill="#c81a0c"/>
<rect x="44" y="75" width="508" height="226" fill="#2e0000"/>
<rect x="43" y="301" width="572" height="1" fill="#c81a0c"/>
<rect x="43" y="361" width="572" height="1" fill="#c81a0c"/>
<rect x="43" y="483" width="572" height="1" fill="#c81a0c"/>
<text x="48" y="71.5" fill="#ffff00" font-size="12" font-family='"Liberation Sans", sans-serif' font-weight="normal" text-anchor="start" textLength="47" lengthAdjust="spacingAndGlyphs">精准主图</text>
<polyline points="98,66 103,71 108,66" fill="none" stroke="#ffff00" stroke-width="1.4" shape-rendering="auto"/>
<text x="116.6" y="71.5" fill="#00e0e0" font-size="12" font-family='"Liberation Sans", sans-serif' font-weight="normal" text-anchor="start" textLength="57.4" lengthAdjust="spacingAndGlyphs">VAR2 0.00</text>
<text x="183" y="71.5" fill="#00e0e0" font-size="12" font-family='"Liberation Sans", sans-serif' font-weight="normal" text-anchor="start" textLength="42" lengthAdjust="spacingAndGlyphs">BB 0.00</text>
<text x="233.6" y="71.5" fill="#1414ff" font-size="12" font-family='"Liberation Sans", sans-serif' font-weight="normal" text-anchor="start" textLength="51.4" lengthAdjust="spacingAndGlyphs">DD 28.00</text>
<text x="294.8" y="71.5" fill="#ff1414" font-size="12" font-family='"Liberation Sans", sans-serif' font-weight="normal" text-anchor="start" textLength="51.2" lengthAdjust="spacingAndGlyphs">AA 28.00</text>
<text x="354.5" y="71.5" fill="#ffff00" font-size="12" font-family='"Liberation Sans", sans-serif' font-weight="normal" text-anchor="start" >顶底线 14.33</text>
<text x="434" y="71.5" fill="#ffff00" font-size="12" font-family='"Liberation Sans", sans-serif' font-weight="normal" text-anchor="start" textLength="47" lengthAdjust="spacingAndGlyphs">精准趋势</text>
<text x="490" y="71.5" fill="#f0f0f0" font-size="12" font-family='"Liberation Sans", sans-serif' font-weight="normal" text-anchor="start" >LL 2398.40</text>
<text x="573.6" y="71.5" fill="#e8e000" font-size="11.5" font-family='"Liberation Serif", serif' font-weight="normal" text-anchor="start" textLength="30" lengthAdjust="spacingAndGlyphs">Delay</text>
<line x1="44" y1="150.5" x2="614" y2="150.5" stroke="#a01010" stroke-width="1" stroke-dasharray="3 3"/>
<text x="41" y="155" fill="#b0b0b0" font-size="12.5" font-family='"Liberation Sans", sans-serif' font-weight="bold" text-anchor="end" textLength="26.8" lengthAdjust="spacingAndGlyphs">2420</text>
<line x1="44" y1="214.5" x2="614" y2="214.5" stroke="#a01010" stroke-width="1" stroke-dasharray="3 3"/>
<text x="41" y="219" fill="#b0b0b0" font-size="12.5" font-family='"Liberation Sans", sans-serif' font-weight="bold" text-anchor="end" textLength="26.8" lengthAdjust="spacingAndGlyphs">2400</text>
<line x1="44" y1="335.5" x2="614" y2="335.5" stroke="#a01010" stroke-width="1" stroke-dasharray="3 3"/>
<text x="41" y="340" fill="#b0b0b0" font-size="12.5" font-family='"Liberation Sans", sans-serif' font-weight="bold" text-anchor="end" textLength="6.7" lengthAdjust="spacingAndGlyphs">0</text>
<line x1="44" y1="352.5" x2="614" y2="352.5" stroke="#a01010" stroke-width="1" stroke-dasharray="3 3"/>
<text x="41" y="357" fill="#b0b0b0" font-size="12.5" font-family='"Liberation Sans", sans-serif' font-weight="bold" text-anchor="end" textLength="17.8" lengthAdjust="spacingAndGlyphs">-10</text>
<line x1="44" y1="417.5" x2="614" y2="417.5" stroke="#a01010" stroke-width="1" stroke-dasharray="3 3"/>
<text x="41" y="422" fill="#b0b0b0" font-size="12.5" font-family='"Liberation Sans", sans-serif' font-weight="bold" text-anchor="end" textLength="6.7" lengthAdjust="spacingAndGlyphs">0</text>
<line x1="44" y1="463.5" x2="614" y2="463.5" stroke="#a01010" stroke-width="1" stroke-dasharray="3 3"/>
<text x="41" y="468" fill="#b0b0b0" font-size="12.5" font-family='"Liberation Sans", sans-serif' font-weight="bold" text-anchor="end" textLength="17.8" lengthAdjust="spacingAndGlyphs">-10</text>
<text x="48.5" y="314" fill="#e8e020" font-size="12" font-family='"Liberation Sans", sans-serif' font-weight="normal" text-anchor="start" textLength="95.5" lengthAdjust="spacingAndGlyphs">MACD多(12,26,9)</text>
<polyline points="148.6,309 152.6,313 156.6,309" fill="none" stroke="#ffff00" stroke-width="1.3" shape-rendering="auto"/>
<text x="165.3" y="314" fill="#f0f0f0" font-size="12" font-family='"Liberation Sans", sans-serif' font-weight="normal" text-anchor="start" >DIFF -2.29</text>
<text x="230.4" y="314" fill="#e8e020" font-size="12" font-family='"Liberation Sans", sans-serif' font-weight="normal" text-anchor="start" >DEA -6.35</text>
<text x="298.2" y="314" fill="#f0f0f0" font-size="12" font-family='"Liberation Sans", sans-serif' font-weight="normal" text-anchor="start" >8.12</text>
<text x="48.5" y="374" fill="#e8e020" font-size="12" font-family='"Liberation Sans", sans-serif' font-weight="normal" text-anchor="start" textLength="95.5" lengthAdjust="spacingAndGlyphs">MACD空(12,26,9)</text>
<polyline points="148.6,369 152.6,373 156.6,369" fill="none" stroke="#ffff00" stroke-width="1.3" shape-rendering="auto"/>
<text x="165.3" y="374" fill="#f0f0f0" font-size="12" font-family='"Liberation Sans", sans-serif' font-weight="normal" text-anchor="start" >DIFF -2.29</text>
<text x="230.4" y="374" fill="#e8e020" font-size="12" font-family='"Liberation Sans", sans-serif' font-weight="normal" text-anchor="start" >DEA -6.35</text>
<text x="298.2" y="374" fill="#f0f0f0" font-size="12" font-family='"Liberation Sans", sans-serif' font-weight="normal" text-anchor="start" >8.12</text>
<text x="44" y="297.5" fill="#ffff00" font-size="12" font-family='"Liberation Sans", sans-serif' font-weight="normal" text-anchor="start" >2天</text>
<text x="611" y="297.5" fill="#ffff00" font-size="12" font-family='"Liberation Sans", sans-serif' font-weight="normal" text-anchor="end" >3分0秒</text>
<rect x="51" y="92" width="1" height="19" fill="#00ffff"/>
<rect x="44" y="111" width="15" height="17" fill="#00ffff"/>
<rect x="68" y="111" width="1" height="3" fill="#00ffff"/>
<rect x="68" y="126" width="1" height="25" fill="#00ffff"/>
<rect x="61.5" y="114.5" width="14" height="11" fill="none" stroke="#00ffff" stroke-width="1"/>
<rect x="85" y="101" width="1" height="13" fill="#00ffff"/>
<rect x="85" y="118" width="1" height="10" fill="#00ffff"/>
<rect x="78.5" y="114.5" width="14" height="3" fill="none" stroke="#00ffff" stroke-width="1"/>
<rect x="102" y="111" width="1" height="6" fill="#00ffff"/>
<rect x="102" y="122" width="1" height="6" fill="#00ffff"/>
<rect x="95" y="117" width="15" height="5" fill="#00ffff"/>
<rect x="119" y="104" width="1" height="10" fill="#00ffff"/>
<rect x="119" y="122" width="1" height="4" fill="#00ffff"/>
<rect x="112.5" y="114.5" width="14" height="7" fill="none" stroke="#00ffff" stroke-width="1"/>
<rect x="136" y="92" width="1" height="4" fill="#00ffff"/>
<rect x="136" y="115" width="1" height="4" fill="#00ffff"/>
<rect x="129.5" y="96.5" width="14" height="18" fill="none" stroke="#00ffff" stroke-width="1"/>
<rect x="153" y="93" width="1" height="5" fill="#00ffff"/>
<rect x="153" y="115" width="1" height="8" fill="#00ffff"/>
<rect x="146" y="98" width="15" height="17" fill="#00ffff"/>
<rect x="170" y="111" width="1" height="6" fill="#00ffff"/>
<rect x="170" y="118" width="1" height="8" fill="#00ffff"/>
<rect x="163" y="117" width="15" height="1" fill="#00ffff"/>
<rect x="187" y="132" width="1" height="4" fill="#00ffff"/>
<rect x="180" y="114" width="15" height="18" fill="#00ffff"/>
<rect x="204" y="127" width="1" height="3" fill="#00ffff"/>
<rect x="204" y="161" width="1" height="4" fill="#00ffff"/>
<rect x="197" y="130" width="15" height="31" fill="#00ffff"/>
<rect x="221" y="143" width="1" height="7" fill="#00ffff"/>
<rect x="221" y="160" width="1" height="31" fill="#00ffff"/>
<rect x="214.5" y="150.5" width="14" height="9" fill="none" stroke="#00ffff" stroke-width="1"/>
<rect x="238" y="127" width="1" height="23" fill="#00ffff"/>
<rect x="238" y="161" width="1" height="7" fill="#00ffff"/>
<rect x="231" y="150" width="15" height="11" fill="#00ffff"/>
<rect x="255" y="156" width="1" height="3" fill="#00ffff"/>
<rect x="255" y="187" width="1" height="7" fill="#00ffff"/>
<rect x="248" y="159" width="15" height="28" fill="#00ffff"/>
<rect x="272" y="172" width="1" height="4" fill="#00ffff"/>
<rect x="272" y="186" width="1" height="8" fill="#00ffff"/>
<rect x="265.5" y="176.5" width="14" height="9" fill="none" stroke="#00ffff" stroke-width="1"/>
<rect x="289" y="172" width="1" height="4" fill="#00ffff"/>
<rect x="289" y="181" width="1" height="13" fill="#00ffff"/>
<rect x="282" y="176" width="15" height="5" fill="#00ffff"/>
<rect x="306" y="214" width="1" height="23" fill="#00ffff"/>
<rect x="306" y="248" width="1" height="23" fill="#00ffff"/>
<rect x="299.5" y="237.5" width="14" height="10" fill="none" stroke="#00ffff" stroke-width="1"/>
<rect x="323" y="231" width="1" height="6" fill="#00ffff"/>
<rect x="323" y="241" width="1" height="23" fill="#00ffff"/>
<rect x="316.5" y="237.5" width="14" height="3" fill="none" stroke="#00ffff" stroke-width="1"/>
<rect x="340" y="281" width="1" height="7" fill="#00ffff"/>
<rect x="333" y="237" width="15" height="44" fill="#00ffff"/>
<rect x="357" y="263" width="1" height="10" fill="#00ffff"/>
<rect x="357" y="283" width="1" height="5" fill="#00ffff"/>
<rect x="350.5" y="273.5" width="14" height="9" fill="none" stroke="#00ffff" stroke-width="1"/>
<rect x="374" y="247" width="1" height="22" fill="#00ffff"/>
<rect x="374" y="277" width="1" height="4" fill="#00ffff"/>
<rect x="367" y="269" width="15" height="8" fill="#00ffff"/>
<rect x="391" y="253" width="1" height="10" fill="#00ffff"/>
<rect x="391" y="277" width="1" height="6" fill="#00ffff"/>
<rect x="384.5" y="263.5" width="14" height="13" fill="none" stroke="#00ffff" stroke-width="1"/>
<rect x="408" y="264" width="1" height="11" fill="#00ffff"/>
<rect x="401.5" y="237.5" width="14" height="26" fill="none" stroke="#00ffff" stroke-width="1"/>
<rect x="425" y="231" width="1" height="10" fill="#00ffff"/>
<rect x="425" y="242" width="1" height="13" fill="#00ffff"/>
<rect x="418" y="241" width="15" height="1" fill="#00ffff"/>
<rect x="442" y="198" width="1" height="13" fill="#ff2020"/>
<rect x="435.5" y="211.5" width="14" height="29" fill="none" stroke="#ff2020" stroke-width="1"/>
<rect x="459" y="208" width="1" height="6" fill="#ff2020"/>
<rect x="459" y="215" width="1" height="14" fill="#ff2020"/>
<rect x="452" y="214" width="15" height="1" fill="#ff2020"/>
<rect x="476" y="172" width="1" height="7" fill="#ff2020"/>
<rect x="469.5" y="179.5" width="14" height="39" fill="none" stroke="#ff2020" stroke-width="1"/>
<rect x="493" y="153" width="1" height="23" fill="#ff2020"/>
<rect x="486.5" y="176.5" width="14" height="6" fill="none" stroke="#ff2020" stroke-width="1"/>
<rect x="510" y="134" width="1" height="29" fill="#ff2020"/>
<rect x="510" y="177" width="1" height="4" fill="#ff2020"/>
<rect x="503.5" y="163.5" width="14" height="13" fill="none" stroke="#ff2020" stroke-width="1"/>
<rect x="527" y="146" width="1" height="10" fill="#ff2020"/>
<rect x="527" y="160" width="1" height="11" fill="#ff2020"/>
<rect x="520.5" y="156.5" width="14" height="3" fill="none" stroke="#ff2020" stroke-width="1"/>
<rect x="544" y="140" width="1" height="19" fill="#ff2020"/>
<rect x="544" y="167" width="1" height="4" fill="#ff2020"/>
<rect x="537" y="159" width="15" height="8" fill="#ff2020"/>
<path d="M51 76h5v1h-5zM56 77h10v1h-10zM66 78h6v1h-6zM72 79h4v1h-4zM76 80h4v1h-4zM80 81h3v1h-3zM83 82h4v1h-4zM87 83h4v1h-4zM91 84h3v1h-3zM94 85h4v1h-4zM98 86h4v1h-4zM102 87h4v1h-4zM106 88h3v1h-3zM109 89h4v1h-4zM113 90h4v1h-4zM117 91h9v1h-9zM126 92h15v1h-15zM141 93h16v1h-16zM157 94h15v1h-15zM172 95h11v1h-11zM183 96h8v1h-8zM191 97h8v1h-8zM199 98h5v1h-5zM204 99h3v1h-3zM207 100h3v1h-3zM210 101h3v1h-3zM213 102h3v1h-3zM216 103h3v1h-3zM219 104h3v1h-3zM222 105h5v1h-5zM227 106h8v1h-8zM235 107h6v1h-6zM241 108h2v1h-2zM243 109h2v1h-2zM245 110h3v1h-3zM248 111h2v1h-2zM250 112h3v1h-3zM253 113h2v1h-2zM255 114h2v1h-2zM257 115h3v1h-3zM260 116h2v1h-2zM262 117h2v1h-2zM264 118h3v1h-3zM267 119h2v1h-2zM269 120h3v1h-3zM272 121h2v1h-2zM274 122h2v1h-2zM276 123h3v1h-3zM279 124h2v1h-2zM281 125h3v1h-3zM284 126h2v1h-2zM286 127h2v1h-2zM288 128h2v1h-2zM290 129h1v1h-1zM291 130h1v1h-1zM292 131h1v1h-1zM293 132h1v1h-1zM294 133h1v1h-1zM295 134h1v1h-1zM296 135h2v1h-2zM298 136h1v1h-1zM299 137h1v1h-1zM300 138h2v1h-2zM302 139h1v1h-1zM303 140h1v1h-1zM304 141h1v1h-1zM305 142h1v1h-1zM306 143h1v1h-1zM307 144h1v1h-1zM308 145h1v1h-1zM309 146h1v1h-1zM310 147h1v1h-1zM311 148h1v1h-1zM312 149h1v1h-1zM313 150h1v1h-1zM314 151h1v1h-1zM315 152h1v1h-1zM316 153h1v1h-1zM317 154h1v1h-1zM318 155h1v1h-1zM319 156h1v1h-1zM320 157h1v1h-1zM321 158h2v1h-2zM323 159h1v1h-1zM324 160h1v1h-1zM325 161h1v1h-1zM326 162h1v1h-1zM327 163h1v1h-1zM328 164h1v1h-1zM329 165h1v1h-1zM330 166h1v1h-1zM331 167h1v1h-1zM332 168h1v1h-1zM333 169h1v1h-1zM334 170h1v1h-1zM335 171h1v1h-1zM336 172h1v1h-1zM337 173h1v1h-1zM338 174h1v1h-1zM339 175h1v1h-1zM340 176h1v1h-1zM341 177h1v1h-1zM342 178h1v1h-1zM343 179h1v1h-1zM344 180h1v1h-1zM345 181h1v1h-1zM346 182h1v1h-1zM347 183h1v1h-1zM348 184h1v1h-1zM349 185h1v1h-1zM350 186h1v1h-1zM351 187h1v1h-1zM352 188h1v1h-1zM353 189h1v1h-1zM354 190h1v1h-1zM355 191h2v1h-2zM357 192h1v1h-1zM358 193h1v1h-1zM359 194h1v1h-1zM360 195h1v1h-1zM361 196h1v1h-1zM362 197h1v1h-1zM363 198h1v1h-1zM364 199h1v1h-1zM365 200h1v1h-1zM366 201h1v1h-1zM367 202h1v1h-1zM368 203h1v1h-1zM369 204h1v1h-1zM370 205h1v1h-1zM371 206h2v1h-2zM373 207h1v1h-1zM374 208h1v1h-1zM375 209h2v1h-2zM377 210h1v1h-1zM378 211h1v1h-1zM379 212h2v1h-2zM381 213h1v1h-1zM382 214h1v1h-1zM383 215h1v1h-1zM384 216h1v1h-1zM385 217h2v1h-2zM387 218h1v1h-1zM388 219h1v1h-1zM389 220h2v1h-2zM391 221h1v1h-1zM392 222h1v1h-1zM393 223h2v1h-2zM395 224h1v1h-1zM396 225h1v1h-1zM397 226h2v1h-2zM399 227h1v1h-1zM400 228h1v1h-1zM401 229h2v1h-2zM403 230h1v1h-1zM404 231h1v1h-1zM405 232h2v1h-2zM407 233h1v1h-1zM408 234h1v1h-1zM409 235h2v1h-2zM411 236h1v1h-1zM412 237h2v1h-2zM414 238h2v1h-2zM416 239h3v1h-3zM419 240h2v1h-2zM421 241h2v1h-2zM423 242h2v1h-2zM425 243h2v1h-2zM427 244h7v1h-7zM434 245h7v1h-7zM441 246h3v1h-3zM444 247h4v1h-4zM448 248h3v1h-3zM451 249h3v1h-3zM454 250h4v1h-4zM458 251h2v1h-2z" fill="#dcd400"/>
<polyline points="51.0,92.5 171.8,92.5 188.0,114.5 221.9,114.5 238.2,127.5 272.0,127.5 280.5,147.2 289.6,172.5 323.0,172.5 324.6,175.3 330.7,201.2 334.5,214.9 339.8,236.1 341.0,237.5 426.0,237.5" fill="none" stroke="#10b810" stroke-width="1" stroke-dasharray="3 3"/>
<polyline points="448.0,243.5 477.2,243.5 484.2,216.8 493.5,182.5 543.6,182.5" fill="none" stroke="#f0f000" stroke-width="1" stroke-dasharray="3 3"/>
<path d="M544 237h1v1h-1zM543 238h1v1h-1zM541 239h2v1h-2zM540 240h1v1h-1zM539 241h1v1h-1zM538 242h1v1h-1zM536 243h2v1h-2zM535 244h1v1h-1zM534 245h1v1h-1zM533 246h1v1h-1zM532 247h1v1h-1zM530 248h2v1h-2zM529 249h1v1h-1zM528 250h1v1h-1zM527 251h1v1h-1zM525 252h2v1h-2zM524 253h1v1h-1zM523 254h1v1h-1zM521 255h2v1h-2zM520 256h1v1h-1zM519 257h1v1h-1zM517 258h2v1h-2zM516 259h1v1h-1zM514 260h2v1h-2zM513 261h1v1h-1zM512 262h1v1h-1zM510 263h2v1h-2zM509 264h1v1h-1zM507 265h2v1h-2zM506 266h1v1h-1zM504 267h2v1h-2zM503 268h1v1h-1zM502 269h1v1h-1zM500 270h2v1h-2zM499 271h1v1h-1zM497 272h2v1h-2zM496 273h1v1h-1zM495 274h1v1h-1zM493 275h2v1h-2zM492 276h1v1h-1zM490 277h2v1h-2zM488 278h2v1h-2zM487 279h1v1h-1zM485 280h2v1h-2zM484 281h1v1h-1zM482 282h2v1h-2zM480 283h2v1h-2zM479 284h1v1h-1zM477 285h2v1h-2zM476 286h1v1h-1z" fill="#f0f0f0"/>
<g transform="translate(-1261,0)"><text x="1329" y="163" fill="#20e0e0" font-size="12" font-family="Liberation Sans" text-anchor="middle">2420</text><text x="1601" y="298.5" fill="#20e0e0" font-size="12" font-family="Liberation Sans" text-anchor="middle">2378</text><text x="1771" y="130.5" fill="#ff4040" font-size="12" font-family="Liberation Sans" text-anchor="middle">2425</text><circle cx="1329" cy="102.5" r="3.5" fill="none" stroke="#ff2020" stroke-width="1" shape-rendering="auto"/><circle cx="1482" cy="134.5" r="3.5" fill="none" stroke="#ff2020" stroke-width="1" shape-rendering="auto"/><circle cx="1703" cy="190" r="3.5" fill="none" stroke="#ff2020" stroke-width="1" shape-rendering="auto"/><path d="M1669.5,277 L1673,281 L1670.5,281 L1670.5,285 L1668.5,285 L1668.5,281 L1666,281 Z" fill="#ff2020" shape-rendering="auto"/><text x="1697" y="250" fill="#f0e818" font-size="11.5" font-family="Liberation Sans">买</text><rect x="1697" y="240" width="12" height="1" fill="#e8e030"/></g>
<rect x="51" y="336" width="1" height="1" fill="#20d0e0"/>
<rect x="68" y="336" width="1" height="1" fill="#20d0e0"/>
<rect x="85" y="336" width="1" height="1" fill="#20d0e0"/>
<rect x="102" y="336" width="1" height="1" fill="#20d0e0"/>
<rect x="119" y="336" width="1" height="1" fill="#20d0e0"/>
<rect x="136" y="334" width="1" height="1" fill="#ff2020"/>
<rect x="153" y="336" width="1" height="1" fill="#20d0e0"/>
<rect x="170" y="336" width="1" height="1" fill="#20d0e0"/>
<rect x="187" y="336" width="1" height="2" fill="#20d0e0"/>
<rect x="204" y="336" width="1" height="2" fill="#20d0e0"/>
<rect x="221" y="336" width="1" height="2" fill="#20d0e0"/>
<rect x="238" y="336" width="1" height="3" fill="#20d0e0"/>
<rect x="255" y="336" width="1" height="4" fill="#20d0e0"/>
<rect x="272" y="336" width="1" height="5" fill="#20d0e0"/>
<rect x="289" y="336" width="1" height="5" fill="#20d0e0"/>
<rect x="306" y="336" width="1" height="9" fill="#20d0e0"/>
<rect x="323" y="336" width="1" height="10" fill="#20d0e0"/>
<rect x="340" y="336" width="1" height="13" fill="#20d0e0"/>
<rect x="357" y="336" width="1" height="12" fill="#20d0e0"/>
<rect x="374" y="336" width="1" height="13" fill="#20d0e0"/>
<rect x="391" y="336" width="1" height="11" fill="#20d0e0"/>
<rect x="408" y="336" width="1" height="7" fill="#20d0e0"/>
<rect x="425" y="336" width="1" height="4" fill="#20d0e0"/>
<rect x="442" y="336" width="1" height="1" fill="#20d0e0"/>
<rect x="459" y="332" width="1" height="3" fill="#ff2020"/>
<rect x="476" y="328" width="1" height="7" fill="#ff2020"/>
<rect x="493" y="325" width="1" height="10" fill="#ff2020"/>
<rect x="510" y="322" width="1" height="13" fill="#ff2020"/>
<rect x="527" y="321" width="1" height="14" fill="#ff2020"/>
<rect x="544" y="321" width="1" height="14" fill="#ff2020"/>
<path d="M94 336h67v1h-67zM51 337h43v1h-43zM161 337h31v1h-31zM192 338h12v1h-12zM540 338h5v1h-5zM204 339h12v1h-12zM532 339h8v1h-8zM216 340h13v1h-13zM524 340h8v1h-8zM229 341h13v1h-13zM517 341h7v1h-7zM242 342h13v1h-13zM511 342h6v1h-6zM255 343h14v1h-14zM504 343h7v1h-7zM269 344h13v1h-13zM497 344h7v1h-7zM282 345h10v1h-10zM491 345h6v1h-6zM292 346h7v1h-7zM485 346h6v1h-6zM299 347h6v1h-6zM479 347h6v1h-6zM305 348h7v1h-7zM474 348h5v1h-5zM312 349h7v1h-7zM469 349h5v1h-5zM319 350h7v1h-7zM463 350h6v1h-6zM326 351h6v1h-6zM457 351h6v1h-6zM332 352h7v1h-7zM449 352h8v1h-8zM339 353h7v1h-7zM441 353h8v1h-8zM346 354h6v1h-6zM433 354h8v1h-8zM352 355h12v1h-12zM425 355h8v1h-8zM364 356h18v1h-18zM406 356h19v1h-19zM382 357h24v1h-24z" fill="#f0f0f0"/>
<path d="M51 337h147v1h-147zM198 338h16v1h-16zM214 339h17v1h-17zM231 340h16v1h-16zM247 341h15v1h-15zM262 342h14v1h-14zM276 343h13v1h-13zM289 344h13v1h-13zM302 345h14v1h-14zM540 345h5v1h-5zM316 346h13v1h-13zM532 346h8v1h-8zM329 347h13v1h-13zM524 347h8v1h-8zM342 348h13v1h-13zM512 348h12v1h-12zM355 349h14v1h-14zM496 349h16v1h-16zM369 350h13v1h-13zM481 350h15v1h-15zM382 351h23v1h-23zM467 351h14v1h-14zM405 352h62v1h-62z" fill="#e0e000"/>
<circle cx="136.4000000000001" cy="328" r="3.5" fill="#ff1010" shape-rendering="auto"/><circle cx="135.60000000000008" cy="327.1" r="1" fill="#ffb0b0" shape-rendering="auto"/>
<circle cx="459.5999999999999" cy="342.9" r="3.5" fill="#ff1010" shape-rendering="auto"/><circle cx="458.7999999999999" cy="342.0" r="1" fill="#ffb0b0" shape-rendering="auto"/>
<rect x="51" y="418" width="1" height="2" fill="#20d0e0"/>
<rect x="68" y="418" width="1" height="3" fill="#20d0e0"/>
<rect x="85" y="418" width="1" height="2" fill="#20d0e0"/>
<rect x="102" y="418" width="1" height="3" fill="#20d0e0"/>
<rect x="119" y="418" width="1" height="2" fill="#20d0e0"/>
<rect x="136" y="416" width="1" height="1" fill="#ff2020"/>
<rect x="153" y="418" width="1" height="1" fill="#20d0e0"/>
<rect x="170" y="418" width="1" height="1" fill="#20d0e0"/>
<rect x="187" y="418" width="1" height="9" fill="#20d0e0"/>
<rect x="204" y="418" width="1" height="10" fill="#20d0e0"/>
<rect x="221" y="418" width="1" height="13" fill="#20d0e0"/>
<rect x="238" y="418" width="1" height="13" fill="#20d0e0"/>
<rect x="255" y="418" width="1" height="17" fill="#20d0e0"/>
<rect x="272" y="418" width="1" height="18" fill="#20d0e0"/>
<rect x="289" y="418" width="1" height="19" fill="#20d0e0"/>
<rect x="306" y="418" width="1" height="27" fill="#20d0e0"/>
<rect x="323" y="418" width="1" height="30" fill="#20d0e0"/>
<rect x="340" y="418" width="1" height="38" fill="#20d0e0"/>
<rect x="357" y="418" width="1" height="40" fill="#20d0e0"/>
<rect x="374" y="418" width="1" height="38" fill="#20d0e0"/>
<rect x="391" y="418" width="1" height="33" fill="#20d0e0"/>
<rect x="408" y="418" width="1" height="22" fill="#20d0e0"/>
<rect x="425" y="418" width="1" height="13" fill="#20d0e0"/>
<rect x="442" y="418" width="1" height="1" fill="#20d0e0"/>
<rect x="459" y="411" width="1" height="6" fill="#ff2020"/>
<rect x="476" y="399" width="1" height="18" fill="#ff2020"/>
<rect x="493" y="392" width="1" height="25" fill="#ff2020"/>
<rect x="510" y="385" width="1" height="32" fill="#ff2020"/>
<rect x="527" y="381" width="1" height="36" fill="#ff2020"/>
<rect x="544" y="381" width="1" height="36" fill="#ff2020"/>
<path d="M125 426h36v1h-36zM102 427h23v1h-23zM161 427h28v1h-28zM51 428h51v1h-51zM189 428h6v1h-6zM543 428h2v1h-2zM195 429h6v1h-6zM541 429h2v1h-2zM201 430h6v1h-6zM539 430h2v1h-2zM207 431h6v1h-6zM537 431h2v1h-2zM213 432h6v1h-6zM535 432h2v1h-2zM219 433h6v1h-6zM533 433h2v1h-2zM225 434h5v1h-5zM531 434h2v1h-2zM230 435h4v1h-4zM529 435h2v1h-2zM234 436h5v1h-5zM527 436h2v1h-2zM239 437h5v1h-5zM525 437h2v1h-2zM244 438h4v1h-4zM523 438h2v1h-2zM248 439h5v1h-5zM521 439h2v1h-2zM253 440h6v1h-6zM519 440h2v1h-2zM259 441h6v1h-6zM517 441h2v1h-2zM265 442h7v1h-7zM515 442h2v1h-2zM272 443h7v1h-7zM512 443h3v1h-3zM279 444h6v1h-6zM510 444h2v1h-2zM285 445h5v1h-5zM508 445h2v1h-2zM290 446h2v1h-2zM505 446h3v1h-3zM292 447h3v1h-3zM503 447h2v1h-2zM295 448h2v1h-2zM500 448h3v1h-3zM297 449h2v1h-2zM498 449h2v1h-2zM299 450h3v1h-3zM496 450h2v1h-2zM302 451h2v1h-2zM493 451h3v1h-3zM304 452h3v1h-3zM491 452h2v1h-2zM307 453h2v1h-2zM489 453h2v1h-2zM309 454h3v1h-3zM486 454h3v1h-3zM312 455h2v1h-2zM483 455h3v1h-3zM314 456h2v1h-2zM481 456h2v1h-2zM316 457h3v1h-3zM478 457h3v1h-3zM319 458h2v1h-2zM475 458h3v1h-3zM321 459h3v1h-3zM473 459h2v1h-2zM324 460h2v1h-2zM470 460h3v1h-3zM326 461h3v1h-3zM467 461h3v1h-3zM329 462h2v1h-2zM465 462h2v1h-2zM331 463h3v1h-3zM462 463h3v1h-3zM334 464h2v1h-2zM459 464h3v1h-3zM336 465h3v1h-3zM456 465h3v1h-3zM339 466h3v1h-3zM452 466h4v1h-4zM342 467h2v1h-2zM449 467h3v1h-3zM344 468h3v1h-3zM446 468h3v1h-3zM347 469h2v1h-2zM442 469h4v1h-4zM349 470h3v1h-3zM439 470h3v1h-3zM352 471h2v1h-2zM436 471h3v1h-3zM354 472h4v1h-4zM432 472h4v1h-4zM358 473h5v1h-5zM429 473h3v1h-3zM363 474h5v1h-5zM424 474h5v1h-5zM368 475h5v1h-5zM417 475h7v1h-7zM373 476h6v1h-6zM409 476h8v1h-8zM379 477h5v1h-5zM402 477h7v1h-7zM384 478h5v1h-5zM395 478h7v1h-7zM389 479h6v1h-6z" fill="#f0f0f0"/>
<path d="M51 427h139v1h-139zM190 428h8v1h-8zM198 429h8v1h-8zM206 430h7v1h-7zM213 431h8v1h-8zM221 432h8v1h-8zM229 433h7v1h-7zM236 434h8v1h-8zM244 435h8v1h-8zM252 436h7v1h-7zM259 437h8v1h-8zM267 438h7v1h-7zM274 439h8v1h-8zM282 440h7v1h-7zM289 441h7v1h-7zM296 442h8v1h-8zM304 443h7v1h-7zM311 444h8v1h-8zM319 445h5v1h-5zM324 446h4v1h-4zM328 447h4v1h-4zM543 447h2v1h-2zM332 448h4v1h-4zM539 448h4v1h-4zM336 449h4v1h-4zM536 449h3v1h-3zM340 450h4v1h-4zM532 450h4v1h-4zM344 451h4v1h-4zM529 451h3v1h-3zM348 452h4v1h-4zM526 452h3v1h-3zM352 453h3v1h-3zM522 453h4v1h-4zM355 454h4v1h-4zM518 454h4v1h-4zM359 455h4v1h-4zM514 455h4v1h-4zM363 456h4v1h-4zM510 456h4v1h-4zM367 457h4v1h-4zM506 457h4v1h-4zM371 458h4v1h-4zM502 458h4v1h-4zM375 459h4v1h-4zM498 459h4v1h-4zM379 460h4v1h-4zM494 460h4v1h-4zM383 461h4v1h-4zM490 461h4v1h-4zM387 462h5v1h-5zM482 462h8v1h-8zM392 463h6v1h-6zM471 463h11v1h-11zM398 464h7v1h-7zM460 464h11v1h-11zM405 465h7v1h-7zM446 465h14v1h-14zM412 466h6v1h-6zM430 466h16v1h-16zM418 467h12v1h-12z" fill="#e0e000"/>
<circle cx="51.5" cy="419.6" r="3.5" fill="#ff1010" shape-rendering="auto"/><circle cx="50.7" cy="418.70000000000005" r="1" fill="#ffb0b0" shape-rendering="auto"/>
<circle cx="187.5999999999999" cy="418.9" r="3.5" fill="#ff1010" shape-rendering="auto"/><circle cx="186.7999999999999" cy="418.0" r="1" fill="#ffb0b0" shape-rendering="auto"/>
<text x="94" y="498" fill="#b0b0b0" font-size="12" font-family='"Liberation Sans", sans-serif' font-weight="normal" text-anchor="middle" >14:00</text>
<text x="298" y="498" fill="#b0b0b0" font-size="12" font-family='"Liberation Sans", sans-serif' font-weight="normal" text-anchor="middle" >21:00</text>
<text x="502" y="498" fill="#b0b0b0" font-size="12" font-family='"Liberation Sans", sans-serif' font-weight="normal" text-anchor="middle" >22:00</text>
<rect x="298" y="293" width="1" height="8" fill="#909090"/>
<rect x="298" y="353" width="1" height="8" fill="#909090"/>
<rect x="298" y="475" width="1" height="8" fill="#909090"/>
</g>
<g transform="translate(0,464)">
<text x="18" y="54" fill="#f0f0f0" font-size="12" font-family='"Liberation Sans", sans-serif' font-weight="normal" text-anchor="start" textLength="46" lengthAdjust="spacingAndGlyphs">甲醇2209</text>
<text x="66" y="50.5" fill="#e02020" font-size="8" font-family='"Liberation Sans", sans-serif' font-weight="bold" text-anchor="start" textLength="5.5" lengthAdjust="spacingAndGlyphs">M</text>
<text x="74" y="54" fill="#f0f0f0" font-size="12" font-family='"Liberation Mono", monospace' font-weight="normal" text-anchor="start" textLength="71.5" lengthAdjust="spacingAndGlyphs">(CZCE MA209)</text>
<text x="159" y="54" fill="#f0f0f0" font-size="12" font-family='"Liberation Sans", sans-serif' font-weight="normal" text-anchor="start" textLength="35" lengthAdjust="spacingAndGlyphs">10分钟</text>
<polyline points="197,50 202,54.5 207,50" fill="none" stroke="#f0f0f0" stroke-width="1.3" shape-rendering="auto"/>
<text x="227" y="54" fill="#20e020" font-size="12" font-family='"Liberation Sans", sans-serif' font-weight="normal" text-anchor="start" textLength="28" lengthAdjust="spacingAndGlyphs">2415</text>
<text x="273" y="54" fill="#20e020" font-size="12" font-family='"Liberation Sans", sans-serif' font-weight="normal" text-anchor="start" textLength="71.5" lengthAdjust="spacingAndGlyphs">-25 / -1.02%</text>
<rect x="-7" y="59" width="622" height="1" fill="#c81a0c"/>
<rect x="43" y="59" width="1" height="426" fill="#c81a0c"/>
<rect x="614" y="42" width="1" height="460" fill="#c81a0c"/>
<rect x="617" y="42" width="1" height="460" fill="#c81a0c"/>
<rect x="614" y="42" width="4" height="1" fill="#c81a0c"/>
<rect x="614" y="501" width="4" height="1" fill="#c81a0c"/>
<rect x="44" y="75" width="508" height="226" fill="#0e1804"/>
<rect x="43" y="301" width="572" height="1" fill="#c81a0c"/>
<rect x="43" y="362" width="572" height="1" fill="#c81a0c"/>
<rect x="43" y="484" width="572" height="1" fill="#c81a0c"/>
<text x="48" y="71.5" fill="#ffff00" font-size="12" font-family='"Liberation Sans", sans-serif' font-weight="normal" text-anchor="start" textLength="47" lengthAdjust="spacingAndGlyphs">精准主图</text>
<polyline points="98,66 103,71 108,66" fill="none" stroke="#ffff00" stroke-width="1.4" shape-rendering="auto"/>
<text x="116.6" y="71.5" fill="#00e0e0" font-size="12" font-family='"Liberation Sans", sans-serif' font-weight="normal" text-anchor="start" textLength="57.4" lengthAdjust="spacingAndGlyphs">VAR2 0.00</text>
<text x="183" y="71.5" fill="#00e0e0" font-size="12" font-family='"Liberation Sans", sans-serif' font-weight="normal" text-anchor="start" textLength="42" lengthAdjust="spacingAndGlyphs">BB 0.00</text>
<text x="233.6" y="71.5" fill="#1414ff" font-size="12" font-family='"Liberation Sans", sans-serif' font-weight="normal" text-anchor="start" textLength="51.4" lengthAdjust="spacingAndGlyphs">DD 28.00</text>
<text x="294.8" y="71.5" fill="#ff1414" font-size="12" font-family='"Liberation Sans", sans-serif' font-weight="normal" text-anchor="start" textLength="51.2" lengthAdjust="spacingAndGlyphs">AA 28.00</text>
<text x="354.5" y="71.5" fill="#ffff00" font-size="12" font-family='"Liberation Sans", sans-serif' font-weight="normal" text-anchor="start" >顶底线 10.11</text>
<text x="434" y="71.5" fill="#ffff00" font-size="12" font-family='"Liberation Sans", sans-serif' font-weight="normal" text-anchor="start" textLength="47" lengthAdjust="spacingAndGlyphs">精准趋势</text>
<text x="490" y="71.5" fill="#ffff00" font-size="12" font-family='"Liberation Sans", sans-serif' font-weight="normal" text-anchor="start" >HH 2408.10</text>
<text x="573.6" y="71.5" fill="#e8e000" font-size="11.5" font-family='"Liberation Serif", serif' font-weight="normal" text-anchor="start" textLength="30" lengthAdjust="spacingAndGlyphs">Delay</text>
<line x1="44" y1="123.5" x2="614" y2="123.5" stroke="#a01010" stroke-width="1" stroke-dasharray="3 3"/>
<text x="41" y="128" fill="#b0b0b0" font-size="12.5" font-family='"Liberation Sans", sans-serif' font-weight="bold" text-anchor="end" textLength="26.8" lengthAdjust="spacingAndGlyphs">2450</text>
<line x1="44" y1="236.5" x2="614" y2="236.5" stroke="#a01010" stroke-width="1" stroke-dasharray="3 3"/>
<text x="41" y="241" fill="#b0b0b0" font-size="12.5" font-family='"Liberation Sans", sans-serif' font-weight="bold" text-anchor="end" textLength="26.8" lengthAdjust="spacingAndGlyphs">2400</text>
<line x1="44" y1="323.5" x2="614" y2="323.5" stroke="#a01010" stroke-width="1" stroke-dasharray="3 3"/>
<text x="41" y="328" fill="#b0b0b0" font-size="12.5" font-family='"Liberation Sans", sans-serif' font-weight="bold" text-anchor="end" textLength="13.4" lengthAdjust="spacingAndGlyphs">10</text>
<line x1="44" y1="339.5" x2="614" y2="339.5" stroke="#a01010" stroke-width="1" stroke-dasharray="3 3"/>
<text x="41" y="344" fill="#b0b0b0" font-size="12.5" font-family='"Liberation Sans", sans-serif' font-weight="bold" text-anchor="end" textLength="6.7" lengthAdjust="spacingAndGlyphs">0</text>
<line x1="44" y1="355.5" x2="614" y2="355.5" stroke="#a01010" stroke-width="1" stroke-dasharray="3 3"/>
<text x="41" y="360" fill="#b0b0b0" font-size="12.5" font-family='"Liberation Sans", sans-serif' font-weight="bold" text-anchor="end" textLength="17.8" lengthAdjust="spacingAndGlyphs">-10</text>
<line x1="44" y1="389.5" x2="614" y2="389.5" stroke="#a01010" stroke-width="1" stroke-dasharray="3 3"/>
<text x="41" y="394" fill="#b0b0b0" font-size="12.5" font-family='"Liberation Sans", sans-serif' font-weight="bold" text-anchor="end" textLength="13.4" lengthAdjust="spacingAndGlyphs">10</text>
<line x1="44" y1="431.5" x2="614" y2="431.5" stroke="#a01010" stroke-width="1" stroke-dasharray="3 3"/>
<text x="41" y="436" fill="#b0b0b0" font-size="12.5" font-family='"Liberation Sans", sans-serif' font-weight="bold" text-anchor="end" textLength="6.7" lengthAdjust="spacingAndGlyphs">0</text>
<line x1="44" y1="472.5" x2="614" y2="472.5" stroke="#a01010" stroke-width="1" stroke-dasharray="3 3"/>
<text x="41" y="477" fill="#b0b0b0" font-size="12.5" font-family='"Liberation Sans", sans-serif' font-weight="bold" text-anchor="end" textLength="17.8" lengthAdjust="spacingAndGlyphs">-10</text>
<text x="48.5" y="314" fill="#e8e020" font-size="12" font-family='"Liberation Sans", sans-serif' font-weight="normal" text-anchor="start" textLength="95.5" lengthAdjust="spacingAndGlyphs">MACD多(12,26,9)</text>
<polyline points="148.6,309 152.6,313 156.6,309" fill="none" stroke="#ffff00" stroke-width="1.3" shape-rendering="auto"/>
<text x="165.3" y="314" fill="#f0f0f0" font-size="12" font-family='"Liberation Sans", sans-serif' font-weight="normal" text-anchor="start" >DIFF -7.18</text>
<text x="230.4" y="314" fill="#e8e020" font-size="12" font-family='"Liberation Sans", sans-serif' font-weight="normal" text-anchor="start" >DEA -8.09</text>
<text x="298.2" y="314" fill="#f0f0f0" font-size="12" font-family='"Liberation Sans", sans-serif' font-weight="normal" text-anchor="start" >1.82</text>
<text x="48.5" y="375" fill="#e8e020" font-size="12" font-family='"Liberation Sans", sans-serif' font-weight="normal" text-anchor="start" textLength="95.5" lengthAdjust="spacingAndGlyphs">MACD空(12,26,9)</text>
<polyline points="148.6,370 152.6,374 156.6,370" fill="none" stroke="#ffff00" stroke-width="1.3" shape-rendering="auto"/>
<text x="165.3" y="375" fill="#f0f0f0" font-size="12" font-family='"Liberation Sans", sans-serif' font-weight="normal" text-anchor="start" >DIFF -7.18</text>
<text x="230.4" y="375" fill="#e8e020" font-size="12" font-family='"Liberation Sans", sans-serif' font-weight="normal" text-anchor="start" >DEA -8.09</text>
<text x="298.2" y="375" fill="#f0f0f0" font-size="12" font-family='"Liberation Sans", sans-serif' font-weight="normal" text-anchor="start" >1.82</text>
<text x="44" y="297.5" fill="#ffff00" font-size="12" font-family='"Liberation Sans", sans-serif' font-weight="normal" text-anchor="start" >2天</text>
<text x="611" y="297.5" fill="#ffff00" font-size="12" font-family='"Liberation Sans", sans-serif' font-weight="normal" text-anchor="end" >8分0秒</text>
<rect x="51" y="170" width="1" height="7" fill="#00ffff"/>
<rect x="44" y="125" width="15" height="45" fill="#00ffff"/>
<rect x="68" y="157" width="1" height="9" fill="#00ffff"/>
<rect x="68" y="167" width="1" height="21" fill="#00ffff"/>
<rect x="61" y="166" width="15" height="1" fill="#00ffff"/>
<rect x="85" y="137" width="1" height="13" fill="#00ffff"/>
<rect x="78.5" y="150.5" width="14" height="19" fill="none" stroke="#00ffff" stroke-width="1"/>
<rect x="102" y="116" width="1" height="34" fill="#00ffff"/>
<rect x="102" y="157" width="1" height="2" fill="#00ffff"/>
<rect x="95" y="150" width="15" height="7" fill="#00ffff"/>
<rect x="119" y="159" width="1" height="13" fill="#00ffff"/>
<rect x="112.5" y="148.5" width="14" height="10" fill="none" stroke="#00ffff" stroke-width="1"/>
<rect x="136" y="137" width="1" height="11" fill="#00ffff"/>
<rect x="136" y="170" width="1" height="9" fill="#00ffff"/>
<rect x="129" y="148" width="15" height="22" fill="#00ffff"/>
<rect x="153" y="150" width="1" height="14" fill="#00ffff"/>
<rect x="153" y="169" width="1" height="10" fill="#00ffff"/>
<rect x="146.5" y="164.5" width="14" height="4" fill="none" stroke="#00ffff" stroke-width="1"/>
<rect x="170" y="157" width="1" height="7" fill="#00ffff"/>
<rect x="170" y="172" width="1" height="5" fill="#00ffff"/>
<rect x="163" y="164" width="15" height="8" fill="#00ffff"/>
<rect x="187" y="152" width="1" height="3" fill="#00ffff"/>
<rect x="187" y="174" width="1" height="5" fill="#00ffff"/>
<rect x="180.5" y="155.5" width="14" height="18" fill="none" stroke="#00ffff" stroke-width="1"/>
<rect x="204" y="143" width="1" height="12" fill="#00ffff"/>
<rect x="204" y="166" width="1" height="3" fill="#00ffff"/>
<rect x="197" y="155" width="15" height="11" fill="#00ffff"/>
<rect x="221" y="130" width="1" height="13" fill="#ff2020"/>
<rect x="214.5" y="143.5" width="14" height="22" fill="none" stroke="#ff2020" stroke-width="1"/>
<rect x="238" y="139" width="1" height="9" fill="#ff2020"/>
<rect x="238" y="153" width="1" height="6" fill="#ff2020"/>
<rect x="231" y="148" width="15" height="5" fill="#ff2020"/>
<rect x="255" y="141" width="1" height="9" fill="#ff2020"/>
<rect x="255" y="175" width="1" height="11" fill="#ff2020"/>
<rect x="248" y="150" width="15" height="25" fill="#ff2020"/>
<rect x="272" y="157" width="1" height="7" fill="#ff2020"/>
<rect x="265.5" y="164.5" width="14" height="10" fill="none" stroke="#ff2020" stroke-width="1"/>
<rect x="289" y="150" width="1" height="15" fill="#ff2020"/>
<rect x="289" y="166" width="1" height="26" fill="#ff2020"/>
<rect x="282" y="165" width="15" height="1" fill="#ff2020"/>
<rect x="306" y="158" width="1" height="11" fill="#ff2020"/>
<rect x="306" y="170" width="1" height="6" fill="#ff2020"/>
<rect x="299" y="169" width="15" height="1" fill="#ff2020"/>
<rect x="323" y="150" width="1" height="2" fill="#ff2020"/>
<rect x="323" y="172" width="1" height="2" fill="#ff2020"/>
<rect x="316.5" y="152.5" width="14" height="19" fill="none" stroke="#ff2020" stroke-width="1"/>
<rect x="340" y="150" width="1" height="5" fill="#ff2020"/>
<rect x="340" y="170" width="1" height="4" fill="#ff2020"/>
<rect x="333" y="155" width="15" height="15" fill="#ff2020"/>
<rect x="357" y="200" width="1" height="2" fill="#00ffff"/>
<rect x="350" y="166" width="15" height="34" fill="#00ffff"/>
<rect x="374" y="175" width="1" height="24" fill="#00ffff"/>
<rect x="374" y="200" width="1" height="20" fill="#00ffff"/>
<rect x="367" y="199" width="15" height="1" fill="#00ffff"/>
<rect x="391" y="211" width="1" height="10" fill="#00ffff"/>
<rect x="384" y="199" width="15" height="12" fill="#00ffff"/>
<rect x="408" y="207" width="1" height="2" fill="#00ffff"/>
<rect x="408" y="212" width="1" height="9" fill="#00ffff"/>
<rect x="401" y="209" width="15" height="3" fill="#00ffff"/>
<rect x="425" y="236" width="1" height="16" fill="#00ffff"/>
<rect x="425" y="259" width="1" height="17" fill="#00ffff"/>
<rect x="418.5" y="252.5" width="14" height="6" fill="none" stroke="#00ffff" stroke-width="1"/>
<rect x="442" y="277" width="1" height="10" fill="#00ffff"/>
<rect x="435" y="252" width="15" height="25" fill="#00ffff"/>
<rect x="459" y="258" width="1" height="12" fill="#00ffff"/>
<rect x="459" y="275" width="1" height="9" fill="#00ffff"/>
<rect x="452.5" y="270.5" width="14" height="4" fill="none" stroke="#00ffff" stroke-width="1"/>
<rect x="476" y="247" width="1" height="7" fill="#00ffff"/>
<rect x="476" y="271" width="1" height="6" fill="#00ffff"/>
<rect x="469.5" y="254.5" width="14" height="16" fill="none" stroke="#00ffff" stroke-width="1"/>
<rect x="493" y="225" width="1" height="11" fill="#00ffff"/>
<rect x="493" y="256" width="1" height="2" fill="#00ffff"/>
<rect x="486.5" y="236.5" width="14" height="19" fill="none" stroke="#00ffff" stroke-width="1"/>
<rect x="510" y="193" width="1" height="17" fill="#00ffff"/>
<rect x="503.5" y="210.5" width="14" height="28" fill="none" stroke="#00ffff" stroke-width="1"/>
<rect x="527" y="179" width="1" height="16" fill="#00ffff"/>
<rect x="527" y="211" width="1" height="1" fill="#00ffff"/>
<rect x="520.5" y="195.5" width="14" height="15" fill="none" stroke="#00ffff" stroke-width="1"/>
<rect x="544" y="184" width="1" height="14" fill="#00ffff"/>
<rect x="544" y="204" width="1" height="2" fill="#00ffff"/>
<rect x="537" y="198" width="15" height="6" fill="#00ffff"/>
<path d="M51 76h1v1h-1zM52 77h2v1h-2zM54 78h2v1h-2zM56 79h2v1h-2zM58 80h2v1h-2zM60 81h1v1h-1zM61 82h2v1h-2zM63 83h2v1h-2zM65 84h2v1h-2zM67 85h2v1h-2zM69 86h2v1h-2zM71 87h2v1h-2zM73 88h4v1h-4zM77 89h4v1h-4zM81 90h4v1h-4zM85 91h3v1h-3zM88 92h4v1h-4zM92 93h4v1h-4zM96 94h4v1h-4zM100 95h4v1h-4zM104 96h2v1h-2zM106 97h2v1h-2zM108 98h2v1h-2zM110 99h2v1h-2zM112 100h2v1h-2zM114 101h2v1h-2zM116 102h2v1h-2zM118 103h2v1h-2zM120 104h2v1h-2zM122 105h2v1h-2zM124 106h2v1h-2zM126 107h2v1h-2zM128 108h2v1h-2zM130 109h2v1h-2zM132 110h2v1h-2zM134 111h2v1h-2zM136 112h1v1h-1zM137 113h2v1h-2zM139 114h2v1h-2zM141 115h2v1h-2zM143 116h2v1h-2zM145 117h2v1h-2zM147 118h2v1h-2zM149 119h2v1h-2zM151 120h2v1h-2zM153 121h2v1h-2zM155 122h2v1h-2zM157 123h2v1h-2zM159 124h2v1h-2zM161 125h2v1h-2zM163 126h2v1h-2zM165 127h2v1h-2zM167 128h2v1h-2zM169 129h2v1h-2zM171 130h2v1h-2zM173 131h2v1h-2zM175 132h1v1h-1zM176 133h2v1h-2zM178 134h2v1h-2zM180 135h2v1h-2zM182 136h1v1h-1zM183 137h2v1h-2zM185 138h2v1h-2zM187 139h2v1h-2zM189 140h2v1h-2zM191 141h3v1h-3zM194 142h2v1h-2zM196 143h3v1h-3zM199 144h2v1h-2zM201 145h3v1h-3zM204 146h2v1h-2zM206 147h5v1h-5zM211 148h6v1h-6zM217 149h4v1h-4z" fill="#dcd400"/>
<path d="M255 146h2v1h-2zM257 147h2v1h-2zM259 148h3v1h-3zM262 149h2v1h-2zM264 150h2v1h-2zM266 151h3v1h-3zM269 152h2v1h-2zM271 153h6v1h-6zM277 154h8v1h-8zM285 155h9v1h-9zM294 156h8v1h-8zM302 157h5v1h-5z" fill="#dcd400"/>
<path d="M358 158h2v1h-2zM360 159h3v1h-3zM363 160h2v1h-2zM365 161h3v1h-3zM368 162h3v1h-3zM371 163h2v1h-2zM373 164h3v1h-3zM376 165h2v1h-2zM378 166h1v1h-1zM379 167h2v1h-2zM381 168h1v1h-1zM382 169h1v1h-1zM383 170h2v1h-2zM385 171h1v1h-1zM386 172h1v1h-1zM387 173h2v1h-2zM389 174h1v1h-1zM390 175h1v1h-1zM391 176h1v1h-1zM392 177h2v1h-2zM394 178h1v1h-1zM395 179h1v1h-1zM396 180h2v1h-2zM398 181h1v1h-1zM399 182h1v1h-1zM400 183h2v1h-2zM402 184h1v1h-1zM403 185h1v1h-1zM404 186h2v1h-2zM406 187h1v1h-1zM407 188h1v1h-1zM408 189h1v1h-1zM409 190h1v1h-1zM410 191h1v1h-1zM410 192h1v1h-1zM411 193h1v1h-1zM412 194h1v1h-1zM413 195h1v1h-1zM414 196h1v1h-1zM415 197h1v1h-1zM416 198h1v1h-1zM417 199h1v1h-1zM417 200h1v1h-1zM418 201h1v1h-1zM419 202h1v1h-1zM420 203h1v1h-1zM421 204h1v1h-1zM422 205h1v1h-1zM423 206h1v1h-1zM423 207h1v1h-1zM424 208h1v1h-1zM425 209h1v1h-1zM426 210h1v1h-1zM427 211h1v1h-1zM428 212h1v1h-1zM429 213h1v1h-1zM430 214h1v1h-1zM431 215h1v1h-1zM432 216h1v1h-1zM433 217h1v1h-1zM434 218h1v1h-1zM435 219h1v1h-1zM436 220h1v1h-1zM437 221h1v1h-1zM438 222h1v1h-1zM439 223h1v1h-1zM440 224h1v1h-1zM441 225h1v1h-1zM442 226h1v1h-1zM443 227h1v1h-1zM444 228h1v1h-1zM445 229h1v1h-1zM446 230h1v1h-1zM447 231h1v1h-1zM448 232h1v1h-1zM449 233h1v1h-1zM450 234h1v1h-1zM451 235h1v1h-1zM452 236h1v1h-1zM453 237h1v1h-1zM454 238h1v1h-1zM455 239h1v1h-1zM456 240h1v1h-1zM457 241h1v1h-1zM458 242h1v1h-1zM459 243h1v1h-1zM460 244h1v1h-1zM461 245h1v1h-1zM462 246h2v1h-2zM464 247h1v1h-1zM465 248h1v1h-1zM466 249h1v1h-1zM467 250h1v1h-1zM468 251h1v1h-1zM469 252h1v1h-1zM470 253h1v1h-1zM471 254h1v1h-1zM472 255h1v1h-1zM473 256h1v1h-1zM474 257h1v1h-1zM475 258h1v1h-1zM476 259h1v1h-1zM477 260h2v1h-2zM479 261h1v1h-1zM480 262h1v1h-1zM481 263h1v1h-1zM482 264h1v1h-1zM483 265h2v1h-2zM485 266h1v1h-1zM486 267h1v1h-1zM487 268h1v1h-1zM488 269h1v1h-1zM489 270h2v1h-2zM491 271h1v1h-1zM492 272h2v1h-2zM494 273h2v1h-2zM496 274h2v1h-2zM498 275h2v1h-2zM500 276h2v1h-2zM502 277h2v1h-2zM504 278h2v1h-2zM506 279h2v1h-2zM508 280h2v1h-2zM510 281h5v1h-5zM515 282h6v1h-6zM521 283h7v1h-7zM528 284h7v1h-7zM535 285h6v1h-6zM541 286h4v1h-4z" fill="#dcd400"/>
<polyline points="51.0,92.5 85.1,92.5 102.1,115.5 138.6,115.5 153.2,150.5 204.2,150.5" fill="none" stroke="#10b810" stroke-width="1" stroke-dasharray="3 3"/>
<polyline points="357.8,150.5 373.6,150.5 378.5,163.3 391.9,195.5 551.9,195.5" fill="none" stroke="#10b810" stroke-width="1" stroke-dasharray="3 3"/>
<polyline points="220.0,177.5 272.3,177.5 289.3,191.5 338.4,191.5" fill="none" stroke="#f0f000" stroke-width="1" stroke-dasharray="3 3"/>
<path d="M336 205h5v1h-5zM328 206h8v1h-8zM323 207h5v1h-5z" fill="#f0f0f0"/>
<g transform="translate(0,-464)"><text x="68" y="663.5" fill="#20e0e0" font-size="12" font-family="Liberation Sans" text-anchor="middle">2422</text><text x="102" y="577" fill="#ff4040" font-size="12" font-family="Liberation Sans" text-anchor="middle">2453</text><text x="221" y="591" fill="#ff4040" font-size="12" font-family="Liberation Sans" text-anchor="middle">2447</text><text x="442" y="763" fill="#20e0e0" font-size="12" font-family="Liberation Sans" text-anchor="middle">2378</text><text x="527" y="640" fill="#ff4040" font-size="12" font-family="Liberation Sans" text-anchor="middle">2425</text><circle cx="510" cy="649" r="3.5" fill="none" stroke="#ff2020" stroke-width="1" shape-rendering="auto"/><path d="M476.5,744 L480,748 L477.5,748 L477.5,752 L475.5,752 L475.5,748 L473,748 Z" fill="#ff2020" shape-rendering="auto"/><text x="44" y="589" fill="#24c424" font-size="11.5" font-family="Liberation Sans">卖</text><text x="351" y="631" fill="#24c424" font-size="11.5" font-family="Liberation Sans">卖</text><text x="215" y="635" fill="#f0e818" font-size="11.5" font-family="Liberation Sans">买</text><rect x="237" y="661" width="2" height="1" fill="#e0e0e0"/></g>
<rect x="51" y="340" width="1" height="10" fill="#20d0e0"/>
<rect x="68" y="340" width="1" height="13" fill="#20d0e0"/>
<rect x="85" y="340" width="1" height="13" fill="#20d0e0"/>
<rect x="102" y="340" width="1" height="13" fill="#20d0e0"/>
<rect x="119" y="340" width="1" height="12" fill="#20d0e0"/>
<rect x="136" y="340" width="1" height="13" fill="#20d0e0"/>
<rect x="153" y="340" width="1" height="11" fill="#20d0e0"/>
<rect x="170" y="340" width="1" height="12" fill="#20d0e0"/>
<rect x="187" y="340" width="1" height="10" fill="#20d0e0"/>
<rect x="204" y="340" width="1" height="9" fill="#20d0e0"/>
<rect x="221" y="340" width="1" height="7" fill="#20d0e0"/>
<rect x="238" y="340" width="1" height="5" fill="#20d0e0"/>
<rect x="255" y="340" width="1" height="6" fill="#20d0e0"/>
<rect x="272" y="340" width="1" height="6" fill="#20d0e0"/>
<rect x="289" y="340" width="1" height="4" fill="#20d0e0"/>
<rect x="306" y="340" width="1" height="4" fill="#20d0e0"/>
<rect x="323" y="340" width="1" height="3" fill="#20d0e0"/>
<rect x="340" y="340" width="1" height="3" fill="#20d0e0"/>
<rect x="357" y="340" width="1" height="5" fill="#20d0e0"/>
<rect x="374" y="340" width="1" height="7" fill="#20d0e0"/>
<rect x="391" y="340" width="1" height="8" fill="#20d0e0"/>
<rect x="408" y="340" width="1" height="9" fill="#20d0e0"/>
<rect x="425" y="340" width="1" height="11" fill="#20d0e0"/>
<rect x="442" y="340" width="1" height="15" fill="#20d0e0"/>
<rect x="459" y="340" width="1" height="17" fill="#20d0e0"/>
<rect x="476" y="340" width="1" height="15" fill="#20d0e0"/>
<rect x="493" y="340" width="1" height="11" fill="#20d0e0"/>
<rect x="510" y="340" width="1" height="5" fill="#20d0e0"/>
<rect x="544" y="337" width="1" height="2" fill="#ff2020"/>
<path d="M51 325h3v1h-3zM54 326h6v1h-6zM60 327h6v1h-6zM66 328h11v1h-11zM77 329h16v1h-16zM93 330h16v1h-16zM109 331h16v1h-16zM125 332h15v1h-15zM140 333h13v1h-13zM153 334h13v1h-13zM166 335h14v1h-14zM180 336h13v1h-13zM193 337h23v1h-23zM216 338h33v1h-33zM249 339h33v1h-33zM282 340h34v1h-34zM316 341h25v1h-25zM341 342h16v1h-16zM357 343h14v1h-14zM371 344h11v1h-11zM382 345h11v1h-11zM393 346h8v1h-8zM401 347h6v1h-6zM407 348h5v1h-5zM412 349h6v1h-6zM418 350h5v1h-5zM542 350h3v1h-3zM423 351h6v1h-6zM537 351h5v1h-5zM429 352h5v1h-5zM532 352h5v1h-5zM434 353h6v1h-6zM527 353h5v1h-5zM440 354h5v1h-5zM520 354h7v1h-7zM445 355h5v1h-5zM511 355h9v1h-9zM450 356h6v1h-6zM502 356h9v1h-9zM456 357h12v1h-12zM488 357h14v1h-14zM468 358h20v1h-20z" fill="#f0f0f0"/>
<path d="M51 320h7v1h-7zM58 321h14v1h-14zM72 322h14v1h-14zM86 323h13v1h-13zM99 324h14v1h-14zM113 325h14v1h-14zM127 326h13v1h-13zM140 327h13v1h-13zM153 328h13v1h-13zM166 329h14v1h-14zM180 330h13v1h-13zM193 331h15v1h-15zM208 332h16v1h-16zM224 333h17v1h-17zM241 334h16v1h-16zM257 335h17v1h-17zM274 336h17v1h-17zM291 337h16v1h-16zM307 338h17v1h-17zM324 339h19v1h-19zM343 340h22v1h-22zM365 341h22v1h-22zM387 342h16v1h-16zM403 343h8v1h-8zM411 344h8v1h-8zM419 345h8v1h-8zM427 346h9v1h-9zM436 347h8v1h-8zM444 348h8v1h-8zM452 349h8v1h-8zM460 350h13v1h-13zM473 351h16v1h-16zM489 352h56v1h-56z" fill="#e0e000"/>
<circle cx="544.8" cy="341.79999999999995" r="3.5" fill="#ff1010" shape-rendering="auto"/><circle cx="544.0" cy="340.9" r="1" fill="#ffb0b0" shape-rendering="auto"/>
<rect x="51" y="432" width="1" height="26" fill="#20d0e0"/>
<rect x="68" y="432" width="1" height="33" fill="#20d0e0"/>
<rect x="85" y="432" width="1" height="33" fill="#20d0e0"/>
<rect x="102" y="432" width="1" height="33" fill="#20d0e0"/>
<rect x="119" y="432" width="1" height="31" fill="#20d0e0"/>
<rect x="136" y="432" width="1" height="33" fill="#20d0e0"/>
<rect x="153" y="432" width="1" height="32" fill="#20d0e0"/>
<rect x="170" y="432" width="1" height="31" fill="#20d0e0"/>
<rect x="187" y="432" width="1" height="27" fill="#20d0e0"/>
<rect x="204" y="432" width="1" height="25" fill="#20d0e0"/>
<rect x="221" y="432" width="1" height="17" fill="#20d0e0"/>
<rect x="238" y="432" width="1" height="14" fill="#20d0e0"/>
<rect x="255" y="432" width="1" height="17" fill="#20d0e0"/>
<rect x="272" y="432" width="1" height="14" fill="#20d0e0"/>
<rect x="289" y="432" width="1" height="13" fill="#20d0e0"/>
<rect x="306" y="432" width="1" height="13" fill="#20d0e0"/>
<rect x="323" y="432" width="1" height="8" fill="#20d0e0"/>
<rect x="340" y="432" width="1" height="8" fill="#20d0e0"/>
<rect x="357" y="432" width="1" height="14" fill="#20d0e0"/>
<rect x="374" y="432" width="1" height="18" fill="#20d0e0"/>
<rect x="391" y="432" width="1" height="21" fill="#20d0e0"/>
<rect x="408" y="432" width="1" height="23" fill="#20d0e0"/>
<rect x="425" y="432" width="1" height="31" fill="#20d0e0"/>
<rect x="442" y="432" width="1" height="38" fill="#20d0e0"/>
<rect x="459" y="432" width="1" height="43" fill="#20d0e0"/>
<rect x="476" y="432" width="1" height="38" fill="#20d0e0"/>
<rect x="493" y="432" width="1" height="29" fill="#20d0e0"/>
<rect x="510" y="432" width="1" height="13" fill="#20d0e0"/>
<rect x="544" y="424" width="1" height="7" fill="#ff2020"/>
<path d="M51 395h2v1h-2zM53 396h2v1h-2zM55 397h3v1h-3zM58 398h2v1h-2zM60 399h2v1h-2zM62 400h3v1h-3zM65 401h2v1h-2zM67 402h4v1h-4zM71 403h5v1h-5zM76 404h6v1h-6zM82 405h5v1h-5zM87 406h5v1h-5zM92 407h6v1h-6zM98 408h5v1h-5zM103 409h6v1h-6zM109 410h5v1h-5zM114 411h6v1h-6zM120 412h5v1h-5zM125 413h6v1h-6zM131 414h4v1h-4zM135 415h3v1h-3zM138 416h3v1h-3zM141 417h3v1h-3zM144 418h3v1h-3zM147 419h3v1h-3zM150 420h3v1h-3zM153 421h3v1h-3zM156 422h3v1h-3zM159 423h3v1h-3zM162 424h3v1h-3zM165 425h6v1h-6zM171 426h8v1h-8zM179 427h8v1h-8zM187 428h8v1h-8zM216 428h22v1h-22zM195 429h21v1h-21zM238 429h11v1h-11zM249 430h11v1h-11zM260 431h11v1h-11zM271 432h11v1h-11zM282 433h11v1h-11zM293 434h42v1h-42zM335 435h4v1h-4zM339 436h4v1h-4zM343 437h4v1h-4zM347 438h4v1h-4zM351 439h4v1h-4zM355 440h4v1h-4zM359 441h4v1h-4zM363 442h5v1h-5zM368 443h4v1h-4zM372 444h4v1h-4zM376 445h4v1h-4zM380 446h4v1h-4zM384 447h4v1h-4zM388 448h4v1h-4zM392 449h4v1h-4zM396 450h4v1h-4zM400 451h3v1h-3zM403 452h3v1h-3zM406 453h3v1h-3zM409 454h2v1h-2zM411 455h3v1h-3zM414 456h3v1h-3zM417 457h3v1h-3zM420 458h3v1h-3zM423 459h2v1h-2zM425 460h2v1h-2zM427 461h2v1h-2zM543 461h2v1h-2zM429 462h1v1h-1zM541 462h2v1h-2zM430 463h2v1h-2zM538 463h3v1h-3zM432 464h2v1h-2zM536 464h2v1h-2zM434 465h1v1h-1zM533 465h3v1h-3zM435 466h2v1h-2zM531 466h2v1h-2zM437 467h2v1h-2zM528 467h3v1h-3zM439 468h1v1h-1zM526 468h2v1h-2zM440 469h2v1h-2zM523 469h3v1h-3zM442 470h2v1h-2zM520 470h3v1h-3zM444 471h2v1h-2zM517 471h3v1h-3zM446 472h3v1h-3zM514 472h3v1h-3zM449 473h3v1h-3zM511 473h3v1h-3zM452 474h2v1h-2zM508 474h3v1h-3zM454 475h3v1h-3zM505 475h3v1h-3zM457 476h3v1h-3zM502 476h3v1h-3zM460 477h3v1h-3zM499 477h3v1h-3zM463 478h8v1h-8zM488 478h11v1h-11zM471 479h17v1h-17z" fill="#f0f0f0"/>
<path d="M51 382h3v1h-3zM54 383h4v1h-4zM58 384h5v1h-5zM63 385h4v1h-4zM67 386h5v1h-5zM72 387h5v1h-5zM77 388h4v1h-4zM81 389h5v1h-5zM86 390h4v1h-4zM90 391h5v1h-5zM95 392h4v1h-4zM99 393h5v1h-5zM104 394h4v1h-4zM108 395h5v1h-5zM113 396h5v1h-5zM118 397h4v1h-4zM122 398h5v1h-5zM127 399h4v1h-4zM131 400h5v1h-5zM136 401h4v1h-4zM140 402h4v1h-4zM144 403h5v1h-5zM149 404h4v1h-4zM153 405h5v1h-5zM158 406h4v1h-4zM162 407h4v1h-4zM166 408h5v1h-5zM171 409h4v1h-4zM175 410h5v1h-5zM180 411h4v1h-4zM184 412h4v1h-4zM188 413h5v1h-5zM193 414h4v1h-4zM197 415h6v1h-6zM203 416h7v1h-7zM210 417h8v1h-8zM218 418h7v1h-7zM225 419h7v1h-7zM232 420h8v1h-8zM240 421h7v1h-7zM247 422h7v1h-7zM254 423h8v1h-8zM262 424h9v1h-9zM271 425h11v1h-11zM282 426h11v1h-11zM293 427h12v1h-12zM305 428h11v1h-11zM316 429h11v1h-11zM327 430h10v1h-10zM337 431h10v1h-10zM347 432h9v1h-9zM356 433h9v1h-9zM365 434h10v1h-10zM375 435h9v1h-9zM384 436h10v1h-10zM394 437h7v1h-7zM401 438h4v1h-4zM405 439h4v1h-4zM409 440h4v1h-4zM413 441h4v1h-4zM417 442h4v1h-4zM421 443h4v1h-4zM425 444h4v1h-4zM429 445h4v1h-4zM433 446h2v1h-2zM435 447h3v1h-3zM438 448h2v1h-2zM440 449h3v1h-3zM443 450h2v1h-2zM445 451h3v1h-3zM448 452h3v1h-3zM451 453h2v1h-2zM453 454h3v1h-3zM456 455h2v1h-2zM458 456h3v1h-3zM461 457h2v1h-2zM463 458h4v1h-4zM467 459h4v1h-4zM471 460h5v1h-5zM476 461h4v1h-4zM480 462h5v1h-5zM485 463h4v1h-4zM489 464h56v1h-56z" fill="#e0e000"/>
<text x="417" y="499" fill="#b0b0b0" font-size="12" font-family='"Liberation Sans", sans-serif' font-weight="normal" text-anchor="middle" >2022/07/21</text>
<rect x="417" y="293" width="1" height="8" fill="#909090"/>
<rect x="417" y="354" width="1" height="8" fill="#909090"/>
<rect x="417" y="476" width="1" height="8" fill="#909090"/>
</g>
<g transform="translate(630,464)">
<text x="18" y="54" fill="#f0f0f0" font-size="12" font-family='"Liberation Sans", sans-serif' font-weight="normal" text-anchor="start" textLength="46" lengthAdjust="spacingAndGlyphs">甲醇2209</text>
<text x="66" y="50.5" fill="#e02020" font-size="8" font-family='"Liberation Sans", sans-serif' font-weight="bold" text-anchor="start" textLength="5.5" lengthAdjust="spacingAndGlyphs">M</text>
<text x="74" y="54" fill="#f0f0f0" font-size="12" font-family='"Liberation Mono", monospace' font-weight="normal" text-anchor="start" textLength="71.5" lengthAdjust="spacingAndGlyphs">(CZCE MA209)</text>
<text x="159" y="54" fill="#f0f0f0" font-size="12" font-family='"Liberation Sans", sans-serif' font-weight="normal" text-anchor="start" textLength="35" lengthAdjust="spacingAndGlyphs">15分钟</text>
<polyline points="197,50 202,54.5 207,50" fill="none" stroke="#f0f0f0" stroke-width="1.3" shape-rendering="auto"/>
<text x="227" y="54" fill="#20e020" font-size="12" font-family='"Liberation Sans", sans-serif' font-weight="normal" text-anchor="start" textLength="28" lengthAdjust="spacingAndGlyphs">2415</text>
<text x="273" y="54" fill="#20e020" font-size="12" font-family='"Liberation Sans", sans-serif' font-weight="normal" text-anchor="start" textLength="71.5" lengthAdjust="spacingAndGlyphs">-25 / -1.02%</text>
<rect x="-7" y="59" width="622" height="1" fill="#c81a0c"/>
<rect x="43" y="59" width="1" height="426" fill="#c81a0c"/>
<rect x="614" y="42" width="1" height="460" fill="#c81a0c"/>
<rect x="617" y="42" width="1" height="460" fill="#c81a0c"/>
<rect x="614" y="42" width="4" height="1" fill="#c81a0c"/>
<rect x="614" y="501" width="4" height="1" fill="#c81a0c"/>
<rect x="44" y="75" width="508" height="226" fill="#0e1804"/>
<rect x="43" y="301" width="572" height="1" fill="#c81a0c"/>
<rect x="43" y="362" width="572" height="1" fill="#c81a0c"/>
<rect x="43" y="484" width="572" height="1" fill="#c81a0c"/>
<text x="48" y="71.5" fill="#ffff00" font-size="12" font-family='"Liberation Sans", sans-serif' font-weight="normal" text-anchor="start" textLength="47" lengthAdjust="spacingAndGlyphs">精准主图</text>
<polyline points="98,66 103,71 108,66" fill="none" stroke="#ffff00" stroke-width="1.4" shape-rendering="auto"/>
<text x="116.6" y="71.5" fill="#00e0e0" font-size="12" font-family='"Liberation Sans", sans-serif' font-weight="normal" text-anchor="start" textLength="57.4" lengthAdjust="spacingAndGlyphs">VAR2 0.00</text>
<text x="183" y="71.5" fill="#00e0e0" font-size="12" font-family='"Liberation Sans", sans-serif' font-weight="normal" text-anchor="start" textLength="42" lengthAdjust="spacingAndGlyphs">BB 0.00</text>
<text x="233.6" y="71.5" fill="#1414ff" font-size="12" font-family='"Liberation Sans", sans-serif' font-weight="normal" text-anchor="start" textLength="51.4" lengthAdjust="spacingAndGlyphs">DD 28.00</text>
<text x="294.8" y="71.5" fill="#ff1414" font-size="12" font-family='"Liberation Sans", sans-serif' font-weight="normal" text-anchor="start" textLength="51.2" lengthAdjust="spacingAndGlyphs">AA 28.00</text>
<text x="354.5" y="71.5" fill="#ffff00" font-size="12" font-family='"Liberation Sans", sans-serif' font-weight="normal" text-anchor="start" >顶底线 8.47</text>
<text x="427" y="71.5" fill="#ffff00" font-size="12" font-family='"Liberation Sans", sans-serif' font-weight="normal" text-anchor="start" textLength="47" lengthAdjust="spacingAndGlyphs">精准趋势</text>
<text x="483" y="71.5" fill="#ffff00" font-size="12" font-family='"Liberation Sans", sans-serif' font-weight="normal" text-anchor="start" >HH 2419.80</text>
<text x="573.6" y="71.5" fill="#e8e000" font-size="11.5" font-family='"Liberation Serif", serif' font-weight="normal" text-anchor="start" textLength="30" lengthAdjust="spacingAndGlyphs">Delay</text>
<line x1="44" y1="134.5" x2="614" y2="134.5" stroke="#a01010" stroke-width="1" stroke-dasharray="3 3"/>
<text x="41" y="139" fill="#b0b0b0" font-size="12.5" font-family='"Liberation Sans", sans-serif' font-weight="bold" text-anchor="end" textLength="26.8" lengthAdjust="spacingAndGlyphs">2450</text>
<line x1="44" y1="239.5" x2="614" y2="239.5" stroke="#a01010" stroke-width="1" stroke-dasharray="3 3"/>
<text x="41" y="244" fill="#b0b0b0" font-size="12.5" font-family='"Liberation Sans", sans-serif' font-weight="bold" text-anchor="end" textLength="26.8" lengthAdjust="spacingAndGlyphs">2400</text>
<line x1="44" y1="329.5" x2="614" y2="329.5" stroke="#a01010" stroke-width="1" stroke-dasharray="3 3"/>
<text x="41" y="334" fill="#b0b0b0" font-size="12.5" font-family='"Liberation Sans", sans-serif' font-weight="bold" text-anchor="end" textLength="13.4" lengthAdjust="spacingAndGlyphs">20</text>
<line x1="44" y1="345.5" x2="614" y2="345.5" stroke="#a01010" stroke-width="1" stroke-dasharray="3 3"/>
<text x="41" y="350" fill="#b0b0b0" font-size="12.5" font-family='"Liberation Sans", sans-serif' font-weight="bold" text-anchor="end" textLength="6.7" lengthAdjust="spacingAndGlyphs">0</text>
<line x1="44" y1="389.5" x2="614" y2="389.5" stroke="#a01010" stroke-width="1" stroke-dasharray="3 3"/>
<text x="41" y="394" fill="#b0b0b0" font-size="12.5" font-family='"Liberation Sans", sans-serif' font-weight="bold" text-anchor="end" textLength="13.4" lengthAdjust="spacingAndGlyphs">20</text>
<line x1="44" y1="415.5" x2="614" y2="415.5" stroke="#a01010" stroke-width="1" stroke-dasharray="3 3"/>
<text x="41" y="420" fill="#b0b0b0" font-size="12.5" font-family='"Liberation Sans", sans-serif' font-weight="bold" text-anchor="end" textLength="13.4" lengthAdjust="spacingAndGlyphs">10</text>
<line x1="44" y1="441.5" x2="614" y2="441.5" stroke="#a01010" stroke-width="1" stroke-dasharray="3 3"/>
<text x="41" y="446" fill="#b0b0b0" font-size="12.5" font-family='"Liberation Sans", sans-serif' font-weight="bold" text-anchor="end" textLength="6.7" lengthAdjust="spacingAndGlyphs">0</text>
<line x1="44" y1="467.5" x2="614" y2="467.5" stroke="#a01010" stroke-width="1" stroke-dasharray="3 3"/>
<text x="41" y="472" fill="#b0b0b0" font-size="12.5" font-family='"Liberation Sans", sans-serif' font-weight="bold" text-anchor="end" textLength="17.8" lengthAdjust="spacingAndGlyphs">-10</text>
<text x="48.5" y="314" fill="#e8e020" font-size="12" font-family='"Liberation Sans", sans-serif' font-weight="normal" text-anchor="start" textLength="95.5" lengthAdjust="spacingAndGlyphs">MACD多(12,26,9)</text>
<polyline points="148.6,309 152.6,313 156.6,309" fill="none" stroke="#ffff00" stroke-width="1.3" shape-rendering="auto"/>
<text x="165.3" y="314" fill="#f0f0f0" font-size="12" font-family='"Liberation Sans", sans-serif' font-weight="normal" text-anchor="start" >DIFF -6.36</text>
<text x="230.4" y="314" fill="#e8e020" font-size="12" font-family='"Liberation Sans", sans-serif' font-weight="normal" text-anchor="start" >DEA -3.00</text>
<text x="298.2" y="314" fill="#f0f0f0" font-size="12" font-family='"Liberation Sans", sans-serif' font-weight="normal" text-anchor="start" >-6.73</text>
<text x="48.5" y="375" fill="#e8e020" font-size="12" font-family='"Liberation Sans", sans-serif' font-weight="normal" text-anchor="start" textLength="95.5" lengthAdjust="spacingAndGlyphs">MACD空(12,26,9)</text>
<polyline points="148.6,370 152.6,374 156.6,370" fill="none" stroke="#ffff00" stroke-width="1.3" shape-rendering="auto"/>
<text x="165.3" y="375" fill="#f0f0f0" font-size="12" font-family='"Liberation Sans", sans-serif' font-weight="normal" text-anchor="start" >DIFF -6.36</text>
<text x="230.4" y="375" fill="#e8e020" font-size="12" font-family='"Liberation Sans", sans-serif' font-weight="normal" text-anchor="start" >DEA -3.00</text>
<text x="298.2" y="375" fill="#f0f0f0" font-size="12" font-family='"Liberation Sans", sans-serif' font-weight="normal" text-anchor="start" >-6.73</text>
<text x="44" y="297.5" fill="#ffff00" font-size="12" font-family='"Liberation Sans", sans-serif' font-weight="normal" text-anchor="start" >3天</text>
<text x="611" y="297.5" fill="#ffff00" font-size="12" font-family='"Liberation Sans", sans-serif' font-weight="normal" text-anchor="end" >3分0秒</text>
<rect x="51" y="165" width="1" height="2" fill="#ff2020"/>
<rect x="44.5" y="167.5" width="14" height="25" fill="none" stroke="#ff2020" stroke-width="1"/>
<rect x="68" y="153" width="1" height="12" fill="#ff2020"/>
<rect x="68" y="168" width="1" height="14" fill="#ff2020"/>
<rect x="61.5" y="165.5" width="14" height="2" fill="none" stroke="#ff2020" stroke-width="1"/>
<rect x="85" y="119" width="1" height="16" fill="#ff2020"/>
<rect x="85" y="153" width="1" height="33" fill="#ff2020"/>
<rect x="78.5" y="135.5" width="14" height="17" fill="none" stroke="#ff2020" stroke-width="1"/>
<rect x="102" y="102" width="1" height="6" fill="#ff2020"/>
<rect x="102" y="137" width="1" height="13" fill="#ff2020"/>
<rect x="95.5" y="108.5" width="14" height="28" fill="none" stroke="#ff2020" stroke-width="1"/>
<rect x="119" y="91" width="1" height="19" fill="#ff2020"/>
<rect x="119" y="146" width="1" height="1" fill="#ff2020"/>
<rect x="112" y="110" width="15" height="36" fill="#ff2020"/>
<rect x="136" y="119" width="1" height="10" fill="#ff2020"/>
<rect x="136" y="145" width="1" height="11" fill="#ff2020"/>
<rect x="129.5" y="129.5" width="14" height="15" fill="none" stroke="#ff2020" stroke-width="1"/>
<rect x="153" y="106" width="1" height="18" fill="#ff2020"/>
<rect x="153" y="133" width="1" height="13" fill="#ff2020"/>
<rect x="146.5" y="124.5" width="14" height="8" fill="none" stroke="#ff2020" stroke-width="1"/>
<rect x="170" y="106" width="1" height="15" fill="#ff2020"/>
<rect x="170" y="144" width="1" height="9" fill="#ff2020"/>
<rect x="163" y="121" width="15" height="23" fill="#ff2020"/>
<rect x="187" y="121" width="1" height="14" fill="#ff2020"/>
<rect x="187" y="144" width="1" height="13" fill="#ff2020"/>
<rect x="180.5" y="135.5" width="14" height="8" fill="none" stroke="#ff2020" stroke-width="1"/>
<rect x="204" y="104" width="1" height="6" fill="#ff2020"/>
<rect x="204" y="136" width="1" height="4" fill="#ff2020"/>
<rect x="197.5" y="110.5" width="14" height="25" fill="none" stroke="#ff2020" stroke-width="1"/>
<rect x="221" y="113" width="1" height="2" fill="#ff2020"/>
<rect x="221" y="142" width="1" height="13" fill="#ff2020"/>
<rect x="214" y="115" width="15" height="27" fill="#ff2020"/>
<rect x="238" y="176" width="1" height="19" fill="#00ffff"/>
<rect x="231" y="142" width="15" height="34" fill="#00ffff"/>
<rect x="255" y="127" width="1" height="17" fill="#00ffff"/>
<rect x="248.5" y="144.5" width="14" height="33" fill="none" stroke="#00ffff" stroke-width="1"/>
<rect x="272" y="140" width="1" height="4" fill="#00ffff"/>
<rect x="272" y="159" width="1" height="21" fill="#00ffff"/>
<rect x="265" y="144" width="15" height="15" fill="#00ffff"/>
<rect x="289" y="146" width="1" height="11" fill="#00ffff"/>
<rect x="289" y="178" width="1" height="8" fill="#00ffff"/>
<rect x="282" y="157" width="15" height="21" fill="#00ffff"/>
<rect x="306" y="159" width="1" height="19" fill="#00ffff"/>
<rect x="306" y="179" width="1" height="7" fill="#00ffff"/>
<rect x="299" y="178" width="15" height="1" fill="#00ffff"/>
<rect x="323" y="153" width="1" height="12" fill="#00ffff"/>
<rect x="323" y="181" width="1" height="5" fill="#00ffff"/>
<rect x="316.5" y="165.5" width="14" height="15" fill="none" stroke="#00ffff" stroke-width="1"/>
<rect x="340" y="141" width="1" height="12" fill="#00ffff"/>
<rect x="340" y="169" width="1" height="9" fill="#00ffff"/>
<rect x="333.5" y="153.5" width="14" height="15" fill="none" stroke="#00ffff" stroke-width="1"/>
<rect x="357" y="148" width="1" height="9" fill="#00ffff"/>
<rect x="357" y="165" width="1" height="2" fill="#00ffff"/>
<rect x="350" y="157" width="15" height="8" fill="#00ffff"/>
<rect x="374" y="174" width="1" height="19" fill="#00ffff"/>
<rect x="367" y="165" width="15" height="9" fill="#00ffff"/>
<rect x="391" y="159" width="1" height="14" fill="#00ffff"/>
<rect x="391" y="174" width="1" height="25" fill="#00ffff"/>
<rect x="384" y="173" width="15" height="1" fill="#00ffff"/>
<rect x="408" y="159" width="1" height="2" fill="#00ffff"/>
<rect x="408" y="178" width="1" height="6" fill="#00ffff"/>
<rect x="401.5" y="161.5" width="14" height="16" fill="none" stroke="#00ffff" stroke-width="1"/>
<rect x="425" y="159" width="1" height="4" fill="#00ffff"/>
<rect x="425" y="186" width="1" height="2" fill="#00ffff"/>
<rect x="418" y="163" width="15" height="23" fill="#00ffff"/>
<rect x="442" y="205" width="1" height="19" fill="#00ffff"/>
<rect x="435" y="184" width="15" height="21" fill="#00ffff"/>
<rect x="459" y="201" width="1" height="2" fill="#00ffff"/>
<rect x="459" y="218" width="1" height="8" fill="#00ffff"/>
<rect x="452" y="203" width="15" height="15" fill="#00ffff"/>
<rect x="476" y="239" width="1" height="21" fill="#00ffff"/>
<rect x="476" y="283" width="1" height="5" fill="#00ffff"/>
<rect x="469" y="260" width="15" height="23" fill="#00ffff"/>
<rect x="493" y="260" width="1" height="11" fill="#00ffff"/>
<rect x="493" y="285" width="1" height="3" fill="#00ffff"/>
<rect x="486.5" y="271.5" width="14" height="13" fill="none" stroke="#00ffff" stroke-width="1"/>
<rect x="510" y="229" width="1" height="8" fill="#00ffff"/>
<rect x="510" y="272" width="1" height="7" fill="#00ffff"/>
<rect x="503.5" y="237.5" width="14" height="34" fill="none" stroke="#00ffff" stroke-width="1"/>
<rect x="527" y="199" width="1" height="15" fill="#00ffff"/>
<rect x="527" y="240" width="1" height="9" fill="#00ffff"/>
<rect x="520.5" y="214.5" width="14" height="25" fill="none" stroke="#00ffff" stroke-width="1"/>
<rect x="544" y="186" width="1" height="21" fill="#00ffff"/>
<rect x="544" y="215" width="1" height="3" fill="#00ffff"/>
<rect x="537.5" y="207.5" width="14" height="7" fill="none" stroke="#00ffff" stroke-width="1"/>
<path d="M239 76h9v1h-9zM248 77h9v1h-9zM257 78h2v1h-2zM259 79h2v1h-2zM261 80h1v1h-1zM262 81h2v1h-2zM264 82h1v1h-1zM265 83h2v1h-2zM267 84h2v1h-2zM269 85h1v1h-1zM270 86h2v1h-2zM272 87h1v1h-1zM273 88h2v1h-2zM275 89h2v1h-2zM277 90h1v1h-1zM278 91h2v1h-2zM280 92h2v1h-2zM282 93h1v1h-1zM283 94h2v1h-2zM285 95h1v1h-1zM286 96h2v1h-2zM288 97h2v1h-2zM290 98h1v1h-1zM291 99h2v1h-2zM293 100h2v1h-2zM295 101h1v1h-1zM296 102h2v1h-2zM298 103h2v1h-2zM300 104h1v1h-1zM301 105h2v1h-2zM303 106h2v1h-2zM305 107h1v1h-1zM306 108h2v1h-2zM308 109h2v1h-2zM310 110h2v1h-2zM312 111h1v1h-1zM313 112h2v1h-2zM315 113h2v1h-2zM317 114h1v1h-1zM318 115h2v1h-2zM320 116h2v1h-2zM322 117h2v1h-2zM324 118h3v1h-3zM327 119h3v1h-3zM330 120h2v1h-2zM332 121h3v1h-3zM335 122h3v1h-3zM338 123h3v1h-3zM341 124h3v1h-3zM344 125h3v1h-3zM347 126h2v1h-2zM349 127h3v1h-3zM352 128h3v1h-3zM355 129h2v1h-2zM357 130h1v1h-1zM358 131h2v1h-2zM360 132h1v1h-1zM361 133h1v1h-1zM362 134h1v1h-1zM363 135h2v1h-2zM365 136h1v1h-1zM366 137h1v1h-1zM367 138h2v1h-2zM369 139h1v1h-1zM370 140h1v1h-1zM371 141h1v1h-1zM372 142h2v1h-2zM374 143h1v1h-1zM375 144h2v1h-2zM377 145h2v1h-2zM379 146h3v1h-3zM382 147h2v1h-2zM384 148h3v1h-3zM387 149h2v1h-2zM389 150h3v1h-3zM392 151h2v1h-2zM394 152h3v1h-3zM397 153h3v1h-3zM400 154h3v1h-3zM403 155h3v1h-3zM406 156h3v1h-3zM409 157h2v1h-2zM411 158h3v1h-3zM414 159h3v1h-3zM417 160h3v1h-3zM420 161h3v1h-3zM423 162h2v1h-2zM425 163h2v1h-2zM427 164h2v1h-2zM429 165h2v1h-2zM431 166h2v1h-2zM433 167h2v1h-2zM435 168h2v1h-2zM437 169h2v1h-2zM439 170h2v1h-2zM441 171h1v1h-1zM442 172h2v1h-2zM444 173h1v1h-1zM445 174h1v1h-1zM446 175h2v1h-2zM448 176h1v1h-1zM449 177h2v1h-2zM451 178h1v1h-1zM452 179h1v1h-1zM453 180h2v1h-2zM455 181h1v1h-1zM456 182h2v1h-2zM458 183h1v1h-1zM459 184h2v1h-2zM461 185h1v1h-1zM462 186h1v1h-1zM463 187h2v1h-2zM465 188h1v1h-1zM466 189h1v1h-1zM467 190h1v1h-1zM468 191h1v1h-1zM469 192h1v1h-1zM470 193h1v1h-1zM470 194h1v1h-1zM471 195h1v1h-1zM472 196h1v1h-1zM473 197h1v1h-1zM474 198h1v1h-1zM475 199h1v1h-1zM476 200h1v1h-1zM477 201h1v1h-1zM478 202h1v1h-1zM479 203h1v1h-1zM480 204h1v1h-1zM480 205h1v1h-1zM481 206h1v1h-1zM482 207h1v1h-1zM483 208h1v1h-1zM484 209h1v1h-1zM485 210h1v1h-1zM486 211h1v1h-1zM487 212h1v1h-1zM487 213h1v1h-1zM488 214h1v1h-1zM489 215h1v1h-1zM490 216h1v1h-1zM491 217h1v1h-1zM491 218h1v1h-1zM492 219h1v1h-1zM493 220h1v1h-1zM494 221h1v1h-1zM495 222h1v1h-1zM495 223h1v1h-1zM496 224h1v1h-1zM497 225h1v1h-1zM498 226h1v1h-1zM498 227h1v1h-1zM499 228h1v1h-1zM500 229h1v1h-1zM501 230h1v1h-1zM502 231h1v1h-1zM502 232h1v1h-1zM503 233h1v1h-1zM504 234h1v1h-1zM505 235h1v1h-1zM506 236h2v1h-2zM508 237h1v1h-1zM509 238h1v1h-1zM510 239h1v1h-1zM511 240h1v1h-1zM512 241h2v1h-2zM514 242h1v1h-1zM515 243h1v1h-1zM516 244h1v1h-1zM517 245h2v1h-2zM519 246h1v1h-1zM520 247h1v1h-1zM521 248h1v1h-1zM522 249h1v1h-1zM523 250h2v1h-2zM525 251h1v1h-1zM526 252h2v1h-2zM528 253h3v1h-3zM531 254h3v1h-3zM534 255h3v1h-3zM537 256h3v1h-3zM540 257h3v1h-3zM543 258h2v1h-2z" fill="#dcd400"/>
<polyline points="238.0,103.7 254.3,125.6 256.0,127.5 324.0,127.5 338.6,140.5 370.3,140.5 389.7,159.5 425.0,159.5 442.0,182.5 542.9,182.5" fill="none" stroke="#10b810" stroke-width="1" stroke-dasharray="3 3"/>
<polyline points="51.3,243.5 68.4,243.5 85.4,184.5 120.6,184.5 136.4,155.5 221.5,155.5" fill="none" stroke="#f0f000" stroke-width="1" stroke-dasharray="3 3"/>
<path d="M221 169h5v1h-5zM219 170h2v1h-2zM226 170h8v1h-8zM217 171h2v1h-2zM234 171h4v1h-4zM215 172h2v1h-2zM213 173h2v1h-2zM211 174h2v1h-2zM209 175h2v1h-2zM207 176h2v1h-2zM205 177h2v1h-2zM204 178h1v1h-1zM203 179h1v1h-1zM202 180h1v1h-1zM201 181h1v1h-1zM200 182h1v1h-1zM199 183h1v1h-1zM198 184h1v1h-1zM197 185h1v1h-1zM196 186h1v1h-1zM195 187h1v1h-1zM194 188h1v1h-1zM193 189h1v1h-1zM192 190h1v1h-1zM191 191h1v1h-1zM190 192h1v1h-1zM190 193h1v1h-1zM189 194h1v1h-1zM188 195h1v1h-1zM187 196h1v1h-1zM186 197h1v1h-1zM185 198h1v1h-1zM184 199h1v1h-1zM183 200h1v1h-1zM182 201h1v1h-1zM181 202h1v1h-1zM180 203h1v1h-1zM179 204h1v1h-1zM178 205h1v1h-1zM177 206h1v1h-1zM176 207h1v1h-1zM175 208h1v1h-1zM174 209h1v1h-1zM173 210h1v1h-1zM172 211h1v1h-1zM171 212h1v1h-1zM170 213h1v1h-1zM169 214h1v1h-1zM168 215h1v1h-1zM168 216h1v1h-1zM167 217h1v1h-1zM166 218h1v1h-1zM165 219h1v1h-1zM164 220h1v1h-1zM163 221h1v1h-1zM162 222h1v1h-1zM161 223h1v1h-1zM160 224h1v1h-1zM159 225h1v1h-1zM158 226h1v1h-1zM157 227h1v1h-1zM156 228h1v1h-1zM155 229h1v1h-1zM154 230h1v1h-1zM153 231h1v1h-1zM153 232h1v1h-1zM152 233h1v1h-1zM151 234h1v1h-1zM150 235h1v1h-1zM149 236h1v1h-1zM148 237h1v1h-1zM147 238h1v1h-1zM146 239h1v1h-1zM145 240h1v1h-1zM144 241h1v1h-1zM144 242h1v1h-1zM143 243h1v1h-1zM142 244h1v1h-1zM141 245h1v1h-1zM140 246h1v1h-1zM139 247h1v1h-1zM139 248h1v1h-1zM138 249h1v1h-1zM137 250h1v1h-1zM136 251h1v1h-1zM134 252h2v1h-2zM132 253h2v1h-2zM131 254h1v1h-1zM129 255h2v1h-2zM128 256h1v1h-1zM126 257h2v1h-2zM124 258h2v1h-2zM123 259h1v1h-1zM121 260h2v1h-2zM119 261h2v1h-2zM118 262h1v1h-1zM116 263h2v1h-2zM115 264h1v1h-1zM113 265h2v1h-2zM111 266h2v1h-2zM109 267h2v1h-2zM107 268h2v1h-2zM105 269h2v1h-2zM103 270h2v1h-2zM100 271h3v1h-3zM98 272h2v1h-2zM96 273h2v1h-2zM93 274h3v1h-3zM91 275h2v1h-2zM89 276h2v1h-2zM87 277h2v1h-2zM81 278h6v1h-6zM73 279h8v1h-8zM67 280h6v1h-6zM64 281h3v1h-3zM61 282h3v1h-3zM59 283h2v1h-2zM56 284h3v1h-3zM53 285h3v1h-3zM51 286h2v1h-2z" fill="#f0f0f0"/>
<g transform="translate(-630,-464)"><text x="749.5" y="552" fill="#ff4040" font-size="12" font-family="Liberation Sans" text-anchor="middle">2470</text><text x="868" y="670" fill="#20e0e0" font-size="12" font-family="Liberation Sans" text-anchor="middle">2422</text><text x="1106" y="763" fill="#20e0e0" font-size="12" font-family="Liberation Sans" text-anchor="middle">2378</text><text x="1174" y="647" fill="#ff4040" font-size="12" font-family="Liberation Sans" text-anchor="middle">2425</text><circle cx="1157" cy="655" r="3.5" fill="none" stroke="#ff2020" stroke-width="1" shape-rendering="auto"/><text x="675" y="661" fill="#f0e818" font-size="11.5" font-family="Liberation Sans">买</text><text x="862" y="600" fill="#24c424" font-size="11.5" font-family="Liberation Sans">卖</text></g>
<rect x="51" y="345" width="1" height="0" fill="#ff2020"/>
<rect x="68" y="344" width="1" height="1" fill="#ff2020"/>
<rect x="85" y="342" width="1" height="3" fill="#ff2020"/>
<rect x="102" y="341" width="1" height="4" fill="#ff2020"/>
<rect x="119" y="342" width="1" height="3" fill="#ff2020"/>
<rect x="136" y="342" width="1" height="3" fill="#ff2020"/>
<rect x="153" y="343" width="1" height="2" fill="#ff2020"/>
<rect x="170" y="344" width="1" height="1" fill="#ff2020"/>
<rect x="187" y="344" width="1" height="1" fill="#ff2020"/>
<rect x="204" y="345" width="1" height="0" fill="#ff2020"/>
<rect x="221" y="346" width="1" height="1" fill="#20d0e0"/>
<rect x="238" y="346" width="1" height="4" fill="#20d0e0"/>
<rect x="255" y="346" width="1" height="4" fill="#20d0e0"/>
<rect x="272" y="346" width="1" height="5" fill="#20d0e0"/>
<rect x="289" y="346" width="1" height="6" fill="#20d0e0"/>
<rect x="306" y="346" width="1" height="7" fill="#20d0e0"/>
<rect x="323" y="346" width="1" height="7" fill="#20d0e0"/>
<rect x="340" y="346" width="1" height="6" fill="#20d0e0"/>
<rect x="357" y="346" width="1" height="6" fill="#20d0e0"/>
<rect x="374" y="346" width="1" height="6" fill="#20d0e0"/>
<rect x="391" y="346" width="1" height="5" fill="#20d0e0"/>
<rect x="408" y="346" width="1" height="5" fill="#20d0e0"/>
<rect x="425" y="346" width="1" height="6" fill="#20d0e0"/>
<rect x="442" y="346" width="1" height="7" fill="#20d0e0"/>
<rect x="459" y="346" width="1" height="8" fill="#20d0e0"/>
<rect x="476" y="346" width="1" height="11" fill="#20d0e0"/>
<rect x="493" y="346" width="1" height="12" fill="#20d0e0"/>
<rect x="510" y="346" width="1" height="11" fill="#20d0e0"/>
<rect x="527" y="346" width="1" height="7" fill="#20d0e0"/>
<rect x="544" y="346" width="1" height="5" fill="#20d0e0"/>
<path d="M158 331h62v1h-62zM92 332h66v1h-66zM220 332h8v1h-8zM76 333h16v1h-16zM228 333h10v1h-10zM60 334h16v1h-16zM238 334h11v1h-11zM51 335h9v1h-9zM249 335h11v1h-11zM260 336h14v1h-14zM274 337h16v1h-16zM290 338h17v1h-17zM307 339h17v1h-17zM324 340h25v1h-25zM349 341h33v1h-33zM382 342h22v1h-22zM404 343h12v1h-12zM416 344h12v1h-12zM428 345h12v1h-12zM440 346h12v1h-12zM452 347h11v1h-11zM463 348h8v1h-8zM471 349h8v1h-8zM479 350h8v1h-8zM536 350h9v1h-9zM487 351h49v1h-49z" fill="#f0f0f0"/>
<path d="M125 332h118v1h-118zM88 333h37v1h-37zM243 333h22v1h-22zM64 334h24v1h-24zM265 334h22v1h-22zM51 335h13v1h-13zM287 335h23v1h-23zM310 336h22v1h-22zM332 337h22v1h-22zM354 338h20v1h-20zM374 339h16v1h-16zM390 340h17v1h-17zM407 341h16v1h-16zM423 342h15v1h-15zM438 343h12v1h-12zM450 344h13v1h-13zM463 345h12v1h-12zM475 346h23v1h-23zM498 347h31v1h-31zM529 348h16v1h-16z" fill="#e0e000"/>
<circle cx="52" cy="326.79999999999995" r="3.5" fill="#ff1010" shape-rendering="auto"/><circle cx="51.2" cy="325.9" r="1" fill="#ffb0b0" shape-rendering="auto"/>
<rect x="51" y="440" width="1" height="1" fill="#ff2020"/>
<rect x="68" y="438" width="1" height="3" fill="#ff2020"/>
<rect x="85" y="432" width="1" height="9" fill="#ff2020"/>
<rect x="102" y="426" width="1" height="15" fill="#ff2020"/>
<rect x="119" y="429" width="1" height="12" fill="#ff2020"/>
<rect x="136" y="430" width="1" height="11" fill="#ff2020"/>
<rect x="153" y="431" width="1" height="10" fill="#ff2020"/>
<rect x="170" y="436" width="1" height="5" fill="#ff2020"/>
<rect x="187" y="439" width="1" height="2" fill="#ff2020"/>
<rect x="204" y="438" width="1" height="3" fill="#ff2020"/>
<rect x="221" y="442" width="1" height="1" fill="#20d0e0"/>
<rect x="238" y="442" width="1" height="10" fill="#20d0e0"/>
<rect x="255" y="442" width="1" height="11" fill="#20d0e0"/>
<rect x="272" y="442" width="1" height="13" fill="#20d0e0"/>
<rect x="289" y="442" width="1" height="19" fill="#20d0e0"/>
<rect x="306" y="442" width="1" height="21" fill="#20d0e0"/>
<rect x="323" y="442" width="1" height="20" fill="#20d0e0"/>
<rect x="340" y="442" width="1" height="17" fill="#20d0e0"/>
<rect x="357" y="442" width="1" height="17" fill="#20d0e0"/>
<rect x="374" y="442" width="1" height="17" fill="#20d0e0"/>
<rect x="391" y="442" width="1" height="17" fill="#20d0e0"/>
<rect x="408" y="442" width="1" height="14" fill="#20d0e0"/>
<rect x="425" y="442" width="1" height="17" fill="#20d0e0"/>
<rect x="442" y="442" width="1" height="19" fill="#20d0e0"/>
<rect x="459" y="442" width="1" height="24" fill="#20d0e0"/>
<rect x="476" y="442" width="1" height="34" fill="#20d0e0"/>
<rect x="493" y="442" width="1" height="38" fill="#20d0e0"/>
<rect x="510" y="442" width="1" height="32" fill="#20d0e0"/>
<rect x="527" y="442" width="1" height="24" fill="#20d0e0"/>
<rect x="544" y="442" width="1" height="17" fill="#20d0e0"/>
<path d="M125 395h49v1h-49zM99 396h26v1h-26zM174 396h30v1h-30zM95 397h4v1h-4zM204 397h8v1h-8zM92 398h3v1h-3zM212 398h6v1h-6zM89 399h3v1h-3zM218 399h3v1h-3zM85 400h4v1h-4zM221 400h4v1h-4zM82 401h3v1h-3zM225 401h3v1h-3zM79 402h3v1h-3zM228 402h3v1h-3zM75 403h4v1h-4zM231 403h4v1h-4zM72 404h3v1h-3zM235 404h3v1h-3zM66 405h6v1h-6zM238 405h6v1h-6zM56 406h10v1h-10zM244 406h8v1h-8zM51 407h5v1h-5zM252 407h8v1h-8zM260 408h8v1h-8zM268 409h6v1h-6zM274 410h3v1h-3zM277 411h4v1h-4zM281 412h3v1h-3zM284 413h3v1h-3zM287 414h4v1h-4zM291 415h3v1h-3zM294 416h3v1h-3zM297 417h4v1h-4zM301 418h3v1h-3zM304 419h8v1h-8zM312 420h14v1h-14zM326 421h11v1h-11zM337 422h8v1h-8zM345 423h8v1h-8zM353 424h8v1h-8zM361 425h9v1h-9zM370 426h8v1h-8zM378 427h8v1h-8zM386 428h8v1h-8zM394 429h7v1h-7zM401 430h6v1h-6zM407 431h5v1h-5zM412 432h6v1h-6zM418 433h5v1h-5zM423 434h6v1h-6zM429 435h5v1h-5zM434 436h4v1h-4zM438 437h5v1h-5zM443 438h4v1h-4zM447 439h5v1h-5zM452 440h4v1h-4zM456 441h3v1h-3zM459 442h2v1h-2zM461 443h2v1h-2zM463 444h2v1h-2zM465 445h2v1h-2zM467 446h1v1h-1zM468 447h2v1h-2zM470 448h2v1h-2zM472 449h2v1h-2zM474 450h2v1h-2zM476 451h2v1h-2zM478 452h2v1h-2zM480 453h2v1h-2zM482 454h2v1h-2zM484 455h2v1h-2zM486 456h2v1h-2zM488 457h2v1h-2zM540 457h5v1h-5zM490 458h6v1h-6zM532 458h8v1h-8zM496 459h10v1h-10zM519 459h13v1h-13zM506 460h13v1h-13z" fill="#f0f0f0"/>
<path d="M183 398h39v1h-39zM145 399h38v1h-38zM222 399h11v1h-11zM137 400h8v1h-8zM233 400h11v1h-11zM129 401h8v1h-8zM244 401h11v1h-11zM121 402h8v1h-8zM255 402h11v1h-11zM113 403h8v1h-8zM266 403h11v1h-11zM105 404h8v1h-8zM277 404h9v1h-9zM94 405h11v1h-11zM286 405h6v1h-6zM82 406h12v1h-12zM292 406h6v1h-6zM51 407h31v1h-31zM298 407h6v1h-6zM304 408h7v1h-7zM311 409h6v1h-6zM317 410h6v1h-6zM323 411h6v1h-6zM329 412h8v1h-8zM337 413h8v1h-8zM345 414h8v1h-8zM353 415h8v1h-8zM361 416h9v1h-9zM370 417h8v1h-8zM378 418h8v1h-8zM386 419h8v1h-8zM394 420h8v1h-8zM402 421h6v1h-6zM408 422h7v1h-7zM415 423h7v1h-7zM422 424h6v1h-6zM428 425h7v1h-7zM435 426h7v1h-7zM442 427h6v1h-6zM448 428h7v1h-7zM455 429h5v1h-5zM460 430h3v1h-3zM463 431h4v1h-4zM467 432h3v1h-3zM470 433h3v1h-3zM473 434h4v1h-4zM477 435h3v1h-3zM480 436h3v1h-3zM483 437h4v1h-4zM487 438h3v1h-3zM490 439h3v1h-3zM493 440h4v1h-4zM497 441h4v1h-4zM501 442h4v1h-4zM505 443h4v1h-4zM509 444h6v1h-6zM515 445h6v1h-6zM521 446h7v1h-7zM528 447h7v1h-7zM535 448h6v1h-6zM541 449h4v1h-4z" fill="#e0e000"/>
<circle cx="222.10000000000002" cy="391.20000000000005" r="3.5" fill="#ff1010" shape-rendering="auto"/><circle cx="221.3" cy="390.30000000000007" r="1" fill="#ffb0b0" shape-rendering="auto"/>
<text x="467.5" y="499" fill="#b0b0b0" font-size="12" font-family='"Liberation Sans", sans-serif' font-weight="normal" text-anchor="middle" >2022/07/21</text>
<text x="44" y="499" fill="#b0b0b0" font-size="12" font-family='"Liberation Sans", sans-serif' font-weight="normal" text-anchor="start" >2022/07/20</text>
<rect x="468" y="293" width="1" height="8" fill="#909090"/>
<rect x="468" y="354" width="1" height="8" fill="#909090"/>
<rect x="468" y="476" width="1" height="8" fill="#909090"/>
</g>
<g transform="translate(1261,464)">
<text x="18" y="54" fill="#f0f0f0" font-size="12" font-family='"Liberation Sans", sans-serif' font-weight="normal" text-anchor="start" textLength="46" lengthAdjust="spacingAndGlyphs">甲醇2209</text>
<text x="66" y="50.5" fill="#e02020" font-size="8" font-family='"Liberation Sans", sans-serif' font-weight="bold" text-anchor="start" textLength="5.5" lengthAdjust="spacingAndGlyphs">M</text>
<text x="74" y="54" fill="#f0f0f0" font-size="12" font-family='"Liberation Mono", monospace' font-weight="normal" text-anchor="start" textLength="71.5" lengthAdjust="spacingAndGlyphs">(CZCE MA209)</text>
<text x="159" y="54" fill="#f0f0f0" font-size="12" font-family='"Liberation Sans", sans-serif' font-weight="normal" text-anchor="start" textLength="35" lengthAdjust="spacingAndGlyphs">30分钟</text>
<polyline points="197,50 202,54.5 207,50" fill="none" stroke="#f0f0f0" stroke-width="1.3" shape-rendering="auto"/>
<text x="227" y="54" fill="#20e020" font-size="12" font-family='"Liberation Sans", sans-serif' font-weight="normal" text-anchor="start" textLength="28" lengthAdjust="spacingAndGlyphs">2415</text>
<text x="273" y="54" fill="#20e020" font-size="12" font-family='"Liberation Sans", sans-serif' font-weight="normal" text-anchor="start" textLength="71.5" lengthAdjust="spacingAndGlyphs">-25 / -1.02%</text>
<rect x="-7" y="59" width="622" height="1" fill="#c81a0c"/>
<rect x="43" y="59" width="1" height="426" fill="#c81a0c"/>
<rect x="614" y="42" width="1" height="460" fill="#c81a0c"/>
<rect x="617" y="42" width="1" height="460" fill="#c81a0c"/>
<rect x="614" y="42" width="4" height="1" fill="#c81a0c"/>
<rect x="614" y="501" width="4" height="1" fill="#c81a0c"/>
<rect x="44" y="75" width="508" height="226" fill="#0e1804"/>
<rect x="43" y="301" width="572" height="1" fill="#c81a0c"/>
<rect x="43" y="362" width="572" height="1" fill="#c81a0c"/>
<rect x="43" y="484" width="572" height="1" fill="#c81a0c"/>
<text x="48" y="71.5" fill="#ffff00" font-size="12" font-family='"Liberation Sans", sans-serif' font-weight="normal" text-anchor="start" textLength="47" lengthAdjust="spacingAndGlyphs">精准主图</text>
<polyline points="98,66 103,71 108,66" fill="none" stroke="#ffff00" stroke-width="1.4" shape-rendering="auto"/>
<text x="116.6" y="71.5" fill="#00e0e0" font-size="12" font-family='"Liberation Sans", sans-serif' font-weight="normal" text-anchor="start" textLength="57.4" lengthAdjust="spacingAndGlyphs">VAR2 0.00</text>
<text x="183" y="71.5" fill="#00e0e0" font-size="12" font-family='"Liberation Sans", sans-serif' font-weight="normal" text-anchor="start" textLength="42" lengthAdjust="spacingAndGlyphs">BB 0.00</text>
<text x="233.6" y="71.5" fill="#1414ff" font-size="12" font-family='"Liberation Sans", sans-serif' font-weight="normal" text-anchor="start" textLength="51.4" lengthAdjust="spacingAndGlyphs">DD 28.00</text>
<text x="294.8" y="71.5" fill="#ff1414" font-size="12" font-family='"Liberation Sans", sans-serif' font-weight="normal" text-anchor="start" textLength="51.2" lengthAdjust="spacingAndGlyphs">AA 28.00</text>
<text x="354.5" y="71.5" fill="#ffff00" font-size="12" font-family='"Liberation Sans", sans-serif' font-weight="normal" text-anchor="start" >顶底线 15.48</text>
<text x="434" y="71.5" fill="#ffff00" font-size="12" font-family='"Liberation Sans", sans-serif' font-weight="normal" text-anchor="start" textLength="47" lengthAdjust="spacingAndGlyphs">精准趋势</text>
<text x="490" y="71.5" fill="#ffff00" font-size="12" font-family='"Liberation Sans", sans-serif' font-weight="normal" text-anchor="start" >HH 2432.50</text>
<text x="573.6" y="71.5" fill="#e8e000" font-size="11.5" font-family='"Liberation Serif", serif' font-weight="normal" text-anchor="start" textLength="30" lengthAdjust="spacingAndGlyphs">Delay</text>
<line x1="44" y1="179.5" x2="614" y2="179.5" stroke="#a01010" stroke-width="1" stroke-dasharray="3 3"/>
<text x="41" y="184" fill="#b0b0b0" font-size="12.5" font-family='"Liberation Sans", sans-serif' font-weight="bold" text-anchor="end" textLength="26.8" lengthAdjust="spacingAndGlyphs">2400</text>
<line x1="44" y1="242.5" x2="614" y2="242.5" stroke="#a01010" stroke-width="1" stroke-dasharray="3 3"/>
<text x="41" y="247" fill="#b0b0b0" font-size="12.5" font-family='"Liberation Sans", sans-serif' font-weight="bold" text-anchor="end" textLength="26.8" lengthAdjust="spacingAndGlyphs">2350</text>
<line x1="44" y1="322.5" x2="614" y2="322.5" stroke="#a01010" stroke-width="1" stroke-dasharray="3 3"/>
<text x="41" y="327" fill="#b0b0b0" font-size="12.5" font-family='"Liberation Sans", sans-serif' font-weight="bold" text-anchor="end" textLength="13.4" lengthAdjust="spacingAndGlyphs">20</text>
<line x1="44" y1="332.5" x2="614" y2="332.5" stroke="#a01010" stroke-width="1" stroke-dasharray="3 3"/>
<text x="41" y="337" fill="#b0b0b0" font-size="12.5" font-family='"Liberation Sans", sans-serif' font-weight="bold" text-anchor="end" textLength="13.4" lengthAdjust="spacingAndGlyphs">10</text>
<line x1="44" y1="343.5" x2="614" y2="343.5" stroke="#a01010" stroke-width="1" stroke-dasharray="3 3"/>
<text x="41" y="348" fill="#b0b0b0" font-size="12.5" font-family='"Liberation Sans", sans-serif' font-weight="bold" text-anchor="end" textLength="6.7" lengthAdjust="spacingAndGlyphs">0</text>
<line x1="44" y1="354.5" x2="614" y2="354.5" stroke="#a01010" stroke-width="1" stroke-dasharray="3 3"/>
<text x="41" y="359" fill="#b0b0b0" font-size="12.5" font-family='"Liberation Sans", sans-serif' font-weight="bold" text-anchor="end" textLength="17.8" lengthAdjust="spacingAndGlyphs">-10</text>
<line x1="44" y1="378.5" x2="614" y2="378.5" stroke="#a01010" stroke-width="1" stroke-dasharray="3 3"/>
<text x="41" y="383" fill="#b0b0b0" font-size="12.5" font-family='"Liberation Sans", sans-serif' font-weight="bold" text-anchor="end" textLength="13.4" lengthAdjust="spacingAndGlyphs">30</text>
<line x1="44" y1="401.5" x2="614" y2="401.5" stroke="#a01010" stroke-width="1" stroke-dasharray="3 3"/>
<text x="41" y="406" fill="#b0b0b0" font-size="12.5" font-family='"Liberation Sans", sans-serif' font-weight="bold" text-anchor="end" textLength="13.4" lengthAdjust="spacingAndGlyphs">20</text>
<line x1="44" y1="423.5" x2="614" y2="423.5" stroke="#a01010" stroke-width="1" stroke-dasharray="3 3"/>
<text x="41" y="428" fill="#b0b0b0" font-size="12.5" font-family='"Liberation Sans", sans-serif' font-weight="bold" text-anchor="end" textLength="13.4" lengthAdjust="spacingAndGlyphs">10</text>
<line x1="44" y1="446.5" x2="614" y2="446.5" stroke="#a01010" stroke-width="1" stroke-dasharray="3 3"/>
<text x="41" y="451" fill="#b0b0b0" font-size="12.5" font-family='"Liberation Sans", sans-serif' font-weight="bold" text-anchor="end" textLength="6.7" lengthAdjust="spacingAndGlyphs">0</text>
<line x1="44" y1="468.5" x2="614" y2="468.5" stroke="#a01010" stroke-width="1" stroke-dasharray="3 3"/>
<text x="41" y="473" fill="#b0b0b0" font-size="12.5" font-family='"Liberation Sans", sans-serif' font-weight="bold" text-anchor="end" textLength="17.8" lengthAdjust="spacingAndGlyphs">-10</text>
<text x="48.5" y="314" fill="#e8e020" font-size="12" font-family='"Liberation Sans", sans-serif' font-weight="normal" text-anchor="start" textLength="95.5" lengthAdjust="spacingAndGlyphs">MACD多(12,26,9)</text>
<polyline points="148.6,309 152.6,313 156.6,309" fill="none" stroke="#ffff00" stroke-width="1.3" shape-rendering="auto"/>
<text x="165.3" y="314" fill="#f0f0f0" font-size="12" font-family='"Liberation Sans", sans-serif' font-weight="normal" text-anchor="start" >DIFF 4.13</text>
<text x="226.3" y="314" fill="#e8e020" font-size="12" font-family='"Liberation Sans", sans-serif' font-weight="normal" text-anchor="start" >DEA 10.26</text>
<text x="296.7" y="314" fill="#f0f0f0" font-size="12" font-family='"Liberation Sans", sans-serif' font-weight="normal" text-anchor="start" >-12.25</text>
<text x="48.5" y="375" fill="#e8e020" font-size="12" font-family='"Liberation Sans", sans-serif' font-weight="normal" text-anchor="start" textLength="95.5" lengthAdjust="spacingAndGlyphs">MACD空(12,26,9)</text>
<polyline points="148.6,370 152.6,374 156.6,370" fill="none" stroke="#ffff00" stroke-width="1.3" shape-rendering="auto"/>
<text x="165.3" y="375" fill="#f0f0f0" font-size="12" font-family='"Liberation Sans", sans-serif' font-weight="normal" text-anchor="start" >DIFF 4.13</text>
<text x="226.3" y="375" fill="#e8e020" font-size="12" font-family='"Liberation Sans", sans-serif' font-weight="normal" text-anchor="start" >DEA 10.26</text>
<text x="296.7" y="375" fill="#f0f0f0" font-size="12" font-family='"Liberation Sans", sans-serif' font-weight="normal" text-anchor="start" >-12.25</text>
<text x="44" y="297.5" fill="#ffff00" font-size="12" font-family='"Liberation Sans", sans-serif' font-weight="normal" text-anchor="start" >4天</text>
<text x="611" y="297.5" fill="#ffff00" font-size="12" font-family='"Liberation Sans", sans-serif' font-weight="normal" text-anchor="end" >18分0秒</text>
<rect x="51" y="214" width="1" height="4" fill="#00ffff"/>
<rect x="51" y="260" width="1" height="17" fill="#00ffff"/>
<rect x="44" y="218" width="15" height="42" fill="#00ffff"/>
<rect x="68" y="238" width="1" height="16" fill="#00ffff"/>
<rect x="68" y="261" width="1" height="5" fill="#00ffff"/>
<rect x="61.5" y="254.5" width="14" height="6" fill="none" stroke="#00ffff" stroke-width="1"/>
<rect x="85" y="249" width="1" height="4" fill="#00ffff"/>
<rect x="85" y="257" width="1" height="7" fill="#00ffff"/>
<rect x="78" y="253" width="15" height="4" fill="#00ffff"/>
<rect x="102" y="248" width="1" height="6" fill="#00ffff"/>
<rect x="102" y="272" width="1" height="15" fill="#00ffff"/>
<rect x="95.5" y="254.5" width="14" height="17" fill="none" stroke="#00ffff" stroke-width="1"/>
<rect x="119" y="214" width="1" height="11" fill="#ff2020"/>
<rect x="112.5" y="225.5" width="14" height="28" fill="none" stroke="#ff2020" stroke-width="1"/>
<rect x="136" y="173" width="1" height="7" fill="#ff2020"/>
<rect x="129.5" y="180.5" width="14" height="45" fill="none" stroke="#ff2020" stroke-width="1"/>
<rect x="153" y="168" width="1" height="10" fill="#ff2020"/>
<rect x="153" y="184" width="1" height="13" fill="#ff2020"/>
<rect x="146" y="178" width="15" height="6" fill="#ff2020"/>
<rect x="170" y="170" width="1" height="7" fill="#ff2020"/>
<rect x="170" y="181" width="1" height="26" fill="#ff2020"/>
<rect x="163" y="177" width="15" height="4" fill="#ff2020"/>
<rect x="187" y="140" width="1" height="7" fill="#ff2020"/>
<rect x="180.5" y="147.5" width="14" height="33" fill="none" stroke="#ff2020" stroke-width="1"/>
<rect x="204" y="124" width="1" height="5" fill="#ff2020"/>
<rect x="204" y="148" width="1" height="14" fill="#ff2020"/>
<rect x="197.5" y="129.5" width="14" height="18" fill="none" stroke="#ff2020" stroke-width="1"/>
<rect x="221" y="125" width="1" height="4" fill="#ff2020"/>
<rect x="221" y="151" width="1" height="4" fill="#ff2020"/>
<rect x="214" y="129" width="15" height="22" fill="#ff2020"/>
<rect x="238" y="140" width="1" height="9" fill="#ff2020"/>
<rect x="238" y="174" width="1" height="2" fill="#ff2020"/>
<rect x="231" y="149" width="15" height="25" fill="#ff2020"/>
<rect x="255" y="159" width="1" height="13" fill="#ff2020"/>
<rect x="255" y="176" width="1" height="10" fill="#ff2020"/>
<rect x="248" y="172" width="15" height="4" fill="#ff2020"/>
<rect x="272" y="135" width="1" height="2" fill="#ff2020"/>
<rect x="265.5" y="137.5" width="14" height="38" fill="none" stroke="#ff2020" stroke-width="1"/>
<rect x="289" y="128" width="1" height="7" fill="#ff2020"/>
<rect x="289" y="139" width="1" height="7" fill="#ff2020"/>
<rect x="282.5" y="135.5" width="14" height="3" fill="none" stroke="#ff2020" stroke-width="1"/>
<rect x="306" y="98" width="1" height="5" fill="#ff2020"/>
<rect x="306" y="128" width="1" height="21" fill="#ff2020"/>
<rect x="299.5" y="103.5" width="14" height="24" fill="none" stroke="#ff2020" stroke-width="1"/>
<rect x="323" y="92" width="1" height="11" fill="#ff2020"/>
<rect x="323" y="116" width="1" height="15" fill="#ff2020"/>
<rect x="316" y="103" width="15" height="13" fill="#ff2020"/>
<rect x="340" y="100" width="1" height="15" fill="#ff2020"/>
<rect x="340" y="123" width="1" height="6" fill="#ff2020"/>
<rect x="333" y="115" width="15" height="8" fill="#ff2020"/>
<rect x="357" y="99" width="1" height="4" fill="#ff2020"/>
<rect x="357" y="123" width="1" height="8" fill="#ff2020"/>
<rect x="350.5" y="103.5" width="14" height="19" fill="none" stroke="#ff2020" stroke-width="1"/>
<rect x="374" y="141" width="1" height="12" fill="#ff2020"/>
<rect x="367" y="105" width="15" height="36" fill="#ff2020"/>
<rect x="391" y="113" width="1" height="17" fill="#ff2020"/>
<rect x="384.5" y="130.5" width="14" height="13" fill="none" stroke="#ff2020" stroke-width="1"/>
<rect x="408" y="124" width="1" height="6" fill="#ff2020"/>
<rect x="408" y="145" width="1" height="4" fill="#ff2020"/>
<rect x="401" y="130" width="15" height="15" fill="#ff2020"/>
<rect x="425" y="120" width="1" height="8" fill="#ff2020"/>
<rect x="425" y="146" width="1" height="3" fill="#ff2020"/>
<rect x="418.5" y="128.5" width="14" height="17" fill="none" stroke="#ff2020" stroke-width="1"/>
<rect x="442" y="125" width="1" height="5" fill="#ff2020"/>
<rect x="442" y="140" width="1" height="12" fill="#ff2020"/>
<rect x="435" y="130" width="15" height="10" fill="#ff2020"/>
<rect x="459" y="132" width="1" height="2" fill="#ff2020"/>
<rect x="459" y="140" width="1" height="16" fill="#ff2020"/>
<rect x="452.5" y="134.5" width="14" height="5" fill="none" stroke="#ff2020" stroke-width="1"/>
<rect x="476" y="159" width="1" height="12" fill="#00ffff"/>
<rect x="469" y="134" width="15" height="25" fill="#00ffff"/>
<rect x="493" y="157" width="1" height="1" fill="#00ffff"/>
<rect x="493" y="167" width="1" height="5" fill="#00ffff"/>
<rect x="486" y="158" width="15" height="9" fill="#00ffff"/>
<rect x="510" y="179" width="1" height="13" fill="#00ffff"/>
<rect x="510" y="200" width="1" height="9" fill="#00ffff"/>
<rect x="503" y="192" width="15" height="8" fill="#00ffff"/>
<rect x="527" y="156" width="1" height="9" fill="#00ffff"/>
<rect x="527" y="200" width="1" height="4" fill="#00ffff"/>
<rect x="520.5" y="165.5" width="14" height="34" fill="none" stroke="#00ffff" stroke-width="1"/>
<rect x="544" y="149" width="1" height="11" fill="#00ffff"/>
<rect x="544" y="166" width="1" height="1" fill="#00ffff"/>
<rect x="537.5" y="160.5" width="14" height="5" fill="none" stroke="#00ffff" stroke-width="1"/>
<path d="M52 187h1v1h-1zM53 188h1v1h-1zM54 189h1v1h-1zM55 190h1v1h-1zM56 191h2v1h-2zM58 192h1v1h-1zM59 193h1v1h-1zM60 194h1v1h-1zM61 195h1v1h-1zM62 196h1v1h-1zM63 197h1v1h-1zM64 198h1v1h-1zM65 199h1v1h-1zM66 200h2v1h-2zM68 201h1v1h-1zM69 202h1v1h-1zM70 203h1v1h-1zM71 204h1v1h-1zM72 205h1v1h-1zM73 206h1v1h-1zM74 207h1v1h-1zM75 208h2v1h-2zM77 209h1v1h-1zM78 210h1v1h-1zM79 211h1v1h-1zM80 212h1v1h-1zM81 213h1v1h-1zM82 214h1v1h-1zM83 215h2v1h-2zM85 216h1v1h-1zM86 217h1v1h-1zM87 218h1v1h-1zM88 219h1v1h-1zM89 220h1v1h-1zM90 221h2v1h-2zM92 222h1v1h-1zM93 223h1v1h-1zM94 224h1v1h-1zM95 225h1v1h-1zM96 226h1v1h-1zM97 227h2v1h-2zM99 228h1v1h-1zM100 229h1v1h-1zM101 230h1v1h-1zM102 231h2v1h-2zM104 232h2v1h-2zM106 233h2v1h-2zM108 234h2v1h-2zM110 235h2v1h-2zM112 236h2v1h-2zM114 237h2v1h-2zM116 238h2v1h-2zM118 239h2v1h-2z" fill="#dcd400"/>
<path d="M459 76h2v1h-2zM461 77h4v1h-4zM465 78h3v1h-3zM468 79h3v1h-3zM471 80h4v1h-4zM475 81h2v1h-2zM477 82h2v1h-2zM479 83h2v1h-2zM481 84h1v1h-1zM482 85h2v1h-2zM484 86h2v1h-2zM486 87h1v1h-1zM487 88h2v1h-2zM489 89h2v1h-2zM491 90h1v1h-1zM492 91h2v1h-2zM494 92h2v1h-2zM496 93h1v1h-1zM497 94h1v1h-1zM498 95h2v1h-2zM500 96h1v1h-1zM501 97h1v1h-1zM502 98h2v1h-2zM504 99h1v1h-1zM505 100h1v1h-1zM506 101h2v1h-2zM508 102h1v1h-1zM509 103h1v1h-1zM510 104h2v1h-2zM512 105h1v1h-1zM513 106h2v1h-2zM515 107h2v1h-2zM517 108h2v1h-2zM519 109h2v1h-2zM521 110h2v1h-2zM523 111h3v1h-3zM526 112h2v1h-2zM528 113h2v1h-2zM530 114h2v1h-2zM532 115h3v1h-3zM535 116h2v1h-2zM537 117h2v1h-2zM539 118h2v1h-2zM541 119h2v1h-2zM543 120h2v1h-2z" fill="#dcd400"/>
<polyline points="51.5,197.3 68.6,238.5 102.6,238.5" fill="none" stroke="#10b810" stroke-width="1" stroke-dasharray="3 3"/>
<polyline points="481.1,132.5 544.3,132.5" fill="none" stroke="#10b810" stroke-width="1" stroke-dasharray="3 3"/>
<polyline points="119.6,286.5 152.4,286.5 157.3,258.1 164.6,233.8 170.7,205.5 238.8,205.5 255.8,182.5 291.0,182.5 308.0,147.5 359.5,147.5 369.2,152.5 459.2,152.5" fill="none" stroke="#f0f000" stroke-width="1" stroke-dasharray="3 3"/>
<path d="M440 124h3v1h-3zM436 125h4v1h-4zM431 126h5v1h-5zM427 127h4v1h-4zM422 128h5v1h-5zM418 129h4v1h-4zM414 130h4v1h-4zM411 131h3v1h-3zM408 132h3v1h-3zM405 133h3v1h-3zM402 134h3v1h-3zM399 135h3v1h-3zM396 136h3v1h-3zM388 137h8v1h-8zM376 138h12v1h-12zM364 139h12v1h-12zM357 140h7v1h-7zM355 141h2v1h-2zM353 142h2v1h-2zM351 143h2v1h-2zM349 144h2v1h-2zM347 145h2v1h-2zM345 146h2v1h-2zM343 147h2v1h-2zM341 148h2v1h-2zM339 149h2v1h-2zM338 150h1v1h-1zM336 151h2v1h-2zM335 152h1v1h-1zM333 153h2v1h-2zM332 154h1v1h-1zM330 155h2v1h-2zM329 156h1v1h-1zM327 157h2v1h-2zM326 158h1v1h-1zM324 159h2v1h-2zM322 160h2v1h-2zM321 161h1v1h-1zM319 162h2v1h-2zM318 163h1v1h-1zM316 164h2v1h-2zM315 165h1v1h-1zM313 166h2v1h-2zM312 167h1v1h-1zM310 168h2v1h-2zM309 169h1v1h-1zM307 170h2v1h-2zM305 171h2v1h-2zM304 172h1v1h-1zM302 173h2v1h-2zM300 174h2v1h-2zM299 175h1v1h-1zM297 176h2v1h-2zM296 177h1v1h-1zM294 178h2v1h-2zM292 179h2v1h-2zM291 180h1v1h-1zM290 181h1v1h-1zM289 182h1v1h-1zM288 183h1v1h-1zM287 184h1v1h-1zM286 185h1v1h-1zM285 186h1v1h-1zM284 187h1v1h-1zM283 188h1v1h-1zM282 189h1v1h-1zM282 190h1v1h-1zM281 191h1v1h-1zM280 192h1v1h-1zM279 193h1v1h-1zM278 194h1v1h-1zM277 195h1v1h-1zM276 196h1v1h-1zM275 197h1v1h-1zM274 198h1v1h-1zM273 199h1v1h-1zM272 200h1v1h-1zM271 201h1v1h-1zM270 202h1v1h-1zM269 203h1v1h-1zM268 204h1v1h-1zM267 205h1v1h-1zM266 206h1v1h-1zM265 207h1v1h-1zM264 208h1v1h-1zM264 209h1v1h-1zM263 210h1v1h-1zM262 211h1v1h-1zM261 212h1v1h-1zM260 213h1v1h-1zM259 214h1v1h-1zM258 215h1v1h-1zM257 216h1v1h-1zM256 217h1v1h-1zM255 218h1v1h-1zM253 219h2v1h-2zM252 220h1v1h-1zM250 221h2v1h-2zM249 222h1v1h-1zM247 223h2v1h-2zM245 224h2v1h-2zM244 225h1v1h-1zM242 226h2v1h-2zM241 227h1v1h-1zM239 228h2v1h-2zM238 229h1v1h-1zM237 230h1v1h-1zM236 231h1v1h-1zM235 232h1v1h-1zM234 233h1v1h-1zM233 234h1v1h-1zM232 235h1v1h-1zM231 236h1v1h-1zM230 237h1v1h-1zM229 238h1v1h-1zM228 239h1v1h-1zM227 240h1v1h-1zM226 241h1v1h-1zM225 242h1v1h-1zM224 243h1v1h-1zM223 244h1v1h-1zM222 245h1v1h-1zM221 246h1v1h-1zM220 247h1v1h-1zM219 248h1v1h-1zM218 249h1v1h-1zM217 250h1v1h-1zM216 251h1v1h-1zM215 252h1v1h-1zM214 253h1v1h-1zM213 254h1v1h-1zM213 255h1v1h-1zM212 256h1v1h-1zM211 257h1v1h-1zM210 258h1v1h-1zM209 259h1v1h-1zM208 260h1v1h-1zM207 261h1v1h-1zM206 262h1v1h-1zM205 263h1v1h-1zM203 264h2v1h-2zM201 265h2v1h-2zM199 266h2v1h-2zM197 267h2v1h-2zM195 268h2v1h-2zM193 269h2v1h-2zM191 270h2v1h-2zM189 271h2v1h-2zM187 272h2v1h-2zM185 273h2v1h-2zM183 274h2v1h-2zM179 275h4v1h-4zM176 276h3v1h-3zM172 277h4v1h-4zM169 278h3v1h-3zM166 279h3v1h-3zM162 280h4v1h-4zM158 281h4v1h-4zM154 282h4v1h-4zM150 283h4v1h-4zM146 284h4v1h-4zM142 285h4v1h-4zM138 286h4v1h-4zM135 287h3v1h-3z" fill="#f0f0f0"/>
<g transform="translate(-1261,-464)"><text x="1363" y="762.5" fill="#20e0e0" font-size="12" font-family="Liberation Sans" text-anchor="middle">2315</text><text x="1465" y="585" fill="#ff4040" font-size="12" font-family="Liberation Sans" text-anchor="middle">2444</text><text x="1584" y="553.5" fill="#ff4040" font-size="12" font-family="Liberation Sans" text-anchor="middle">2470</text><text x="1771" y="684" fill="#20e0e0" font-size="12" font-family="Liberation Sans" text-anchor="middle">2378</text><path d="M1499.5,600 L1503,596 L1500.5,596 L1500.5,592 L1498.5,592 L1498.5,596 L1496,596 Z" fill="#20d020" shape-rendering="auto"/><path d="M1635.5,564 L1639,560 L1636.5,560 L1636.5,556 L1634.5,556 L1634.5,560 L1632,560 Z" fill="#20d020" shape-rendering="auto"/><text x="1374" y="720" fill="#f0e818" font-size="11.5" font-family="Liberation Sans">买</text><text x="1731" y="596" fill="#24c424" font-size="11.5" font-family="Liberation Sans">卖</text></g>
<rect x="51" y="344" width="1" height="10" fill="#20d0e0"/>
<rect x="68" y="344" width="1" height="11" fill="#20d0e0"/>
<rect x="85" y="344" width="1" height="13" fill="#20d0e0"/>
<rect x="102" y="344" width="1" height="13" fill="#20d0e0"/>
<rect x="119" y="344" width="1" height="9" fill="#20d0e0"/>
<rect x="136" y="344" width="1" height="3" fill="#20d0e0"/>
<rect x="153" y="342" width="1" height="1" fill="#ff2020"/>
<rect x="170" y="339" width="1" height="4" fill="#ff2020"/>
<rect x="187" y="335" width="1" height="8" fill="#ff2020"/>
<rect x="204" y="331" width="1" height="12" fill="#ff2020"/>
<rect x="221" y="331" width="1" height="12" fill="#ff2020"/>
<rect x="238" y="333" width="1" height="10" fill="#ff2020"/>
<rect x="255" y="337" width="1" height="6" fill="#ff2020"/>
<rect x="272" y="335" width="1" height="8" fill="#ff2020"/>
<rect x="289" y="335" width="1" height="8" fill="#ff2020"/>
<rect x="306" y="332" width="1" height="11" fill="#ff2020"/>
<rect x="323" y="332" width="1" height="11" fill="#ff2020"/>
<rect x="340" y="334" width="1" height="9" fill="#ff2020"/>
<rect x="357" y="334" width="1" height="9" fill="#ff2020"/>
<rect x="374" y="339" width="1" height="4" fill="#ff2020"/>
<rect x="391" y="342" width="1" height="1" fill="#ff2020"/>
<rect x="408" y="344" width="1" height="1" fill="#20d0e0"/>
<rect x="425" y="344" width="1" height="1" fill="#20d0e0"/>
<rect x="442" y="344" width="1" height="3" fill="#20d0e0"/>
<rect x="459" y="344" width="1" height="4" fill="#20d0e0"/>
<rect x="476" y="344" width="1" height="7" fill="#20d0e0"/>
<rect x="493" y="344" width="1" height="10" fill="#20d0e0"/>
<rect x="510" y="344" width="1" height="14" fill="#20d0e0"/>
<rect x="527" y="344" width="1" height="13" fill="#20d0e0"/>
<rect x="544" y="344" width="1" height="12" fill="#20d0e0"/>
<path d="M330 321h34v1h-34zM302 322h28v1h-28zM364 322h16v1h-16zM295 323h7v1h-7zM380 323h16v1h-16zM288 324h7v1h-7zM396 324h21v1h-21zM280 325h8v1h-8zM417 325h25v1h-25zM273 326h7v1h-7zM442 326h16v1h-16zM218 327h13v1h-13zM266 327h7v1h-7zM458 327h6v1h-6zM210 328h8v1h-8zM231 328h16v1h-16zM259 328h7v1h-7zM464 328h7v1h-7zM204 329h6v1h-6zM247 329h12v1h-12zM471 329h7v1h-7zM199 330h5v1h-5zM478 330h6v1h-6zM194 331h5v1h-5zM484 331h6v1h-6zM189 332h5v1h-5zM490 332h5v1h-5zM184 333h5v1h-5zM495 333h4v1h-4zM179 334h5v1h-5zM499 334h5v1h-5zM174 335h5v1h-5zM504 335h5v1h-5zM169 336h5v1h-5zM509 336h4v1h-4zM51 337h4v1h-4zM164 337h5v1h-5zM513 337h5v1h-5zM55 338h8v1h-8zM159 338h5v1h-5zM518 338h27v1h-27zM63 339h8v1h-8zM153 339h6v1h-6zM71 340h8v1h-8zM146 340h7v1h-7zM79 341h8v1h-8zM138 341h8v1h-8zM87 342h11v1h-11zM131 342h7v1h-7zM98 343h15v1h-15zM124 343h7v1h-7zM113 344h11v1h-11z" fill="#f0f0f0"/>
<path d="M344 324h44v1h-44zM322 325h22v1h-22zM388 325h50v1h-50zM300 326h22v1h-22zM438 326h33v1h-33zM283 327h17v1h-17zM471 327h21v1h-21zM272 328h11v1h-11zM492 328h8v1h-8zM261 329h11v1h-11zM500 329h8v1h-8zM250 330h11v1h-11zM508 330h8v1h-8zM239 331h11v1h-11zM516 331h16v1h-16zM51 332h5v1h-5zM228 332h11v1h-11zM532 332h13v1h-13zM56 333h8v1h-8zM217 333h11v1h-11zM64 334h9v1h-9zM206 334h11v1h-11zM73 335h9v1h-9zM195 335h11v1h-11zM82 336h8v1h-8zM184 336h11v1h-11zM90 337h9v1h-9zM173 337h11v1h-11zM99 338h9v1h-9zM162 338h11v1h-11zM108 339h8v1h-8zM138 339h24v1h-24zM116 340h22v1h-22z" fill="#e0e000"/>
<circle cx="153.5999999999999" cy="329.70000000000005" r="3.5" fill="#ff1010" shape-rendering="auto"/><circle cx="152.7999999999999" cy="328.80000000000007" r="1" fill="#ffb0b0" shape-rendering="auto"/>
<rect x="51" y="447" width="1" height="21" fill="#20d0e0"/>
<rect x="68" y="447" width="1" height="28" fill="#20d0e0"/>
<rect x="85" y="447" width="1" height="31" fill="#20d0e0"/>
<rect x="102" y="447" width="1" height="31" fill="#20d0e0"/>
<rect x="119" y="447" width="1" height="22" fill="#20d0e0"/>
<rect x="136" y="447" width="1" height="6" fill="#20d0e0"/>
<rect x="153" y="444" width="1" height="2" fill="#ff2020"/>
<rect x="170" y="437" width="1" height="9" fill="#ff2020"/>
<rect x="187" y="426" width="1" height="20" fill="#ff2020"/>
<rect x="204" y="417" width="1" height="29" fill="#ff2020"/>
<rect x="221" y="417" width="1" height="29" fill="#ff2020"/>
<rect x="238" y="424" width="1" height="22" fill="#ff2020"/>
<rect x="255" y="431" width="1" height="15" fill="#ff2020"/>
<rect x="272" y="428" width="1" height="18" fill="#ff2020"/>
<rect x="289" y="426" width="1" height="20" fill="#ff2020"/>
<rect x="306" y="421" width="1" height="25" fill="#ff2020"/>
<rect x="323" y="421" width="1" height="25" fill="#ff2020"/>
<rect x="340" y="425" width="1" height="21" fill="#ff2020"/>
<rect x="357" y="425" width="1" height="21" fill="#ff2020"/>
<rect x="374" y="436" width="1" height="10" fill="#ff2020"/>
<rect x="391" y="441" width="1" height="5" fill="#ff2020"/>
<rect x="408" y="447" width="1" height="2" fill="#20d0e0"/>
<rect x="425" y="447" width="1" height="4" fill="#20d0e0"/>
<rect x="442" y="447" width="1" height="8" fill="#20d0e0"/>
<rect x="459" y="447" width="1" height="10" fill="#20d0e0"/>
<rect x="476" y="447" width="1" height="17" fill="#20d0e0"/>
<rect x="493" y="447" width="1" height="22" fill="#20d0e0"/>
<rect x="510" y="447" width="1" height="33" fill="#20d0e0"/>
<rect x="527" y="447" width="1" height="31" fill="#20d0e0"/>
<rect x="544" y="447" width="1" height="28" fill="#20d0e0"/>
<path d="M351 395h9v1h-9zM343 396h8v1h-8zM360 396h8v1h-8zM335 397h8v1h-8zM368 397h8v1h-8zM326 398h9v1h-9zM376 398h8v1h-8zM318 399h8v1h-8zM384 399h8v1h-8zM310 400h8v1h-8zM392 400h8v1h-8zM304 401h6v1h-6zM400 401h7v1h-7zM302 402h2v1h-2zM407 402h5v1h-5zM299 403h3v1h-3zM412 403h5v1h-5zM297 404h2v1h-2zM417 404h5v1h-5zM295 405h2v1h-2zM422 405h5v1h-5zM292 406h3v1h-3zM427 406h5v1h-5zM290 407h2v1h-2zM432 407h6v1h-6zM286 408h4v1h-4zM438 408h5v1h-5zM280 409h6v1h-6zM443 409h5v1h-5zM275 410h5v1h-5zM448 410h5v1h-5zM269 411h6v1h-6zM453 411h5v1h-5zM220 412h11v1h-11zM264 412h5v1h-5zM458 412h4v1h-4zM214 413h6v1h-6zM231 413h16v1h-16zM258 413h6v1h-6zM462 413h4v1h-4zM209 414h5v1h-5zM247 414h11v1h-11zM466 414h3v1h-3zM206 415h3v1h-3zM469 415h3v1h-3zM204 416h2v1h-2zM472 416h4v1h-4zM202 417h2v1h-2zM476 417h3v1h-3zM200 418h2v1h-2zM479 418h3v1h-3zM198 419h2v1h-2zM482 419h4v1h-4zM196 420h2v1h-2zM486 420h3v1h-3zM194 421h2v1h-2zM489 421h2v1h-2zM192 422h2v1h-2zM491 422h2v1h-2zM190 423h2v1h-2zM493 423h2v1h-2zM188 424h2v1h-2zM495 424h2v1h-2zM186 425h2v1h-2zM497 425h2v1h-2zM184 426h2v1h-2zM499 426h3v1h-3zM182 427h2v1h-2zM502 427h2v1h-2zM180 428h2v1h-2zM504 428h2v1h-2zM178 429h2v1h-2zM506 429h2v1h-2zM176 430h2v1h-2zM508 430h2v1h-2zM174 431h2v1h-2zM510 431h2v1h-2zM172 432h2v1h-2zM512 432h5v1h-5zM168 433h4v1h-4zM517 433h6v1h-6zM51 434h2v1h-2zM164 434h4v1h-4zM523 434h6v1h-6zM53 435h3v1h-3zM161 435h3v1h-3zM529 435h6v1h-6zM56 436h4v1h-4zM157 436h4v1h-4zM535 436h6v1h-6zM60 437h3v1h-3zM153 437h4v1h-4zM541 437h4v1h-4zM63 438h3v1h-3zM150 438h3v1h-3zM66 439h3v1h-3zM146 439h4v1h-4zM69 440h4v1h-4zM142 440h4v1h-4zM73 441h3v1h-3zM139 441h3v1h-3zM76 442h3v1h-3zM137 442h2v1h-2zM79 443h3v1h-3zM134 443h3v1h-3zM82 444h4v1h-4zM132 444h2v1h-2zM86 445h3v1h-3zM129 445h3v1h-3zM89 446h3v1h-3zM127 446h2v1h-2zM92 447h3v1h-3zM124 447h3v1h-3zM95 448h4v1h-4zM122 448h2v1h-2zM99 449h3v1h-3zM112 449h10v1h-10zM102 450h10v1h-10z" fill="#f0f0f0"/>
<path d="M383 403h14v1h-14zM372 404h11v1h-11zM397 404h16v1h-16zM361 405h11v1h-11zM413 405h17v1h-17zM352 406h9v1h-9zM430 406h16v1h-16zM346 407h6v1h-6zM446 407h13v1h-13zM340 408h6v1h-6zM459 408h8v1h-8zM334 409h6v1h-6zM467 409h8v1h-8zM328 410h6v1h-6zM475 410h8v1h-8zM322 411h6v1h-6zM483 411h8v1h-8zM316 412h6v1h-6zM491 412h8v1h-8zM310 413h6v1h-6zM499 413h7v1h-7zM304 414h6v1h-6zM506 414h4v1h-4zM298 415h6v1h-6zM510 415h4v1h-4zM292 416h6v1h-6zM514 416h4v1h-4zM285 417h7v1h-7zM518 417h4v1h-4zM279 418h6v1h-6zM522 418h4v1h-4zM272 419h7v1h-7zM526 419h4v1h-4zM265 420h7v1h-7zM530 420h4v1h-4zM259 421h6v1h-6zM534 421h4v1h-4zM252 422h7v1h-7zM538 422h4v1h-4zM51 423h3v1h-3zM246 423h6v1h-6zM542 423h3v1h-3zM54 424h5v1h-5zM239 424h7v1h-7zM59 425h4v1h-4zM232 425h7v1h-7zM63 426h5v1h-5zM226 426h6v1h-6zM68 427h5v1h-5zM219 427h7v1h-7zM73 428h5v1h-5zM213 428h6v1h-6zM78 429h5v1h-5zM207 429h6v1h-6zM83 430h4v1h-4zM201 430h6v1h-6zM87 431h5v1h-5zM195 431h6v1h-6zM92 432h5v1h-5zM189 432h6v1h-6zM97 433h5v1h-5zM183 433h6v1h-6zM102 434h5v1h-5zM177 434h6v1h-6zM107 435h4v1h-4zM171 435h6v1h-6zM111 436h5v1h-5zM165 436h6v1h-6zM116 437h5v1h-5zM159 437h6v1h-6zM121 438h38v1h-38z" fill="#e0e000"/>
<circle cx="409" cy="395.79999999999995" r="3.5" fill="#ff1010" shape-rendering="auto"/><circle cx="408.2" cy="394.9" r="1" fill="#ffb0b0" shape-rendering="auto"/>
<text x="94" y="499" fill="#b0b0b0" font-size="12" font-family='"Liberation Sans", sans-serif' font-weight="normal" text-anchor="middle" >2022/07/19</text>
<text x="298" y="499" fill="#b0b0b0" font-size="12" font-family='"Liberation Sans", sans-serif' font-weight="normal" text-anchor="middle" >2022/07/20</text>
<text x="502" y="499" fill="#b0b0b0" font-size="12" font-family='"Liberation Sans", sans-serif' font-weight="normal" text-anchor="middle" >2022/07/21</text>
<rect x="502" y="293" width="1" height="8" fill="#909090"/>
<rect x="502" y="354" width="1" height="8" fill="#909090"/>
<rect x="502" y="476" width="1" height="8" fill="#909090"/>
</g>
<rect x="0" y="968" width="1870" height="19" fill="#24272c"/>
<text x="-4" y="985" fill="#ff8c28" font-size="12" font-family='"Liberation Sans", sans-serif' font-weight="normal" text-anchor="start" >我的板块</text>
<rect x="58" y="979" width="11" height="2" fill="#d0d0d0"/>
<rect x="62.5" y="974.5" width="2" height="11" fill="#d0d0d0"/>
<rect x="1697" y="978" width="124" height="9" fill="#f4f4f4"/>
<rect x="1820" y="960" width="50" height="27" fill="#2e3138"/>
<rect x="1865" y="960" width="5" height="27" fill="#4a4d54"/>
<path d="M1716,979 H1702 L1698,983 H1712 L1709,987" fill="none" stroke="#ff6a20" stroke-width="2.2" shape-rendering="auto"/>
<text x="1736.5" y="990" fill="#1a6ad0" font-size="13" font-family="Liberation Sans" text-anchor="middle">中</text>
<path d="M1763,978 Q1759,983 1761,987 L1765,987 Q1763,983 1763,978 Z" fill="#1a6ad0" shape-rendering="auto"/>
<circle cx="1777.5" cy="981.5" r="1.6" fill="none" stroke="#1a6ad0" stroke-width="1.2" shape-rendering="auto"/><circle cx="1783" cy="986" r="1.8" fill="#1a6ad0" shape-rendering="auto"/>
<rect x="1796" y="979" width="14" height="8" fill="#1a6ad0"/>
<rect x="1798" y="981" width="2" height="2" fill="#f4f4f4"/>
<rect x="1801" y="981" width="2" height="2" fill="#f4f4f4"/>
<rect x="1804" y="981" width="2" height="2" fill="#f4f4f4"/>
<rect x="1807" y="981" width="2" height="2" fill="#f4f4f4"/>
<rect x="1798" y="984" width="2" height="2" fill="#f4f4f4"/>
<rect x="1801" y="984" width="2" height="2" fill="#f4f4f4"/>
<rect x="1804" y="984" width="2" height="2" fill="#f4f4f4"/>
<rect x="1807" y="984" width="2" height="2" fill="#f4f4f4"/>
<text x="1616" y="977" font-size="30" font-family="Liberation Serif" font-weight="bold" textLength="246" lengthAdjust="spacingAndGlyphs" stroke="#ffffff" stroke-width="5" stroke-linejoin="round" fill="#ffffff" shape-rendering="auto">www.cmszwz.com</text>
<defs><linearGradient id="wr" x1="0" y1="0" x2="0" y2="1"><stop offset="0" stop-color="#f04060"/><stop offset="1" stop-color="#a00828"/></linearGradient><linearGradient id="wc" x1="0" y1="0" x2="0" y2="1"><stop offset="0" stop-color="#50e8f0"/><stop offset="1" stop-color="#0898b0"/></linearGradient></defs>
<text x="1616" y="977" font-size="30" font-family="Liberation Serif" font-weight="bold" textLength="246" lengthAdjust="spacingAndGlyphs"><tspan fill="url(#wr)">www.</tspan><tspan fill="url(#wc)">cms</tspan><tspan fill="url(#wr)">zwz.com</tspan></text>
</svg></body></html>
